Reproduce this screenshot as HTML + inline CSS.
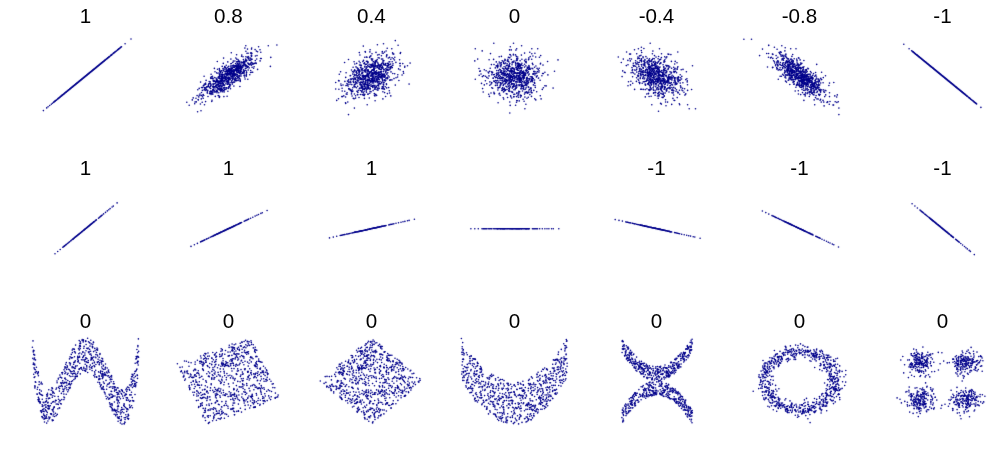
<!DOCTYPE html>
<html lang="en">
<head>
<meta charset="utf-8">
<title>Correlation examples</title>
<style>
html,body{margin:0;padding:0;background:#fff;}
body{width:1000px;height:457px;position:relative;overflow:hidden;font-family:"Liberation Sans",sans-serif;}
svg{position:absolute;left:0;top:0;display:block;}
.t{position:absolute;width:80px;text-align:center;font-size:20.6px;line-height:24px;color:#000;white-space:nowrap;will-change:transform;transform:translate(0.45px,0);}
</style>
</head>
<body>
<svg width="1000" height="457" viewBox="0 0 1000 457" fill="none" stroke="#00008b" stroke-width="1.6" stroke-linecap="round" stroke-linejoin="round">
<defs><filter id="soft" x="0" y="0" width="1000" height="457" filterUnits="userSpaceOnUse" color-interpolation-filters="sRGB"><feConvolveMatrix order="3" kernelMatrix="0.0052 0.0619 0.0052 0.0619 0.7314 0.0619 0.0052 0.0619 0.0052" divisor="1" edgeMode="none" preserveAlpha="false"/></filter></defs>
<g filter="url(#soft)">
<g><path d="M87.7 74.4zM106.7 58.8zM112.4 54.1zM93.1 70zM87.6 74.5zM79.3 81.3zM78.9 81.6zM106 59.4zM60.3 96.8zM65.3 92.7zM84.5 77zM91.9 71zM83.8 77.6zM88.9 73.4zM97.3 66.6zM89.7 72.8zM80 80.7zM102.3 62.4zM69.1 89.6zM57.8 98.9zM117.2 50.3zM78 82.3zM110.8 55.5zM79 81.5zM77.8 82.5zM81.9 79.1zM121 47.1zM99 65.1zM53.6 102.3zM99.9 64.4zM104.4 60.7zM88.6 73.7zM99.6 64.7zM101.8 62.9zM74.6 85.1zM94.6 68.8zM88.6 73.7zM76.4 83.7zM94.6 68.7zM114.9 52.1zM93.5 69.6zM81.3 79.6zM104.9 60.3zM95.7 67.9zM83 78.3zM92.5 70.5zM96.3 67.3zM89.1 73.2zM94.2 69zM89.5 73zM85.4 76.3zM76.6 83.5zM91.1 71.6zM69.9 88.9zM100.6 63.8zM99.8 64.5zM96.4 67.3zM85.8 75.9zM90.3 72.3zM111.8 54.7zM82 79.1zM119.4 48.5zM109.5 56.5zM61 96.3zM76.8 83.3zM89.3 73.1zM77.7 82.6zM81.8 79.2zM94.6 68.7zM107.5 58.2zM100.7 63.7zM81.6 79.4zM69.9 89zM98.5 65.6zM89.2 73.2zM87.9 74.2zM74.9 84.9zM102.7 62.1zM72.9 86.5zM90.3 72.2zM66.8 91.5zM82.5 78.6zM82.5 78.6zM101.1 63.4zM114.5 52.5zM66.5 91.8zM80.6 80.2zM87.9 74.2zM66.4 91.8zM90.4 72.2zM118.3 49.4zM84.6 77zM93.7 69.5zM77 83.2zM92.6 70.4zM83.7 77.7zM80.5 80.2zM102.5 62.2zM77.4 82.8zM106.3 59.1zM71.3 87.8zM71.4 87.7zM88.1 74.1zM91.9 70.9zM91.1 71.6zM77.1 83.1zM90.2 72.3zM97.4 66.4zM78.6 81.9zM79.8 80.8zM97.6 66.3zM96.7 67zM91.4 71.4zM85.8 75.9zM116.1 51.2zM87.9 74.2zM85.7 76zM79.1 81.4zM97.4 66.4zM73 86.4zM84 77.4zM83 78.3zM101.2 63.3zM92 70.8zM82.2 78.9zM84.9 76.6zM88.4 73.8zM78.6 81.8zM65.3 92.7zM82.5 78.6zM87.1 74.9zM114.2 52.7zM105.4 59.9zM97.8 66.1zM81.9 79.1zM67.9 90.6zM93.5 69.7zM82.6 78.6zM64.9 93zM95.1 68.4zM89.5 72.9zM55.7 100.5zM92.2 70.7zM57.4 99.2zM75.6 84.3zM55 101.1zM83.8 77.6zM60.8 96.4zM96 67.6zM67.2 91.2zM83 78.2zM99 65.1zM86.9 75zM92.1 70.8zM84.1 77.3zM86.8 75.1zM88.7 73.6zM84.6 77zM83.1 78.1zM76.9 83.2zM75.7 84.2zM83.3 78zM92.2 70.7zM80 80.7zM102.9 61.9zM87.6 74.5zM99.2 65zM108.6 57.3zM77.8 82.5zM97.8 66.1zM88.6 73.6zM97.3 66.5zM82.1 79zM71.6 87.5zM80.5 80.3zM109 57zM91 71.7zM61.8 95.6zM108.3 57.6zM60.7 96.5zM76 84zM96 67.6zM67.4 91zM90.7 72zM85.8 75.9zM84.2 77.2zM90.6 72zM86.9 75zM110.2 56zM92.2 70.7zM68 90.5zM91.4 71.4zM66.4 91.8zM66.8 91.5zM107 58.6zM68.6 90.1zM104 61zM85.6 76.1zM105.8 59.6zM73.8 85.8zM80.9 79.9zM86.5 75.4zM85.3 76.4zM87.8 74.3zM83.8 77.6zM94.4 68.9zM82.6 78.5zM76.5 83.6zM77.4 82.8zM62.1 95.3zM91.4 71.3zM109.9 56.2zM63.2 94.4zM104 61zM74.8 85zM89.6 72.8zM88.5 73.7zM85.3 76.4zM95.3 68.2zM68.5 90.1zM85.3 76.3zM97.1 66.7zM90.5 72.1zM92.6 70.3zM60.4 96.8zM77.3 82.9zM94.1 69.1zM108.3 57.5zM92.5 70.5zM84.9 76.7zM77.5 82.8zM103.1 61.8zM110.7 55.6zM87.2 74.8zM71.6 87.6zM73.8 85.7zM55.5 100.8zM87.3 74.7zM67.8 90.7zM98.3 65.7zM80.9 80zM108.1 57.7zM71.3 87.8zM70.6 88.4zM65.4 92.6zM68.6 90.1zM77.7 82.6zM87.7 74.4zM93.9 69.3zM78.5 81.9zM92.9 70.1zM65.7 92.4zM105.5 59.8zM92 70.9zM93.9 69.4zM81.6 79.4zM107.8 58zM66.1 92.1zM99.7 64.5zM76.3 83.7zM63.7 94.1zM101.1 63.5zM81.4 79.6zM80.6 80.2zM86.5 75.3zM82.1 79zM76.1 83.9zM88.9 73.4zM112.9 53.8zM70.8 88.2zM80.2 80.5zM79.3 81.3zM80.7 80.1zM85.3 76.3zM92.8 70.2zM81.4 79.5zM80.4 80.4zM78.7 81.7zM88.7 73.6zM76.8 83.3zM52.5 103.2zM99.9 64.4zM84.6 76.9zM62 95.5zM73.9 85.6zM100.6 63.8zM69.8 89.1zM102 62.7zM77.4 82.8zM91 71.7zM94.3 69zM73.1 86.4zM94.4 68.9zM66.6 91.7zM104.8 60.4zM85.1 76.5zM80.7 80.1zM88.1 74.1zM79 81.5zM97.5 66.4zM97.5 66.4zM79.4 81.2zM98.3 65.7zM70.5 88.5zM90.5 72.1zM91.3 71.4zM92.2 70.7zM79.3 81.2zM98 66zM78 82.3zM116.6 50.7zM96.8 66.9zM86.3 75.6zM98.5 65.5zM102.6 62.2zM84.1 77.3zM93.3 69.8zM67.7 90.8zM72.2 87zM84.9 76.7zM85.7 76.1zM64.8 93.1zM58.9 98zM75.6 84.3zM72 87.3zM78.8 81.7zM113.3 53.4zM79 81.5zM73.1 86.3zM72.5 86.9zM89.7 72.7zM131 39zM89.3 73.1zM86.8 75.1zM74.1 85.5zM95.2 68.3zM100.4 64zM88.1 74.1zM86.1 75.7zM81.6 79.4zM93.1 70zM77 83.1zM90.5 72.1zM89.1 73.2zM75.1 84.7zM98 66zM86.1 75.7zM80 80.7zM87.5 74.5zM77.6 82.7zM67.6 90.8zM86.5 75.4zM96.7 67.1zM104.6 60.5zM120.5 47.5zM84.5 77zM103 61.9zM76.7 83.4zM51.3 104.2zM79.8 80.8zM61.3 96zM97.1 66.7zM89.2 73.2zM65.2 92.8zM89.9 72.5zM67 91.3zM80.1 80.6zM43.4 110.6zM89.7 72.8zM91.5 71.3zM71 88.1zM95.8 67.8zM65.8 92.3zM83.2 78.1zM80.6 80.2zM75.8 84.1zM105.4 59.9zM55.2 101zM103.4 61.5zM92 70.9zM69.1 89.6zM94.9 68.5zM85.6 76.1zM100.5 63.9zM77.4 82.8zM95.8 67.7zM88.6 73.6zM99.9 64.4zM71.9 87.3zM73.5 86zM95.7 67.9zM56.8 99.7zM72.7 86.7zM64.1 93.7zM82.1 79zM94.3 69zM105.8 59.6zM55.2 101zM65.7 92.4zM79.7 81zM98.7 65.4zM82.1 79zM83.7 77.7zM102.7 62.1zM77 83.1zM77.7 82.5zM83 78.3zM75.5 84.4zM80.1 80.6zM78.6 81.8z"/><path d="M76.6 83.5zM93.6 69.6zM95.2 68.3zM102.5 62.3zM77.5 82.7zM66.2 92zM85.2 76.4zM75.6 84.3zM93.1 70zM75.1 84.7zM96.3 67.4zM64.9 93zM87.1 74.9zM75.8 84.1zM118.8 48.9zM96.1 67.5zM46.7 107.9zM79.1 81.4zM81 79.9zM62.3 95.2zM98.3 65.7zM71.7 87.5zM94.8 68.6zM87 75zM94.5 68.8zM66.3 91.9zM64.3 93.6zM98.8 65.3zM70.9 88.1zM78.7 81.8zM81.3 79.7zM100.3 64.1zM67.1 91.3zM73.9 85.7zM55.1 101.1zM77.7 82.5zM74.3 85.4zM83.8 77.6zM62.2 95.3zM70.7 88.3zM74.3 85.3zM74.9 84.9zM88 74.2zM82.4 78.8zM83.1 78.2zM77.7 82.6zM73 86.4zM84.9 76.7zM84.4 77.1zM69.6 89.2zM81.8 79.2zM61.7 95.7zM59.7 97.3zM99.8 64.5zM86.7 75.2zM101 63.5zM99.1 65.1zM91.8 71zM90 72.5zM78.4 82zM80.7 80.1zM84.2 77.2zM86 75.8zM62.9 94.7zM93.4 69.7zM73.9 85.7zM78.9 81.6zM79.2 81.3zM73.8 85.7zM93 70.1zM70.5 88.5zM66.3 91.9zM94.3 69zM74.7 85zM91.8 71zM103.3 61.6zM69.9 88.9zM84.4 77.1zM87 75zM102.8 62zM66 92.2zM59.3 97.7zM89.5 72.9zM84.3 77.2zM95.9 67.7zM77 83.2zM87.5 74.5zM68.3 90.2zM87.6 74.4zM93.9 69.3zM76.1 83.9zM89.1 73.3zM88.5 73.7zM95.6 67.9zM58.2 98.5zM110.9 55.4zM83.2 78.1zM70 88.9zM81.8 79.2zM74.5 85.2zM79.9 80.8zM73.7 85.8zM78.8 81.7zM83.2 78.1zM70.2 88.7zM99.2 65zM86.6 75.3zM80.2 80.5zM82.9 78.4zM81.5 79.5zM75.9 84zM92 70.9zM91.7 71.1zM86.4 75.5zM88.1 74.1zM109.1 56.9zM74.2 85.4zM87.5 74.6zM79.7 81zM85.5 76.2zM89 73.4zM102.7 62.1zM106.9 58.7zM96.7 67zM76 84zM69.7 89.1zM113.7 53.1zM73.3 86.2zM89.9 72.6zM101.1 63.5zM82.6 78.6zM77.1 83.1zM85.9 75.9zM72 87.3zM81.2 79.7zM82.6 78.6zM100.7 63.7zM81.2 79.7zM99.8 64.5zM82.1 79zM67.2 91.2zM83.5 77.8zM71.4 87.7zM97.4 66.5zM93.8 69.4zM97.4 66.5zM93.1 70zM83.8 77.6zM78 82.3zM76.1 83.9zM76.2 83.8zM89.8 72.7zM93.3 69.8zM69.2 89.5zM66.6 91.6zM101.5 63.1zM70 88.9zM76.4 83.6zM82.9 78.3zM68 90.5zM91.7 71.1zM74.1 85.5zM58.3 98.4zM86 75.8zM78.1 82.3zM92.8 70.2zM83.9 77.5zM85.4 76.3zM93.3 69.8zM77.4 82.8zM49.7 105.5zM70.7 88.3zM78 82.4zM97 66.7zM93.4 69.7zM107.4 58.2zM95.1 68.3zM78.2 82.2zM107.8 57.9zM81.7 79.3zM84.8 76.7zM87.4 74.6zM93.5 69.7zM82.8 78.4zM82.6 78.6zM84.3 77.1zM60.9 96.3zM95.3 68.2zM101.1 63.4zM106.9 58.7zM82.7 78.5zM99.5 64.8zM70.4 88.5zM78.7 81.8zM91.1 71.6zM104.2 60.9zM69 89.7zM83.9 77.5zM115.3 51.8zM75.7 84.2zM76.6 83.5zM98.1 65.9zM93.9 69.3zM75.7 84.2zM70.7 88.3zM93.9 69.3zM90.2 72.3zM81.4 79.6zM97.9 66zM72.4 86.9zM78.4 82zM66.5 91.7zM79.4 81.2zM83.3 78zM68.3 90.2zM93.8 69.4zM86.1 75.7zM89.5 72.9zM125.1 43.8zM91.1 71.6zM76.7 83.4zM103.1 61.8zM63.8 94zM83.5 77.8zM88.7 73.6zM89.6 72.8zM94.4 68.9zM86.6 75.3zM98.9 65.2zM67.7 90.7zM80.8 80.1zM95.2 68.2zM84.5 77zM90.8 71.8zM81.7 79.3zM74.5 85.2zM73.4 86.1zM84.8 76.8zM89.6 72.8zM68.4 90.2zM86.8 75.1zM71.7 87.5zM90 72.5zM96.2 67.4zM84.8 76.8zM93 70zM63.1 94.6zM94 69.2zM104.5 60.7zM68.1 90.4zM83.2 78zM60.8 96.4zM62.1 95.3zM92.1 70.8zM82.3 78.8zM64.4 93.5zM89.6 72.8zM89.5 72.9zM91.9 71zM92.7 70.3zM84.9 76.7zM89.5 72.9zM87.1 74.9zM90.7 71.9zM93.1 69.9zM99.5 64.8zM82.4 78.8zM69.9 88.9zM98.7 65.4zM77.6 82.7zM79.9 80.8zM90.5 72.1zM75.2 84.6zM69.1 89.6zM99.5 64.7zM48.1 106.8zM98.4 65.6zM90.7 71.9zM78.8 81.7zM85.4 76.3zM64.5 93.4zM95.9 67.7zM81 79.9zM87.2 74.8zM66.5 91.8zM74.1 85.5zM76 83.9zM92.9 70.1zM94 69.2zM90.7 72zM94 69.2zM84.2 77.3zM60.2 96.9zM83.6 77.8zM96 67.6zM60.2 96.9zM92.6 70.4zM71.7 87.5zM86.4 75.5zM90.9 71.8zM110.8 55.5zM94 69.2zM68.6 90.1zM86.1 75.7zM67.8 90.6zM81.1 79.8zM96 67.6zM83.2 78.1zM80.4 80.3zM79.5 81.1zM115.5 51.6zM73.3 86.2zM66.4 91.8zM89.1 73.2zM71.8 87.4zM83.3 78zM93.6 69.6zM77.8 82.5zM84.4 77.1zM68.8 89.8zM81.4 79.5zM89.1 73.3zM85.7 76zM101.4 63.2zM83.4 77.9zM97.5 66.3zM85.3 76.3zM62 95.4zM104.9 60.3zM117.7 49.8zM78.6 81.8zM86.3 75.5zM81.8 79.2zM87.7 74.4zM78 82.3zM87.5 74.6zM77.3 82.9zM88 74.2zM61.1 96.1zM88.9 73.4zM69.7 89.1zM70 88.9zM96 67.6zM63.7 94zM73 86.4zM98.2 65.8zM54.5 101.5zM72.4 87zM73.2 86.2zM75.1 84.7zM84.1 77.4zM107.5 58.2zM81.6 79.3zM95.6 67.9zM95.4 68.1zM84.6 76.9zM111.5 54.9zM82.4 78.7zM108.7 57.2zM104.6 60.6zM83.8 77.6zM100.5 63.9zM99 65.1zM74.5 85.2zM101.4 63.2zM100 64.3zM85.9 75.9zM80.3 80.5zM56.2 100.2zM92.5 70.4zM102.5 62.3zM121.5 46.7zM98.7 65.4zM62 95.4zM76.9 83.3zM68 90.5zM78.7 81.7zM86.2 75.6zM89.4 73zM109.2 56.8zM59.8 97.2zM84.1 77.3zM75.8 84.1zM95.8 67.8zM120 48zM90.2 72.4zM72 87.2zM75.6 84.3zM88.3 73.9zM105.1 60.1zM93 70.1zM89.7 72.8zM108 57.8zM85.7 76.1zM79.5 81.1zM95.9 67.7zM103.6 61.4zM81.1 79.8zM71.4 87.8zM83.8 77.6zM79.9 80.8zM101.7 62.9zM74.5 85.2zM54.1 101.9zM91.9 71zM93.9 69.3zM98.4 65.6zM97.9 66zM107.5 58.2z"/></g>
<g><path d="M228.5 71.8zM225.3 77.6zM244 65.6zM241.8 73.2zM252.7 63zM204.1 85.2zM215.8 81.8zM213.1 90.8zM221.2 80.7zM205.7 83.3zM228.5 68.6zM229.9 68.5zM233 73.3zM206.1 89.3zM221.4 81.3zM226 77.5zM228.4 88.5zM222.4 80zM222.1 79zM217.7 84zM217.8 82.1zM227.9 73.4zM207.8 86.8zM235.1 65.9zM216 85.4zM245.3 70.3zM218.8 92.7zM216.7 72.8zM212.1 78.5zM237.5 61.5zM224.9 81.9zM229 79.2zM241.8 55.1zM236.6 66.1zM233.6 73.8zM198.3 100zM227.5 80.7zM243.8 72.9zM235.4 80.2zM238.6 67.5zM230.4 72.1zM258.6 46.7zM237.6 76.9zM226.2 65.2zM231.8 74zM246.1 75.5zM233.3 61.1zM238.3 70.4zM228.1 74.3zM238.6 61.6zM236.3 67.9zM232.2 68.2zM231.8 68.9zM238.3 71zM227.6 78.6zM222.9 68.7zM222.5 91.8zM206 87.6zM229.1 78.7zM227.9 88.1zM233.9 86.1zM219.7 96.7zM252.1 59.3zM235.9 80.9zM229.8 86.9zM250.7 70.5zM221.9 88.4zM242.7 67.8zM223.3 70.6zM251.8 59.4zM227.3 78.2zM227.6 84.2zM250.6 60.1zM212.5 90.7zM248.2 56.5zM225.2 78.4zM218.5 88.9zM217.1 73.2zM201.3 98.9zM232.3 78.1zM231.1 70zM252 64.2zM217.5 69.3zM213.8 86.8zM227.2 71.7zM221.8 89.7zM249.3 60.2zM221.1 86.4zM213.5 87.2zM235.7 65.5zM251.7 55.3zM243.6 69.9zM228.2 73.5zM231.4 73.6zM237.7 65.8zM219 78.2zM228.1 80.3zM189.2 105.2zM251.4 62.5zM217.9 78zM211.4 76.7zM238 77.4zM217.6 85zM240 62.7zM232.5 79.5zM243 56.8zM221.1 88.4zM221.9 83.7zM242.5 67zM248.2 70zM244.1 71.2zM197.6 111.7zM239.8 61.4zM205.6 83.2zM261.2 58.5zM221.2 85.9zM243.4 59.6zM217.4 80.4zM234.7 73.3zM239.6 63.7zM219 83.5zM252.7 72.3zM213.8 80.2zM237.2 64zM238.8 64.7zM220.8 91.7zM256.7 59zM197.1 95.6zM218.7 78zM233.4 66.1zM224.7 76.8zM223.3 63.4zM227.3 82zM244.3 62.4zM235.1 74zM213.1 89.8zM200.6 82.1zM231.3 78.1zM226.8 73.9zM225 80.5zM203.3 85.9zM221.2 76.8zM234.3 71.7zM236.6 54.8zM244.7 77zM244.7 64.1zM224.2 75.8zM247 53.2zM226.1 77.6zM228.1 78.6zM219.1 96zM218.2 95.6zM220.4 89.3zM212.7 93.1zM228.5 74.7zM232.3 84.1zM236 74.6zM220.5 90.2zM230 71.7zM223.9 88.1zM219 76.5zM233.4 71.9zM232 66.2zM243.7 65.8zM257 55.6zM215.3 96.4zM222.3 76.6zM247.3 67.3zM257.6 51.7zM229.8 74zM203.2 98.3zM241 68.9zM239 72zM225.1 78.5zM225.7 71.4zM223 81zM226 87.9zM223.4 78.7zM227.9 74.9zM207.8 90.4zM213 78.6zM213.2 90.6zM218.7 85zM200.4 104zM211.4 91.4zM234.7 80zM205 83.8zM243.9 61.6zM238 68.1zM237.4 68.1zM222.4 72.5zM225.2 77.2zM225.1 76.4zM220.4 85.1zM215 71.8zM221.5 78.4zM245.1 61.1zM230.1 79.7zM231.6 71.6zM242.7 62.6zM193.2 97.9zM257.6 69.4z"/><path d="M227.8 61.9zM236.2 66.2zM228.9 77.8zM216.3 87.5zM228.8 86.9zM220 71.5zM239.7 68.6zM245.9 51.2zM238.7 67zM233.8 67.3zM222 78.2zM213.2 86.5zM243.7 63.9zM232.2 65.5zM236.5 80.5zM229.6 71.4zM230.2 74.3zM205.7 84.5zM227.7 67.2zM233.5 74.4zM214.2 92.1zM223.1 81.6zM217.2 81.4zM230.1 79.1zM205.6 101.6zM236.6 69.2zM255.1 49.6zM223.6 58.1zM231.3 63.5zM231.1 76.6zM270.4 66.4zM228.7 78zM228.8 66.3zM219.5 69.7zM229.9 78.2zM220.4 88.4zM212.7 78.1zM240.1 66.2zM245.5 65.7zM217.9 89.8zM242.7 72.4zM223.9 96.6zM228.6 80.9zM251.6 53zM231.5 68.2zM236.5 70zM243.8 61.2zM219.4 89.4zM211.5 93.3zM238.2 65.8zM250.9 58.7zM211.1 78.3zM238 66.2zM248.8 57.2zM201 95.5zM237.1 72.1zM202.7 90.5zM222.5 89.8zM202.3 90.3zM216.5 91.5zM236.8 72.1zM216.9 79.5zM221.2 70.9zM219.9 75.6zM232.5 68zM223.2 81.2zM202 95.3zM229.6 70.9zM219.3 97.4zM211.8 101.5zM240.1 65.2zM244.1 71.4zM270.8 57.4zM249.8 64.8zM229.9 73.6zM241.6 66.8zM236.6 67.9zM227.7 72.9zM212.9 89.5zM220.3 83.6zM238 77.6zM226.4 79.4zM232.1 76.2zM213.7 81.2zM202.5 87.6zM248.3 66.7zM232.3 70.3zM238 59.5zM221.9 80.1zM238.1 69.1zM201.5 87.5zM199.2 95.3zM211 93.3zM227.4 74.9zM233.2 73.8zM240.5 66.2zM229.4 74.6zM233.5 70.1zM210.1 81.7zM225.9 89.4zM230.9 68.9zM245.4 66.2zM238 80.6zM219.1 81.1zM276.9 45zM232 80.7zM225.6 73.9zM214.3 90.9zM230.9 59.1zM210.7 88.5zM245.6 59.1zM240.3 80.4zM237.6 63.4zM237 78.8zM244.1 73zM227.6 78zM216 82.7zM239.8 72.8zM242.4 62.5zM204.1 76.2zM233.7 70.1zM252.1 67.3zM211.1 74.2zM211.4 85zM236.9 64.9zM251.4 65.3zM260.6 58.5zM246.4 73.1zM219.9 81.9zM236.5 76.3zM224.1 85.3zM239.9 70.7zM230.2 70.6zM223.4 83.6zM240.4 65zM223.2 77.3zM246.4 74.6zM235.7 78.1zM210.6 91.1zM239.5 73.6zM232.9 78.4zM222.7 82.7zM232 70.8zM242.6 65.4zM234.6 79.7zM234.2 69.7zM230.8 63.7zM195 102zM238.4 65.7zM244.8 62.8zM226.4 71.1zM225.5 67.4zM222 75.9zM239.1 66.2zM209.5 93.6zM209.5 83.3zM229 70.6zM235.8 58zM244.1 64.7zM222.3 82.6zM209.8 92.1zM253.6 68.2zM231.3 52.8zM239.4 67.1zM228.5 77.4zM238.4 80zM241.3 69.3zM230.3 73zM212.6 92.1zM204.2 84.3zM201 110.7zM243.7 62.8zM250.2 63.7zM223.5 69zM248.1 53.2zM230.5 88.7zM208 96.5zM241.3 63zM251.5 56.4zM225 78.9zM224.4 67.8zM246.8 66.2zM247.5 66.2zM240.2 70.2zM215.7 91.9zM216.5 79.4zM226.7 74.7zM226.4 87.9zM249.8 74.8zM231.1 70.8zM222.6 75.5zM208.3 86.5zM196.3 101.9zM233.9 76.2zM236.6 67.3zM206.2 90zM234.3 74zM233.9 69.6zM240.8 69zM221.8 70.9zM244.2 71zM229.9 77.2z"/><path d="M215.4 86.5zM207.3 93.1zM234 74.5zM226.5 81.7zM251.8 53.5zM239.9 73.2zM237.6 70.6zM229.8 85.8zM227 70.4zM244.1 75.8zM246.6 72.6zM251.5 49.1zM237.2 69.2zM242.9 73.2zM219.6 78zM210.3 91.8zM225.9 68zM221.4 78zM268.3 45.7zM229.1 73.2zM209.6 87.1zM217.4 91.5zM222 80.1zM219.3 68.6zM226.1 77.9zM241.1 65zM217.3 61.5zM208.8 83.9zM237 69.1zM230.8 72.4zM251.2 55.2zM196 98.3zM247.8 63.1zM260 49.7zM255.9 62.9zM218.9 86.4zM235.1 66.6zM238.7 70.4zM227.2 73.6zM236.8 71.3zM227.4 84.1zM230.9 82.8zM228.8 87.1zM222.6 89.7zM215.9 85.4zM221.1 81.5zM218.7 82.7zM250.9 63.8zM223.3 90.6zM235.6 68.9zM222.3 85.1zM235.3 77.8zM237.4 74.5zM214.4 68.4zM224.5 80.7zM223.1 74.6zM236.5 74.8zM240.9 74.2zM227.9 73.9zM219.5 75.1zM231.7 73.3zM231 67.8zM234.2 79.6zM211.4 92zM219.7 77.8zM235.6 70zM236.3 66.7zM198.8 96.9zM254.1 66.8zM192.3 99.9zM231.6 72.4zM234.6 70.6zM229.7 74.6zM247.8 79.2zM221 74.1zM220.3 80.8zM210.4 83.4zM238.6 60.9zM206.7 86.9zM238.5 64.9zM229.6 78.9zM233.6 72zM221.5 79.8zM219.7 78.6zM239.7 76zM241.1 67zM228.7 78.5zM227.2 72.2zM240.3 67.6zM218.9 81.7zM227.4 82.1zM234.5 75.9zM224.1 80.8zM241 71.4zM233.9 74.8zM235.7 79.3zM236.3 70zM217.2 81.2zM224.5 74.3zM236.1 71.1zM221.2 76.3zM222.2 74.1zM219.5 70.6zM194.7 103.8zM214 86.6zM207.2 92.3zM237.1 68.3zM237.1 74.7zM239.1 72zM221.9 86.7zM241.6 62.1zM232.6 74.9zM203.8 95.5zM223.9 77.5zM256.2 63.4zM219.1 82.8zM234 78.6zM245.3 68.2zM225.7 77.2zM220.6 80zM252.9 64.2zM260.1 60.9zM239.9 78.9zM216.7 84.7zM230.3 73.2zM248.8 58.6zM219.6 83.1zM202.4 96.7zM250.6 72.5zM208.3 85.6zM243.9 71.2zM227.8 82.3zM251.7 48.1zM238.2 72.7zM214.3 81.4zM212.5 76.2zM216 86.1zM236.7 59.1zM213.1 84.9zM207.2 86.8zM229.9 72.5zM207.4 91.7zM235.4 75.2zM227.2 70.7zM233.5 65.3zM221.3 90.6zM219.9 85.3zM215 89zM233.8 65.2zM204.8 88.1zM238.2 77.2zM234.2 79.7zM221 81.9zM232.2 75.9zM231.6 81zM223.9 77zM239 69.8zM210.9 78.5zM250.6 53zM239.4 78.4zM260.8 52.3zM216.4 81.1zM237.2 66.8zM223.9 80.9zM226.6 69zM233.8 73.6zM234.6 82.1zM234.3 67.4zM232.9 70.2zM228.5 78.5zM222.3 77.3zM218 88.5zM229.5 84.8zM254.6 63.4zM228 74zM232.2 68.5zM240.7 72.1zM240.2 72.1zM234.9 61zM236.7 61.9zM214.7 86.9zM221.3 80.3zM221.6 74.7zM213.6 81.4zM241.6 56.3zM218 86.2zM246.1 68.3zM241.6 71zM200 94.1zM219.3 74zM249.6 60.3zM228.3 77.2zM225.9 83.7zM226.8 76.1zM232.2 76.8zM213.2 89.5zM219 82.5zM228.5 71.3zM218.9 73.1zM234.6 74zM249.7 64.5zM224.9 78.4z"/><path d="M225.3 73.1zM232.4 71.8zM213.5 84.3zM244.3 75.1zM212.8 94.2zM255.3 60.6zM216.7 81.3zM212.7 86.7zM214.3 81.1zM222.2 66.4zM219.7 86.4zM202.2 102.2zM248.6 64.5zM220.2 90.4zM232.3 71.5zM230.6 75.3zM212 100.2zM241.4 67.7zM218 88.1zM237.4 72.5zM213.1 83.8zM216.3 87.1zM242.2 73.2zM233.2 71.9zM237.9 75.5zM208.5 84.5zM247.5 49.1zM237 67.7zM213.1 80.7zM228.6 74.5zM223.8 87.9zM216.3 90.2zM217.9 84.8zM224.5 87.2zM231.6 82zM246.2 60zM229.5 79zM233.5 72.4zM256.4 51.1zM248.6 63.5zM210.6 86.4zM213.6 88zM237.9 69.8zM230 84.6zM240.3 70.9zM220 76.2zM220.6 72.5zM247.3 67.4zM227.1 96.3zM233.4 75.5zM235.5 69.4zM230.5 74.8zM224.2 71.2zM222.3 79.9zM227.2 70.5zM247.4 57.4zM209.6 87.7zM245.9 56.7zM228.6 82.3zM230.5 85zM217 92.7zM218.1 82.2zM226.9 74zM225 69.4zM241.7 69.1zM214.4 83.7zM220.3 78.8zM227.9 91.2zM219.6 76.2zM220.3 71.6zM210.5 85zM237.9 66.8zM215.7 82.9zM230.8 69.8zM232.8 82.8zM223.3 83.4zM246.5 71.1zM230.7 66.1zM236.3 74.1zM206.1 80.4zM224.7 85.1zM199.2 88.4zM250.2 58zM227.5 70.4zM227.4 72.6zM224.7 89.4zM243.9 61.8zM246 61.6zM211.1 94.4zM233.2 77.3zM201.5 92.5zM224.3 89.7zM203.2 94.6zM205.2 90.4zM230.4 70.1zM213.7 81.3zM204.3 87.6zM235.3 74.2zM221.1 81.7zM224.1 91.9zM197.8 89.8zM226.8 74.7zM218.3 77.1zM243 65.9zM222.1 78zM234.1 71.1zM229.4 78.6zM220.3 72.7zM253.6 63.7zM249.1 67.9zM226.8 71.1zM246.5 65.6zM217.9 88zM209.2 81.5zM219.8 74.4zM238.8 77.8zM206.5 89.6zM210.8 77.6zM240.3 80.3zM251.2 62.3zM205.5 88.1zM228.5 70.4zM226.1 73.9zM240.2 81.4zM245.8 45.7zM219.2 89.3zM186.8 102.2zM229.5 69.3zM221.9 86.8zM219.8 88.1zM248.3 58.9zM228.8 83.8zM234.7 65.7zM226.3 79.9zM214.8 77.6zM232.8 62.5zM213.8 87.5zM215.5 81.3zM226.6 70.9zM245.6 64.9zM241.1 76zM246.8 60.6zM225.5 79.2zM231.3 70.2zM228.1 69.6zM238.1 68zM246.4 76.1zM232.6 74.9zM229 82.9zM230.7 66zM232.5 74.2zM218.2 81zM238.5 68.4zM221.8 83.8zM232.7 75.6zM238.5 70.8zM223.5 84.6zM226.8 81.6zM232.4 75.8zM227.6 84.3zM204.5 104.8zM251.8 72.3zM212.5 78.6zM235.6 63.6zM228.7 79.9zM245.7 60.4zM232 73.9zM226.2 75zM221.6 77zM224.1 90.7zM245.1 79zM204.2 89.5zM216.2 78.3zM244.9 48.1zM240.6 66zM230.8 70.2zM210.5 83.5zM232.4 76.5zM255.4 56zM224.7 66.5zM217.3 91.1zM228.6 81.1zM238.1 69zM198.2 99.5zM222.9 78.6zM217.1 87.7zM251 53.1zM238.3 75.9zM245.2 64.5zM218 88.3zM246 59.8zM239.9 86.5zM215.4 81.6zM233.8 82zM216.6 80.1zM213.2 87.2zM239.6 75.9zM223.2 85.5zM238.1 63.2zM221 82.1zM232.2 68.2zM210.4 93.5z"/></g>
<g><path d="M377.2 81.5zM383.3 71.6zM387.4 66.4zM380.3 65.5zM383.2 53.3zM345.5 102.8zM360.9 67.5zM378.5 68.6zM383.7 86zM388.3 70.1zM387.3 63.2zM371.4 78.5zM361.6 78.7zM367.8 94.2zM366.4 61.3zM367.3 79.8zM375.7 94.4zM364.8 75.7zM382.3 51.5zM382.4 86.8zM359.3 76.6zM359.6 70.2zM356.9 91.2zM381.2 67.3zM378.6 74.5zM350.1 75.8zM366.1 75.8zM362.4 87.3zM367.6 88.7zM361.6 86zM378.1 66.9zM348.5 59.5zM356.2 74.7zM368.2 62.1zM375.7 77zM386 71.3zM380 83.9zM368.6 66.2zM346.2 94zM383.8 76.4zM368.7 87.8zM361.4 65.7zM357.5 91.8zM357.3 75.9zM382.4 66.6zM367.4 79.4zM350.4 79zM359.2 72.9zM365.9 80.3zM379.2 68.4zM382.4 67.7zM348.1 84.2zM350.8 82.6zM387.4 66.8zM386.6 55.3zM372.7 75.9zM377.1 73.4zM376.6 70.9zM368.4 70.2zM382.2 78.8zM398.9 80.5zM386.9 65.6zM369.6 66.2zM361.8 91.2zM375.9 76.3zM385 76.6zM369.6 79.1zM388.5 63.9zM362.2 94.6zM352.5 71.7zM378 65.7zM375.3 87.3zM375.1 100.8zM375.2 63.6zM335.7 89zM361.4 87.5zM383.5 60.9zM365.2 51.6zM371.7 76.1zM367.2 79.9zM375.2 82zM344.6 62.5zM369.1 73.4zM359 71.7zM386.7 78zM368.5 76.9zM372.9 77.1zM364.1 63.6zM373.2 70.1zM362.8 76.1zM380 81.5zM371.3 71.5zM383.5 43.8zM364.8 83.3zM341.2 85.5zM373.8 68.5zM369.4 80.5zM348 81.5zM383.6 84.6zM367.6 84.1zM373.2 66.3zM358.1 68.5zM370.1 49.7zM366.4 68.8zM367.2 74.5zM374.6 86.1zM381.8 65.2zM373.1 80.3zM388.3 58zM363.5 60.4zM369.1 80.4zM375.4 61.9zM389.8 69.7zM366.2 84.3zM388.3 64.9zM379.4 69.2zM364.5 62.9zM387.1 74zM371.2 73.8zM351.5 93.9zM365.3 82.5zM375.2 61zM373.2 72.2zM361 81.8zM371.1 75zM380 83.9zM377.9 75.7zM390.2 79.9zM382 75.9zM353.8 76.8zM392.3 67.6zM381.6 76.5zM381.5 82.8zM386.5 74.1zM382.3 86.6zM338.6 80.5zM400.6 52.6zM362.8 68.5zM356.1 72.3zM357.1 67.9zM389.6 93zM375 66.1zM357.2 80.3zM363 89.3zM352.9 91.1zM369.6 57.5zM362.7 89.2zM367.3 61.3zM378.1 74.8zM362.5 75.4zM376.1 76.7zM369.3 73.8zM354.1 74.3zM373.6 65.7zM392.2 61.8zM407.5 65.8zM379.3 79.6zM364.9 66.2zM347.5 81zM350.6 75.6zM355.5 81.5zM367.3 74.2zM356.5 87.7zM368.2 88.6zM361.6 86.9zM380.7 71.8zM378.2 75.5zM355.6 98.1zM362.8 76.1zM390.6 64.1zM360.6 78.9zM387.6 78.1zM380.5 76zM364.6 88.7zM357.6 86.2zM384 82.7zM357 73.4zM382.9 68.4zM374.9 95.9zM360 71.2zM389.6 57.4zM348.6 79.9zM373.1 70.2zM354.7 69.9zM400.1 69.7zM355.5 83.1zM353.2 81.6zM354.3 75zM372.4 85.5zM348.7 88.9zM363 78.7zM365.3 75.5zM364.1 91.3zM379.3 76zM354.9 86.4zM376 78.9zM391.4 66.4zM382.7 61zM385.3 75.9zM350.6 81.3zM390.2 67.1zM379.4 74.5zM354.1 86.7z"/><path d="M366.2 87.1zM386.7 69.2zM359 77.6zM376.8 61.6zM358.2 90.4zM378.5 73.1zM373.2 86.1zM380.7 69.6zM360.7 65.4zM379.3 58zM372.5 86.6zM374.1 78.4zM363.3 89.3zM386.9 54.9zM390.2 68.7zM391 71.9zM345.6 97zM371.9 81.2zM371.6 70.5zM360.4 94.5zM379.6 74zM376.7 80.1zM382.7 59zM373.6 70.4zM386.5 84.6zM382.9 67.8zM400.3 53.4zM384.2 77.3zM373.9 78.7zM377.5 85.2zM354.1 85.9zM357.8 94.8zM342.2 91zM383.8 60.6zM377.7 80.2zM354.4 84.6zM351.2 79.4zM353.2 78.9zM356.9 83.6zM374 68.2zM373.2 81.8zM381.5 59zM373.3 61.6zM388.2 65.7zM369.1 64.3zM366.9 72.1zM372.7 59.1zM385.6 96.5zM364.4 70zM354.2 98.8zM373.8 68.7zM367.8 76.5zM384.5 89.3zM364.2 63.6zM378 76.2zM370.6 76.1zM348.7 82.2zM360 84.2zM353.6 82.3zM367.2 70zM363.8 70.8zM350.1 89.7zM354.4 108.1zM371.4 81.3zM379 65.5zM374.6 72.4zM364.8 76.1zM368.3 71.2zM374.4 78.7zM400 63.5zM359.6 70.3zM364.5 86.1zM371.5 75.4zM363.8 88.8zM372.2 80.8zM370.6 81.7zM367.3 75.4zM382.4 74.9zM356.7 82.7zM357.9 92.5zM361.5 88zM399.8 63.5zM355.1 75.1zM365.3 77.6zM361.7 69.1zM376.4 86.4zM367.7 85.4zM381.3 69.8zM371.7 65.8zM387.6 69.9zM376.3 72.6zM372.4 74.1zM374.1 76.1zM335.7 82.5zM404.7 67.3zM362.1 90.6zM340.9 84zM378.2 78.1zM346.1 72.7zM363.4 95zM386.5 56.8zM374.1 68.2zM375.5 71.9zM378.5 72zM347.8 102zM364.6 67zM392.8 73.5zM385.4 68.7zM371.7 79zM372.2 64.3zM363 83.5zM369.2 73.6zM379.9 66.5zM363.8 76.6zM380.4 77.6zM378.8 87zM376.4 76.2zM394.8 57.3zM384.2 88.9zM371.9 72.6zM346 85.6zM368.6 87.4zM364.4 98.4zM359.3 82.8zM356.2 82.2zM350 84.2zM390.3 67zM340.6 71.7zM367 80.9zM341.8 96.6zM382.3 76zM365.4 52.1zM365.3 77zM375.8 81.6zM360.1 62.7zM382.9 62.8zM374 64.6zM365.4 88.3zM372.4 79.5zM356.1 77.3zM385.8 72.4zM387.8 72.8zM382.2 53zM368.2 94zM369.6 80.4zM358.3 78.2zM352.1 96zM349 88.6zM400.2 63.5zM336.7 100.4zM373 74.7zM352.4 91.5zM369.9 72.5zM376.4 79zM374.7 88zM372.7 86.9zM383.2 84.1zM355.7 79.5zM349.9 82zM393.8 54.1zM372.9 65.6zM358.6 75.1zM374.5 80.3zM357.7 70.2zM365.2 71.3zM388.1 75.9zM359.7 79.1zM370.9 65.6zM380.4 65.2zM391.8 48.7zM371 86.2zM373.6 83zM351.5 70zM375 66zM364.7 89.4zM368.6 79.6zM385.2 71zM375.8 76.6zM365.7 76.3zM367.5 86.1zM368.7 85.4zM354.4 94zM351.6 91.9zM360.1 88.1zM400.1 65.9zM392.8 65.4zM364.8 94.4zM370.8 64.6zM347.3 85.1zM367.8 80.9zM387.2 48.3zM389.7 64.7zM373.6 81.5zM366.8 84.9zM384.3 74.9zM353.3 98.4zM368.6 87zM362.1 72zM382 63.2zM378.4 64.7zM369.3 98zM342.4 96.6z"/><path d="M381.4 55.8zM357.1 75.7zM381.9 77.9zM397.8 74.7zM358.4 71zM367.6 73.7zM362.1 76.1zM372.2 74.1zM370 56.5zM389.3 90.8zM379.9 66.1zM378.6 88.7zM368.1 69.8zM383.6 69.8zM344.8 91.2zM366.4 57zM378.2 79.3zM371.9 59.2zM343.8 95.9zM391 67.9zM362.9 87.3zM380.4 65.8zM345.7 77.4zM382.8 80.4zM374.4 95.2zM381.3 73.1zM402.1 75zM350.5 90.3zM376 73.7zM377.4 82.8zM370 89.6zM377.9 73zM348.5 114.6zM359.5 65zM374.3 73.6zM371.8 86.3zM374 77.4zM387 67.9zM360.3 84.9zM359.2 72.8zM365.8 78.1zM359 70.3zM361.6 91.6zM370.1 80.8zM338.9 89.3zM367.9 82.5zM375.2 64.7zM371.1 91.8zM361.4 69.4zM375.1 63.4zM369.8 93.3zM358.1 69.5zM370.1 71.7zM376.5 74.2zM378.7 72.8zM377.7 82.8zM361.3 86.2zM384.6 52.1zM377 89.7zM364.8 71zM362.4 86.9zM384.1 65zM375.5 74.5zM357.4 94.6zM366.4 64.2zM359.4 88.7zM382.1 75.4zM350 89.4zM354.8 70.6zM377.6 82.7zM360.6 67.6zM364.9 79.3zM374.5 66.6zM372.6 86.2zM373 63.3zM380.2 77.4zM372.7 72.9zM389.8 61.8zM384.5 80.5zM379.2 88.5zM366.2 90.9zM380.7 72.1zM365.3 72.1zM376.7 72.5zM392.1 57.8zM353.7 82.5zM353.6 72.1zM382.6 80.9zM348.1 86.1zM362.9 72.7zM392.6 52.9zM364.6 84.7zM393 63.8zM374.3 93.6zM371.6 65zM343 85zM370.9 82.8zM387.6 78.7zM363.8 84.4zM347 94.2zM375.9 77zM358.8 80.7zM381.5 63.9zM366.6 75.9zM389.8 80.2zM378.2 57.7zM382.3 77zM375.6 62.4zM410.1 63.1zM375.6 65.7zM370.7 80.7zM354 71.8zM363.1 81.3zM379.4 83.1zM371.1 80.4zM377.9 90.2zM380.8 83.8zM384.4 79.7zM380.7 77.4zM354.4 78.1zM379.8 67.2zM367.9 72zM370.6 71.9zM365.5 64.4zM369.9 51.9zM380.9 65.1zM374 70.6zM361.1 84.8zM362 92.3zM373.4 85.2zM398.6 68.9zM376.9 66.1zM354.1 70.9zM362.3 69.8zM352.7 74zM359.1 61.2zM363.3 95zM378 81.8zM376.6 95.4zM355.5 78.6zM362 73.3zM381.2 68.3zM342.1 88.3zM370.9 55.9zM387.6 66.3zM381.9 88.6zM382.9 91.8zM360.2 77.6zM373.9 79.3zM385.2 81zM394 78.6zM353.1 67.3zM364 85zM367.6 67zM389.2 77zM378.3 72.5zM369.9 85.2zM382.6 75.2zM368.4 80.7zM354.1 61.7zM373.5 77.1zM383 73.9zM368.4 74.6zM371.8 64.6zM339.3 74.3zM361.2 78.4zM374.3 68zM366.5 92.2zM370 67.4zM376 52.4zM361.6 73.7zM385.5 64.2zM403.6 73.3zM373.3 67zM368.9 77.6zM362.4 82.5zM372 53.8zM372.5 77.3zM377.8 62.9zM368 87zM378.6 84.2zM386.4 83.8zM366.1 88.4zM367.6 62.9zM369.4 72zM377.5 77.2zM383.1 88.9zM378.9 72.7zM354.8 79.1zM383.3 87.8zM403.3 71.6zM367.1 70.4zM377.4 44.8zM374.4 89.2zM381.2 73.5zM373.1 90.6zM378.3 64.1zM380.1 66.4zM394.7 73.7zM357.6 77.8zM375.7 72.9zM355.6 95.8z"/><path d="M362.2 85zM363.5 79.2zM382.9 98.9zM373.4 69.5zM399.6 59.7zM372.9 65.4zM364.2 95.6zM379.1 54.6zM385.7 63.6zM375.4 87.5zM365.3 81.7zM383.8 63.2zM387.4 93.6zM363.6 81.9zM347 83.5zM359.9 55zM366.4 66.9zM362 70.5zM385.8 80.2zM344.9 81.4zM378.6 85.5zM365.9 80.7zM358 79.8zM372.8 80.8zM363.4 75.4zM345.7 103.4zM353.6 79.9zM388.7 67.8zM368.8 75.5zM373.5 80.6zM368.2 85.4zM385.9 78.8zM371.4 75.2zM367.2 104.8zM369.6 72.9zM363.5 92.9zM361.8 79.6zM377 81.7zM379 72.5zM352.1 89.8zM357.9 81.8zM376 60.5zM376.2 80.1zM362.9 61.6zM352.8 87.8zM370.2 88.4zM368.9 85.2zM378.8 77.4zM387.5 77.5zM362.1 85.3zM377.3 67.4zM409.1 84.1zM351.8 84.6zM360.8 84.2zM371 78.7zM375.3 71.7zM365.4 69.7zM384.6 92.6zM382.2 88.1zM339 80.9zM369.4 83.5zM385.3 86.7zM375.7 89.1zM384.7 74.1zM381.3 71.6zM387.9 70.1zM388.9 62zM365.6 80.4zM377.6 88.2zM369.1 77.9zM364.9 86.1zM376.5 60.5zM377.6 55zM338.5 98.7zM379.1 83.7zM359 74.4zM390.8 59.3zM372.6 78.6zM371 84.8zM375.8 68zM355.2 84.2zM384.2 76.8zM385.2 64.6zM371.9 79.8zM384.2 69.7zM384.1 75.4zM365.2 70.5zM358.4 78.3zM361.4 82.5zM372.6 69.9zM367.7 87.7zM375.9 66.1zM360.3 75.1zM368.7 76zM362.2 88.6zM376.7 87zM354.8 75.2zM356.6 72.7zM397.6 77zM364.8 84.5zM360.6 82.9zM359.5 88.2zM356.7 63.4zM393 53.9zM363.5 77.3zM395.9 62.4zM372.9 74.8zM368.6 88.5zM377.5 65.7zM377 79zM365.1 83.8zM352.1 78.6zM365.2 88.1zM367.2 73.9zM362.8 77.3zM365.7 84.1zM356 66.9zM368.5 77.1zM374.5 62.3zM366 68.1zM388.1 65.4zM385.3 65.2zM386.1 51zM366.7 75.3zM393.5 58.8zM402.8 63.6zM368.3 70.6zM363.3 46.1zM370.5 67.4zM372.8 87.4zM398.1 45.3zM370.1 82zM375 71.6zM383.6 64.4zM364.4 78.9zM359 97.5zM377.6 79.1zM374.3 69.5zM379.9 64.8zM356.4 71.4zM367 57.3zM381.8 82.4zM390.3 67.9zM390.8 95.9zM367.9 84zM371.8 66.9zM372.3 82.9zM364.8 86.8zM367.7 65.2zM367.8 80.7zM372.1 66.7zM351.2 90.9zM364 86.3zM347.1 92.7zM373.2 73.8zM365 78.1zM395.3 40.6zM370.1 91.6zM374.9 85.4zM368.3 77.3zM363.2 79.9zM364.8 57.3zM366.8 89.4zM384 77zM360.3 90.5zM386.7 87.9zM385.8 78zM374.9 81.4zM378.7 81.7zM374.3 73.4zM374.7 80.8zM361 65.1zM354.8 64zM372.1 60.5zM377.2 59.6zM388.7 87.6zM359.3 52.6zM371.3 58.9zM368.7 76zM404.8 66.3zM395.3 85.1zM383.3 74.7zM356.1 71zM379.9 76.3zM371.7 70.2zM381.7 75.1zM380.1 71.8zM383.8 82.2zM365.8 76.7zM394.5 60zM360.7 79.5zM396 77.8zM355.1 87.1zM362.9 76.3zM367.1 82.5zM380.5 74.5zM391.9 79.9zM382.4 79.6zM378.7 78.2zM357.4 80.5zM386.4 70.1zM362.3 72.9z"/></g>
<g><path d="M517.7 57zM516.1 88.2zM511.7 98zM479.2 75.3zM529.6 67.7zM497.9 64zM512.2 80zM518.7 76.8zM510.1 78.3zM513.9 73.2zM511 56zM521.7 86.7zM513.7 96.8zM517.1 73.6zM514.8 94.3zM520.5 78zM484.3 69.8zM521 88.8zM502.6 77.6zM515.8 77.1zM505 70.9zM518.9 72.7zM497.9 90zM507.8 84.7zM522.4 85zM518.8 93.2zM479.7 71.3zM517.1 69.6zM522.7 81.5zM513.6 85.5zM505.7 67zM516 64zM527.7 68.2zM523.9 78.1zM505.4 60zM507.5 69.9zM503.5 81.7zM520.9 78.6zM508.4 66.7zM521.2 79.4zM531.8 80.4zM529.9 94.6zM514 61.1zM539.2 68.2zM503.4 77.6zM521.4 55.1zM534.2 73.2zM526.6 77.7zM510.5 77zM524 76.4zM524 85.7zM513.9 72zM500.8 66.8zM531.8 53.7zM534.1 71.4zM529.1 66.6zM538.2 69.5zM523.1 86.8zM518.4 97.3zM520.4 79.7zM518.9 84.7zM500.7 76.6zM506 86.2zM518.5 67.9zM506.1 81.7zM533 73.7zM482.6 88.6zM509.9 57.8zM528 83.8zM502.8 78.3zM509.8 63.6zM523.2 72.9zM536.8 73zM515.7 65.8zM504.5 71.4zM517.3 66.5zM531.3 90.6zM531 88.1zM527.7 72.5zM507.1 94zM517.7 70.3zM504.7 60.8zM498.4 75zM507.1 63.7zM540.6 63.3zM546.1 85.9zM519.7 73.9zM499.1 93.9zM491.7 82.6zM521.3 95.5zM500.9 84.8zM524 75zM525.6 84.5zM514.3 75.9zM491.8 74.8zM509.9 77.4zM477.7 59.1zM519.2 77.6zM511.3 75.7zM516.8 75.9zM540.4 64zM484.3 84.9zM498.8 66zM509.4 83.8zM523.1 77.2zM504.4 74.6zM494 64.5zM501.4 62.9zM520.7 65.3zM507 87.1zM522.9 88.8zM525.7 92.7zM536.7 91.7zM521.8 83.2zM511.2 49.9zM496 82.7zM521.9 78zM513.3 71.3zM516.9 87.1zM502.5 73.4zM527.8 78.7zM518.9 70.3zM501.4 64.8zM498.2 87.6zM522.9 65.5zM532.3 81.8zM541.1 98.9zM503.7 99.1zM524.6 60.2zM505.6 80zM499.5 93.3zM532.1 92.8zM528.6 69.4zM524.9 82.6zM520 71.8zM518.8 92.2zM498 78.3zM504 69.2zM514.9 73.1zM506.5 77.3zM488.7 94.2zM521.4 73.4zM519.1 79.3zM491.8 87.7zM510.6 82.1zM507.5 68.2zM496.3 61.9zM532 68.2zM513 78.8zM531.3 92.6zM534.6 80zM518.2 67.2zM518.1 73.4zM514.4 69.5zM497.9 82.7zM519.6 79zM503.5 91.9zM505.6 68.4zM530.9 88.9zM502 83.5zM526.3 85.7zM500.3 72.4zM511.6 71.1zM521 72.4zM512.7 77.1zM508.8 80.1zM511.6 80.8zM510.1 75.1zM495.7 77.6zM501.9 80.5zM525.6 75zM496.5 75.3zM531 91.9zM515.5 62.4zM526.8 78.9zM510.8 75.6zM523.2 79.8zM520.4 97.1zM521 84.8zM515.9 50.1zM510.6 95.8zM486.8 77.4zM542.3 89.4zM530 78.8zM511.5 81.7zM521.9 63.2zM475.3 48.7zM502.6 68.3zM519.1 81.9zM529.3 89.4zM544.9 72.2zM509.1 65.1zM518.8 80.1zM516.5 81.8zM499.7 77.8zM526.2 81.1zM527.1 83zM529.7 69.1zM531.7 76.9zM507.5 70.5zM520 80.9z"/><path d="M509.2 76.5zM516.6 73.2zM527.8 67.3zM507.6 97.5zM527.2 70.6zM524.4 77.9zM512.2 77.1zM532.8 68.7zM526.7 79.3zM486.8 83.7zM535 85.5zM526.9 92.8zM528.2 86.9zM513.8 68.3zM534.9 53.2zM527.3 77.2zM509.5 78.4zM493.8 43.2zM504.7 81.2zM524 74.3zM495.3 67.9zM521 70.8zM503.1 61.3zM512.7 68.3zM520.2 81.8zM510.3 54.7zM513.4 54.2zM510.1 87.3zM535.8 73.6zM504.3 80.4zM510.8 96.8zM511.2 70.3zM535.8 99.9zM525.9 65.9zM525.5 75.2zM519.7 91.8zM526.2 83.2zM518.3 64.4zM516.6 60.2zM527.8 72.9zM514.2 73.6zM497.2 74.4zM504.2 91.1zM507 80.2zM533.8 90.4zM498.1 102.7zM505.4 73.3zM498.8 82.1zM507.7 81zM520.5 65.6zM522.5 73.3zM535.1 71.7zM482.3 76.6zM523.7 87.7zM524.9 108.7zM512.4 79.2zM528.9 92.5zM509.8 102zM519 63.9zM532 76.7zM513 87.1zM520.3 74.4zM504.9 84zM512.1 92.3zM532.2 81.3zM493.8 81.1zM475.3 79.2zM508.3 74.9zM503.3 89.3zM509.9 75zM498.8 76.4zM499.7 75.2zM509.7 73.2zM502 88.6zM533.8 74.1zM506.4 65.5zM532.1 78.9zM531.7 59.2zM507.8 81.3zM512.1 67.6zM513.5 76.1zM543.4 73.5zM534.6 83.2zM514.5 80.4zM510.7 81.8zM507.5 73.6zM514 86.4zM511.5 71.4zM517.2 100.8zM500.1 62.9zM554.5 71.3zM513.8 80.6zM500.8 71.9zM515.3 72.8zM492.1 72.9zM513.9 86.5zM516.7 81.2zM510.8 71zM516.4 75.4zM520.9 70.4zM547.9 74.9zM514.5 84.8zM516.4 75.8zM495.5 82.6zM503.7 63.5zM519.8 85.1zM553.1 88.1zM508.4 86.2zM540.3 95.8zM498.8 72.3zM537.3 71.6zM515.9 67.6zM509.2 82.5zM518.1 75.6zM525.8 70.5zM526.3 62.7zM533.4 84.9zM514.2 69.8zM524.2 85.3zM515.1 89.7zM496.7 80.9zM525.3 73.4zM523.4 88.6zM533.3 78.5zM512.7 71.9zM509 83zM507.2 74.2zM510.3 81.4zM508.8 90.9zM507.9 59.4zM512.4 83.7zM510.8 76.6zM504.9 78.6zM491.7 71.9zM518.9 76zM489 75.9zM489.7 71.4zM510.2 86.4zM516.2 79.3zM479 68.5zM523.6 75.4zM526.2 82.3zM522.4 71.6zM507.3 80.5zM526.2 69.8zM519.1 65.7zM509.2 88.2zM521.9 59.2zM490.2 68.2zM511.7 73.3zM542.6 73.5zM510.3 71.5zM522.4 85.3zM500.1 95.3zM521.4 86.4zM509.5 49.9zM501.7 77.8zM530.8 88.1zM527.6 93.2zM532.3 77.5zM516.3 67.9zM511.6 83.5zM521.5 82.3zM493.1 78.3zM515.5 88.6zM524.9 97.1zM539 70.7zM512.9 78.3zM519.2 68.8zM515.6 105.2zM534.5 67.2zM511.4 77.3zM504.6 89.8zM492.7 88.3zM522.9 72.1zM516.8 58.4zM520 68.3zM496 77.4zM534.7 98.8zM502.5 77.4zM511.2 72.3zM500.4 82.8zM525.7 62.1zM516.7 85.6zM528.6 82.5zM531.5 96.4zM518.8 91.3zM505 79.7zM519.9 65.8zM519 85.8zM516.8 85.1zM510.3 46.8zM502.3 82.3zM507.9 70.6zM506.2 75.6zM522.5 72.6zM536.4 77zM512.8 61.9zM495.5 85.4zM505.5 81.6zM528.5 59.7z"/><path d="M526.1 73.1zM520.2 95.1zM494.7 76.6zM501.9 90.4zM519.3 75.6zM520.5 79.2zM511.3 81.1zM527.8 80.9zM528.8 87.3zM520.7 67.9zM523.4 74.9zM504.4 73.2zM521.1 88.7zM494.3 81.4zM505.7 75.8zM510.7 76.9zM533.7 71.5zM509 70.7zM512.3 88zM497.8 80.5zM525.9 104.2zM516.4 60.4zM532.4 78zM518.6 66.4zM507.3 60.9zM503.6 62.4zM526.2 61.3zM511 68.7zM489.1 59.7zM500.1 80.2zM514.5 71.7zM504.9 59.2zM515.6 86.1zM529.3 78.7zM517.9 95.7zM521.2 95.9zM519.2 75.2zM494.1 93.7zM522.5 77.3zM535.9 66zM528.9 78.9zM509.1 75zM511.3 76.9zM523.6 73.1zM529.8 80zM525.7 84.4zM537.2 75.7zM513.4 55zM481 74zM505.6 63zM497.2 85.5zM503.4 71.1zM517.6 65.3zM509.3 65.1zM497.5 66.4zM522.5 91zM514.1 84zM509.8 71.5zM510 66.8zM514.7 69zM507.3 65.2zM482.2 50.9zM497.2 83.9zM530.2 56.6zM543 65.1zM533 74.2zM526.1 80.3zM497.4 67.7zM524.3 81.3zM485.5 76.3zM529.8 52.2zM503.2 97.7zM527.2 68.8zM517.8 82.1zM503.8 68.8zM489.8 85.2zM510.5 77.4zM523.9 73.5zM497.9 78.6zM508.3 76zM531.8 48.7zM516.6 69.4zM525.8 85.1zM504.3 75.7zM503.6 73.3zM502.9 79.1zM505.7 89.7zM524.8 75.8zM500.9 83.5zM520.8 64.3zM529.2 74.1zM527 98.2zM509.2 89.3zM498.6 73.8zM528.4 71.7zM511.5 80.3zM474.8 60.9zM523.7 71.1zM509.1 79.7zM499.2 62zM500.3 85zM504.8 74.1zM524 77.1zM511 79.9zM525.4 74.8zM511.1 84.8zM525.1 92.4zM517 92.8zM509.2 57.6zM512 79.9zM497.6 67.6zM505.3 90.4zM497.5 65.4zM513.9 89.7zM501.4 74.3zM539.4 57.2zM521 82.1zM511.8 71.2zM513.4 68.6zM500.8 65.5zM489.9 81.9zM526.1 87.7zM535.3 87.4zM511.8 80.3zM524.6 53.1zM522.2 76.1zM530.5 81.7zM512.2 88.1zM500.4 78.5zM511.3 59.5zM534.7 83zM496.6 75.7zM516.5 96.6zM503.6 84.2zM483.4 75.7zM488.1 72.1zM516 87.8zM512.8 68.1zM480.4 71zM496.2 65.9zM510.5 76.6zM521.9 67.5zM515.9 86.1zM517.7 72.9zM523.8 72.4zM524.6 64.2zM524.5 94.1zM513.6 62.1zM514.7 78.7zM483.2 92zM510.2 105.4zM509.5 71.2zM509 65.7zM502.7 80.7zM519.2 100.9zM502.7 87.5zM502.4 74zM509 79.7zM516.9 75.3zM520.1 60.8zM511.1 81zM481.5 83.4zM519.9 75.2zM515.4 88.2zM517.1 59.6zM516.4 73.3zM502.1 73.1zM534.3 82.4zM507.3 76.5zM520.5 72zM488.6 72.9zM518.7 76.7zM513.6 81.2zM541.9 75.8zM532.9 64.6zM528.8 91zM523.6 72.2zM510.4 78.7zM527.1 81.6zM499.5 69.3zM506.7 74.5zM504.4 88.4zM538.9 72.1zM512.3 74.2zM501.5 72.3zM503.9 74.7zM530.3 76.8zM501.4 78.6zM489.4 96.4zM508.3 83.5zM513.5 43.2zM524.5 74.2zM507.9 61zM540.1 80.3zM483.7 75.7zM506.3 93.8zM508.9 88.3zM515.6 63.9zM515.5 54.9zM507.8 76.5zM519.9 82.4z"/><path d="M524.5 67.1zM501.4 56.4zM507 89.5zM529.4 68.9zM512.2 70.6zM525.7 84.5zM509.4 88.8zM519.2 64.8zM504.8 63.7zM520.2 78.8zM496.4 73.6zM524.2 75.1zM521.7 68.8zM509 62zM519.6 79.5zM510.9 79.3zM512.1 62.3zM526.3 71.3zM511 70.4zM517.8 78.9zM524.7 75.1zM504.1 66.8zM515.6 72.9zM505.2 83.4zM512.4 83.8zM508.9 90.7zM514.8 77.9zM524.8 72.8zM532.9 80.1zM518.5 64.8zM521 84.7zM520 68.1zM506.4 80.6zM528.9 65.5zM527.7 92.3zM505.6 79.3zM509 74zM491.4 64.6zM516.8 77.7zM524.1 101.2zM516.8 78zM512.6 92.4zM522.8 86.2zM509.7 71.3zM500.1 85.9zM504.4 73.2zM528.3 97.2zM525.1 82.8zM518.1 76.8zM499.2 56.8zM503.1 72.6zM525.2 61.5zM513.8 83.9zM516.8 93.5zM525.6 89.1zM528.2 82.3zM486.1 70.7zM517 60.5zM521.6 45.7zM531.2 81zM520 76.8zM544.9 85.7zM523.9 82.8zM490.9 84.3zM493.9 92.2zM521.3 80.5zM516.8 100.5zM511.9 76.3zM508.4 77.9zM516.2 83zM528.2 67.4zM531.5 79.3zM506.6 69.2zM511.1 81.6zM491.7 83zM512 64.7zM519.8 72.3zM517.7 80zM494.3 74.5zM519.5 65.9zM519.7 66.2zM535.7 57zM527.3 67.6zM517.4 69.7zM517.4 68.5zM536.6 76.5zM512.3 76.8zM519.4 64zM512.2 63zM497.1 72.9zM513.8 86.4zM514 96.8zM525.9 59.3zM508.4 57.2zM521.9 85.7zM521.4 64.7zM513.9 94.4zM492.6 72.4zM519.8 68.2zM510.7 77.5zM510.9 69zM498.6 70.5zM537.1 68.4zM516.5 102.3zM522.1 75.2zM511.2 69.2zM513.8 76zM514.2 70.9zM520.5 78.4zM493.3 78.1zM509.9 91.4zM538.6 78zM512 68.7zM532.9 56zM534.9 75zM508.3 61.3zM508.5 66.8zM526.4 91.7zM530.5 69.1zM538.4 78.3zM516.7 48.7zM493.4 74.8zM511.9 91.6zM517.8 58.7zM491 93zM523.6 78.6zM517.3 63.4zM521.3 86.9zM500.1 64zM521.3 70.6zM528.1 80.8zM528.5 75.1zM502.5 90.2zM526.5 78.5zM521.8 78.8zM494.5 93.6zM524 89.5zM520.1 66.5zM532.4 63.4zM537.7 48.7zM485.4 80.7zM515.2 77.5zM522.8 73zM503.3 85.4zM506.6 82.7zM497.1 77.2zM490.5 53.6zM496.8 70.6zM518.4 78.3zM516.8 67.4zM518 63.1zM532.4 80.3zM500.4 69.9zM514 76.4zM501.6 70.8zM501.4 71zM547.6 61.5zM513.1 74.4zM509.3 80.9zM543.4 87.7zM528.7 59.3zM516.4 56.4zM511.8 84.3zM519.7 80.7zM527 84.9zM518.2 94.8zM518.4 63.3zM512.8 77.3zM518.5 66.1zM540.7 55.6zM506.8 79.6zM499.8 78.5zM493.6 59.4zM520.2 77.8zM503.3 89.3zM505.2 74.7zM523.1 99.2zM506.3 71.7zM500.2 82.8zM515.5 81.7zM509.8 113zM512.6 86.6zM516.7 85zM499.7 87.4zM508.7 68.4zM509.2 85.3zM509.4 66.3zM558 59.9zM506.2 82.5zM488.1 78.3zM509.9 54.5zM506.2 68.7zM528.9 57.9zM515.5 77.1zM508.1 70.3zM498.1 88.1zM495.5 80.6zM503.1 75.3zM508.6 66.8zM502.2 60.8zM511.6 75.8z"/></g>
<g><path d="M668.7 65.8zM674.9 80.6zM674.7 78.6zM645.9 56.6zM643.1 57.7zM659.1 86.7zM652.7 80.7zM664.3 80.2zM656.6 83.8zM652.7 73.6zM667.2 65.6zM641.3 50.6zM666.9 66.6zM653.8 82zM641.4 60.4zM655.1 92.3zM649.5 71.8zM642.2 83.2zM677.6 67.2zM659.3 92zM652.3 59.5zM660.3 80.8zM641.5 58.9zM628 64.7zM663 78.6zM665.9 65.2zM650.2 76.3zM675.9 77.7zM648 67.5zM648.8 68.5zM649.3 64.3zM653.8 69.1zM645.3 96.9zM663 75.9zM687.6 104.8zM646.8 94zM657.1 62.6zM684 92.3zM676.6 72.7zM658.2 71.4zM662.1 85.4zM660.2 76zM695.5 108.7zM633.7 66.2zM657.2 67.9zM644.3 72zM650.1 79.6zM660 81.2zM664.7 70.7zM641.4 61.6zM658.1 76zM658.4 89.6zM666.8 56.9zM674.4 77.6zM663 94.3zM660.6 103.4zM657.7 67.7zM644.5 62.7zM626.3 65.6zM680.2 83.1zM653.2 89.1zM643.4 74.9zM655.7 92.6zM638.6 64.8zM652.2 70.6zM655.6 73.3zM657 81.9zM659.1 94.4zM649.1 64.8zM681.8 76.4zM669.9 88.8zM653.9 84.1zM677.2 97.6zM625.1 72.6zM649.7 71.1zM651.8 104.8zM632.5 72.3zM666.4 89.5zM665 88zM663.8 82.2zM627.9 60.4zM646.1 72.6zM650 72.8zM684.6 88.8zM655.4 74.3zM674.4 71.6zM663.6 69.6zM640.7 89.2zM649.1 96.5zM655.1 66.7zM655.5 79.8zM639 82.3zM663.2 71zM668.9 66.9zM644.7 75.6zM639.8 82.6zM675.3 88.4zM650.7 75zM668.4 80.8zM663.4 82.3zM656 81.6zM630.5 84.9zM648.5 93.4zM664.3 89zM662.5 74.1zM647.2 78.9zM644.9 60.7zM651.9 69.4zM633.2 65.3zM641 55.3zM664.8 87.4zM651.2 75.4zM664.1 96.3zM647.1 58.2zM664.9 82.1zM657.5 81.1zM642.1 71.8zM677.3 79.1zM637.1 63.9zM678.7 80.1zM669 92zM671.9 80.1zM656.9 71.8zM661.8 76.8zM651.4 65.6zM664.5 87.6zM661.7 70.6zM680.5 77.7zM643.7 61zM641.3 69.3zM656.9 65.8zM667.3 82.3zM666 70.4zM687.3 80.9zM652.9 70.1zM663.1 64.7zM653.8 83.5zM647.7 73.2zM662.5 97.5zM675.4 82.8zM642.7 72.1zM653.6 75.5zM659.4 70.5zM669.9 67zM671.4 61.4zM643.3 81.8zM643.3 68.3zM651.9 65.5zM666.3 76.1zM665.3 72.9zM674.8 79.6zM639.7 83.6zM663.1 73.6zM649.6 72.7zM654.3 58.8zM651.8 71.4zM653.3 77.8zM673.3 76.4zM661.6 75.8zM658.4 89.2zM655.8 80.9zM653.5 81.3zM658.4 85.1zM657.8 70.1zM647.7 69.9zM664.6 86.9zM671.8 79zM652.9 58.6zM647.9 63.9zM653.6 92.9zM634.3 65.9zM643.9 48.5zM668.5 77.8zM660.9 89.3zM659.5 77.6zM671.9 92.8zM632.6 76.7zM630.6 54.1zM664.2 78.2zM638.4 48.7zM662.5 80.6zM655.3 81.5zM660.4 75.4zM662.1 87.1zM658.9 95.9zM649.7 68.4zM657.2 87.6zM658.1 68.7zM679.7 104.8zM649.9 82zM677.9 66.7zM646 62.8zM654.3 74.2zM664.1 79.8zM656.9 66.1zM655.5 66.5zM644.4 81.8zM634.5 49.7zM675.2 61.4zM644.1 78.9zM641.7 66.1z"/><path d="M657.3 63.2zM671.3 78zM662.6 72.5zM643.2 77.2zM686.9 78.8zM639.3 58.5zM677.9 78.8zM649.5 67.8zM640.1 68.2zM665.7 75.2zM640 69.1zM638.9 71.5zM672.9 98.4zM680.9 87.8zM675.3 83.4zM660.2 59.5zM647.3 71.3zM658.7 61.4zM631.5 59zM682.9 82.8zM663.3 94.4zM658.1 93.2zM665.2 84.1zM658.4 75.1zM645.6 70.4zM654.5 64.5zM642.8 71zM663.6 67zM640.7 73.7zM647.3 61.8zM650.5 75zM652.3 74.5zM661.8 80.4zM644.9 65.9zM637.9 57.1zM663.9 74.8zM666.4 90.8zM686.4 71.8zM663.5 78.9zM632.7 83.2zM659.6 71.3zM652.6 77.5zM651.9 67zM657.6 80.9zM656.6 71.2zM663.9 75.9zM631.1 72.7zM641.4 47.3zM651.8 73.7zM684.9 95.1zM676.7 83.1zM643 67.5zM661.8 81.2zM678.4 81.7zM661.4 80.1zM668.5 75.1zM658.2 80.7zM674.3 80.8zM657.5 82zM638.9 66.6zM673.1 92.3zM649 72.5zM645.6 84.9zM660.9 88zM653.2 61.8zM647.8 72.7zM662.1 75.2zM672.2 90.4zM645.6 75.4zM657 78.8zM646.9 88.7zM654.3 77.2zM648.9 75.5zM672.1 75.2zM679.3 103.7zM660.7 63.1zM665.2 93zM647.2 74zM651.2 76.4zM668.4 68.4zM640.1 60.5zM656.3 74zM661.8 88.2zM666 57.9zM655.8 67.9zM685.8 93.9zM650.3 87.4zM661.4 90.7zM641.4 60.4zM651.1 96.3zM649 75.5zM653.7 76.6zM670.7 78zM668.5 78.9zM678.3 76.9zM675 68.3zM653.4 71.5zM655.2 63.1zM672.6 77.9zM639 66.5zM664.6 81.6zM644.7 64.7zM638.8 73.4zM658.7 78.8zM671.1 77.2zM658.1 66.6zM641.7 52.5zM674 69.5zM661.4 72.2zM649.5 58.9zM651 61.4zM650.7 61.3zM662.4 76.2zM648.4 83.4zM644.8 78zM652.3 79.6zM649 74.5zM637.2 62zM659.7 63.9zM657.1 68.6zM666.4 90zM647.6 73.2zM654.6 82.3zM652.8 74.7zM643.2 67.6zM638.1 76.5zM665.5 99.8zM655.6 64.8zM636.7 69.2zM652.1 65.8zM656.7 71.6zM667.4 85.2zM668 77.6zM668.8 76.5zM635.9 70.3zM663.6 76.8zM646.9 69.3zM649.2 74zM656.3 71.1zM651.2 81.6zM654.1 76zM638.7 80.2zM669.8 74.5zM652.8 77.7zM656 57.1zM652.4 80.6zM653.6 93.3zM656.2 78.5zM648.9 78.6zM635.4 62.7zM662.1 87.1zM651.1 88.4zM649.6 74.1zM653.6 77.4zM653.7 77.8zM663.1 97.5zM676.5 89.7zM640.3 77.7zM664.3 95.9zM640.9 75.9zM660.9 71.7zM691.6 89.5zM644.3 63.9zM657.8 87.7zM658 67.3zM618.3 57zM659.2 69.8zM653.8 68.3zM669.4 87.2zM641.2 71.2zM644.9 59.5zM621.3 62.5zM643.9 65.3zM643.3 76.7zM629.7 58.7zM622.1 76.6zM651.5 84.4zM655.7 83.6zM663.2 83.2zM658.2 98.2zM670.1 88.5zM660.3 83.4zM666.1 75.2zM659.4 74.9zM651.9 65.2zM653.8 69.1zM671.1 73.2zM674.1 72.4zM668.1 83.7zM680.9 87.1zM679.7 94.3zM649.6 66.6zM661.4 84.2zM682.8 90.8zM662.3 75.6zM666.5 82.5zM655.1 95.3zM638.7 75.9zM663.4 79.3zM653.1 87.5zM658.3 68.9z"/><path d="M671.3 82.5zM648.7 75.9zM637.7 58.8zM655.6 66.1zM652.4 53.7zM655.6 83.9zM662.5 91.7zM655.8 64.2zM655.7 74.4zM643.5 70.8zM645.2 89.6zM677.8 52zM653.4 90zM650.2 72.4zM664.2 68.2zM674.7 64zM654.9 74.1zM687.2 82zM653.3 83.7zM654.9 61.2zM657.2 78.7zM657.5 96zM647.1 79.2zM680.5 85.9zM662.9 86.4zM661.4 104.1zM649.9 90.3zM656.9 89.8zM651.3 85.1zM661.2 80.6zM649.5 60.9zM673.8 87.4zM657.8 93.7zM660.8 62.9zM658.7 92.5zM674.4 78.2zM671.6 72.2zM655 74.7zM660 67.1zM654.3 70.4zM671.7 90.1zM676 91.3zM649.6 85.2zM658.4 85.7zM667.6 102.1zM666.2 81.9zM667.3 80.6zM658.2 72zM647.5 72.8zM659 68.2zM659.5 72.7zM678.1 92.7zM661.7 90.5zM639.4 62.2zM665.1 87.1zM659.1 68.1zM662 84.3zM655.7 68.7zM665.3 82.1zM660.4 81.9zM663 79zM651.8 63.4zM657.9 79.6zM673.7 95zM636.1 63.9zM650.5 76.6zM675.2 81.4zM692.5 65.8zM643.7 72.7zM657.2 77.1zM677.2 69.1zM664.3 84.8zM687.5 84.8zM658.7 73.9zM636.8 72.1zM634.9 74.1zM658 72.8zM649.2 62zM647 80.4zM666.8 90.8zM675 69.1zM673.8 90.8zM641.6 61.6zM666.9 71.3zM640.6 74.7zM629.6 54.1zM647.6 83.9zM649.7 90zM634.6 89.4zM653.9 72.7zM647.6 77.2zM671.7 77.1zM641.6 61.6zM652.9 65.2zM689.2 108.7zM639.5 68.9zM643 56.7zM657.4 68.8zM641.2 74.9zM652.9 51.1zM645.2 84zM667.8 79.2zM650.6 73.3zM652.2 64.8zM651 89.4zM651.7 71.2zM662.4 76zM650.1 66.3zM663.7 72.1zM665.1 79.9zM640.4 74.1zM658.5 81zM636.6 77.7zM658.8 80.7zM660.1 71.7zM654 78.9zM636.4 81.4zM677.8 92zM666.9 80.9zM628 85.7zM648.3 76.5zM651.9 81.4zM660 71.3zM662.1 86.1zM647.9 71.2zM648.7 60zM674 100.3zM666.3 71.9zM641.6 69.7zM664.9 59.8zM663.8 62zM656.2 79.6zM662.8 74zM645.3 71zM638.1 62.7zM649.2 81.8zM646 69.6zM669 82.1zM677.8 80.9zM669.7 77.8zM658.6 81zM662.7 78.7zM667.6 88.6zM671.9 84.4zM648.4 60.5zM660.7 59.3zM648.1 75.3zM667.8 82.1zM661.5 53.8zM657.2 73zM658 82.3zM653.5 71.7zM664.2 89.3zM639.9 71.3zM667.2 77.7zM657.1 78.7zM679.7 80.4zM678.3 79.1zM669.7 83.2zM669.3 77.1zM648.7 64.9zM628.5 81.8zM666.4 91.1zM670.4 77zM659.3 79.7zM648.5 84.4zM649.3 79.5zM659.4 83.7zM653.2 72.5zM650.9 77.1zM663.8 83zM660.1 79.1zM630.3 60.9zM670.5 85.4zM649.8 68.5zM659 80.6zM649.7 74.4zM653.6 90.3zM649.8 80.1zM681.6 79zM658.1 58.8zM664.2 60.5zM653.4 62.3zM687.6 90.4zM657.6 73zM624.4 72.2zM656.7 79.6zM658.3 69.4zM654.5 55.6zM666 75.9zM671.7 104.4zM655.5 62.3zM658.9 89zM633.3 63.2zM649.3 77.3zM663.4 80.8zM660.7 82.9zM668.6 80.5zM664.6 69.9zM655.3 72zM651 80.5z"/><path d="M656 67.2zM636.9 67.8zM658.8 78.3zM662.2 94.1zM678 92.7zM663.7 93.1zM648.6 89.8zM650.5 82.6zM664.8 61.6zM685.8 79.6zM646.4 81.3zM672.6 85zM664.9 80.9zM626.6 52zM665.1 87.2zM675.1 84.7zM650.1 66.8zM653.1 65.5zM656.1 85zM659.6 59.9zM641.3 59zM655.3 92.5zM653.4 82.8zM649.4 69.8zM651.5 68.2zM654.3 65.2zM651 61.4zM664.4 74.4zM660.9 78.7zM664.7 56.8zM675.6 71.4zM638.1 75.1zM676.5 84.3zM683 69.4zM642 72.7zM670.1 85.8zM648.8 82.5zM658.5 76.1zM635.7 66.2zM654.2 71zM670.9 54.6zM645.6 74.7zM673 93.1zM645.8 67zM633.4 73zM658.8 95.8zM647.4 69.5zM648.8 83.7zM656.6 71.3zM659.6 79.1zM648 62.9zM658.6 56.5zM658.5 80.2zM658.7 74.4zM660.5 75zM658.9 78.2zM662.9 74.2zM654.6 79.2zM648.8 82.2zM660.1 83.1zM648.6 66.6zM656.8 88.7zM638.7 58.1zM659.5 48.7zM662.4 87zM646.5 80.5zM664.3 62zM648.3 74.9zM668.3 87.9zM655.5 63zM672.9 89.9zM658.3 61.9zM656.9 75.3zM670.3 72zM665.6 102zM680.2 80zM654.6 73zM638.1 79.3zM653 82.3zM632.5 69.5zM669.8 79.1zM677.1 69.1zM644.2 61.5zM650 79.1zM660.8 87zM655.7 86.7zM660.3 75.4zM659.6 77.2zM655.7 76.7zM655.1 90.3zM644.5 64zM650.2 43.2zM642.7 78.4zM640.7 72zM648.4 74zM647.3 61.4zM630.9 81.2zM654.6 68.3zM645.1 81.5zM641.3 64.6zM650.8 83.6zM639.4 56zM647.2 75.9zM661.1 89.8zM649.5 72.4zM637.6 75.8zM671.6 68.3zM658.6 77.7zM665.4 83.8zM648.8 83zM657.1 68.8zM682.6 88.2zM645.6 72.4zM632 67.6zM636.7 53.7zM665.4 68.3zM649.3 90.6zM640.2 78.6zM651.8 73.2zM661.4 57.6zM651.7 75.4zM640.1 55.8zM667.8 79zM666.5 89.1zM668.3 76.5zM674.7 100.5zM661.2 86.4zM643.2 89.4zM677.7 77.7zM668.9 54.3zM642.5 74.4zM668.3 81.7zM670.5 83.3zM651.7 82.3zM660.9 93.4zM654.5 63.7zM651.7 60.1zM656.4 79.3zM668.2 79.6zM669.2 78zM651 78.3zM654.7 68.3zM666 105.8zM662.1 97.3zM656.6 66.7zM648.4 93.7zM648.2 80.5zM677 83.8zM635.6 60.8zM623.3 59.1zM639.9 70.6zM650.6 79.6zM652.3 68.9zM666.6 72.7zM681.2 69.8zM670 71.8zM650.7 70.5zM660.6 88.9zM653.5 80.2zM651.2 72zM653.8 86.1zM649.7 89.4zM646.4 69.4zM671.1 87.5zM662.9 73.9zM661.4 83.3zM662.9 81.2zM679.5 90.2zM643.2 68zM641.5 89.2zM677 62.7zM642.5 71.7zM663.8 66.9zM658.5 111.3zM650.5 69.9zM641.4 60.5zM668 54.1zM644.7 64.1zM673.7 67.3zM670.7 79.1zM656.6 70.7zM653.2 68.3zM650.2 86.2zM650.3 67.5zM668 69.4zM645.4 84.9zM622.7 70.9zM634.5 70zM643.1 64.2zM681.9 90zM657.7 80.3zM632.2 70.5zM673.9 82.6zM657.8 82.5zM651.3 84.1zM678.8 77.2zM659.5 75.2zM673.8 71.3zM672.7 88zM651.1 79.6zM680.2 74.7z"/></g>
<g><path d="M803.5 86.4zM806.3 77.9zM816.2 89.5zM791.9 76.5zM800.1 77.5zM811.7 93.2zM809.4 78.4zM794 81.6zM821.2 102.1zM806.9 79.9zM799.5 80.9zM801.3 77.9zM804.5 77.2zM782.3 65.2zM825.9 90.8zM803.5 79.9zM837.3 94.9zM786 74.5zM805.2 94.3zM811.7 86.5zM798.3 69zM779.3 69.6zM810.6 82.4zM829.3 104.3zM819.2 80.3zM800.7 68.4zM791.9 59.8zM781.7 65.5zM792.7 71zM814.7 86.6zM799 65.4zM814.2 99.9zM795.9 76.9zM807.8 68.2zM799 58.2zM795.7 67.2zM788.2 80.2zM801.5 68.1zM792.4 60.2zM804.7 77.3zM806.1 78.9zM797.6 73.9zM776.7 69zM785.8 54.9zM783.4 75.3zM810.2 82.3zM788.9 68zM808.4 68.7zM820.8 78.4zM784.3 66.8zM795.2 91zM785.6 65.8zM803.2 78.4zM802.9 81.1zM795.8 68.7zM804.9 83zM794.3 84zM803.9 100.4zM803 80.4zM770.6 57.9zM790.7 48.7zM778.1 62.6zM789.3 73.7zM794.9 76.1zM796.7 75.3zM791.4 72.6zM794.5 64.1zM751.5 39.2zM782.3 58.9zM788.1 59.3zM821.6 72.3zM798.3 90.8zM804.9 84zM800.6 75.5zM772.9 54.4zM811.9 82.6zM762.5 49.1zM786.5 82.1zM829.5 92.7zM796.7 71.9zM782.9 65.3zM789.1 78.5zM815.7 82.1zM798.4 73.8zM768.7 45.4zM768.8 45.3zM787.7 72.7zM788.3 61.4zM813.6 85.7zM804.6 80.2zM794.4 72.8zM805.4 89zM805.1 72.5zM829.5 83.1zM801.9 77.4zM768.5 57.2zM782.6 63.7zM799.8 85.8zM794.2 58.8zM805.7 92.8zM789.6 64.3zM785.8 56.6zM808.2 79.1zM808.4 89.8zM812.4 93zM787.3 70.9zM799 71.6zM792.4 66.6zM806.6 69.5zM823.8 91.7zM797.2 73.8zM802.6 81.9zM780.4 62.6zM806.4 84.4zM796.7 59.1zM799.7 67.4zM835.2 101.7zM804.5 83.7zM815.6 87.8zM805.7 78.8zM803.2 81.8zM806.8 76.5zM788.8 68.8zM799.3 73.1zM811.4 77zM790 74.7zM791.9 77.2zM813.1 78.1zM789.5 60.9zM812.2 78.8zM802.6 75.7zM777.8 66zM784.9 64.4zM801.7 82.5zM787.2 71.3zM785.6 63zM811.5 82zM801.2 80.9zM798.8 76zM809.9 74.1zM811.5 78.1zM790.8 75.7zM793.7 81.8zM804.1 94.4zM811.9 81.3zM803.5 81.6zM838.9 114.6zM803 79.2zM807.1 74.5zM801.1 72.2zM791.1 77.5zM786.5 62zM819.3 90.6zM813.6 86zM821.2 89.7zM775.6 65.7zM784 55.3zM800.9 78.1zM792 76.1zM797.8 83.7zM788.2 70.7zM803.9 60.5zM785.2 71.6zM809.1 82.1zM793.4 64zM805.9 76.3zM802.3 77.1zM790.9 76.1zM816.5 77zM811.2 72.7zM786.8 60.5zM814.2 91.3zM818.1 79.1zM790.8 64.8zM793.4 61.9zM793.7 74.5zM801.5 77.3zM820.7 83zM799.3 78.6zM800.7 78.2zM798.1 77.3zM809.3 96.5zM785.5 81.1zM824.1 105.9zM795.1 79.2zM802.3 80.6zM795 76.5zM804 71.2zM804.1 76.9zM772.5 67.6zM825.7 94.9zM782.6 74.3zM803.3 83.5zM796.5 78.7zM814.4 90.1zM788.9 65.9zM791.4 61.8zM801.9 74.4zM788.4 69.8zM806.3 83.1zM767.5 67zM784.9 50.9zM795.8 69.2z"/><path d="M834.8 95.9zM836.7 97zM838.9 108.1zM812.8 75.4zM776.1 55.6zM798.2 70.2zM779.8 53.8zM807.3 84.3zM801.7 83zM817.4 91.4zM803.4 88.1zM800.6 81.1zM815.8 89.7zM782.4 55.4zM797.6 67.4zM803.9 76.2zM797.1 74.1zM785.9 54zM801.6 82.8zM791.7 68.3zM780.1 67.8zM816.9 92.4zM811.3 84.8zM818.2 81.1zM777.2 64.4zM804 84.3zM791.2 59zM823.8 102.1zM800.8 64.5zM817 81.7zM789.8 79zM808.4 74.2zM800.7 69zM819.7 94.8zM799.8 83.3zM807 78.5zM793.8 84.2zM801.1 72zM795.3 66zM759.6 55.6zM791.2 63.5zM820.5 91zM807.7 83.3zM784.3 64.8zM811.5 91.8zM824.5 92.2zM797.5 82.2zM785.7 63.2zM793.8 75.2zM819.7 84.9zM817 98.9zM823.2 89.9zM813.7 85.6zM789 68.1zM780.9 54.9zM804.8 82.1zM807.1 75.2zM786.8 66.5zM812.6 78.7zM774.4 61.7zM791.4 61.1zM807.9 92.2zM792.7 73.2zM787.7 69.7zM780.4 70zM810.6 87.2zM808 74.3zM802 89.5zM808.6 85zM812.4 84.7zM808.6 76.9zM806.5 72.2zM793.5 70.9zM792.2 70.9zM813.6 92.3zM810.7 78.6zM791.5 69.7zM807.4 82.5zM798 65.1zM813.9 94.9zM797 68.8zM798 85.3zM789.7 66.1zM819.3 95.5zM807.2 93.6zM805.5 82.9zM797.4 78.6zM786.4 70.3zM838.3 101.8zM782.8 55.9zM819 87.4zM804.4 82.7zM817.7 87.9zM783.3 56.9zM782.8 68.5zM794.7 77.3zM804.7 79.6zM792.7 63.5zM792.4 62zM812.9 88.2zM779.1 52.6zM793.6 66.4zM816.1 95.6zM787.2 72zM799.5 65zM790.1 70zM798.1 77.1zM820.6 99.3zM777.9 65.4zM789.4 68zM792.9 79.9zM810.2 74.7zM802.3 76.2zM806.1 89.1zM825.5 75.7zM790.4 70.8zM768.6 53.5zM800.1 78.2zM787.5 61.9zM796.8 71.3zM806.2 83.7zM818.7 83.1zM791.3 77.8zM787.5 75.1zM796.5 65.2zM792.5 77.2zM807.7 79.3zM787.6 62.6zM793.2 81.2zM791.9 71.8zM785.9 78zM798.4 94zM804 83.1zM778.5 61.2zM801.3 79.4zM796.5 69.6zM804 77.6zM808.5 80zM807 79.6zM801.1 85.1zM820.1 100.3zM798.2 64.1zM777.1 49.2zM797.2 77.8zM815.9 75zM823 100.4zM820.1 89.4zM794.8 64.3zM813.3 83.4zM813.5 73.6zM809.6 79.1zM792.9 67.2zM798.4 77zM793.3 60.7zM796.3 69.1zM808.4 79.8zM795.9 67.2zM815.1 80.6zM806.4 70.4zM791.5 75.8zM803.6 71.7zM803.2 72.8zM800.8 72.6zM799.4 71.6zM776.8 62.9zM830 101.5zM802.5 67.2zM782.3 59zM799.8 75.9zM812.9 84.7zM791.3 76.2zM777.7 60.9zM796.6 73.7zM805.6 75.1zM794.1 81.6zM788.4 67.6zM798.8 68.2zM802.1 77.8zM782.5 67.6zM800.3 67.5zM801.5 76.2zM812.6 79.8zM797.6 75.3zM790.8 78.1zM833.8 82.5zM805.4 69.9zM801.6 81.3zM796.1 70.9zM807.1 78zM776.5 58.5zM781.3 52.2zM800.3 78zM825 90.3zM789.9 64.2zM818.9 79.3zM801.8 84.7zM783.8 62.7zM814.9 86.5zM789.9 75.3zM810.3 80.6zM806.1 83.4zM782 60zM794.7 71.4z"/><path d="M789.1 73.4zM802.4 73.6zM813 94.4zM806.9 74.6zM828.9 85.5zM823.3 77.6zM792 72.4zM799.7 71.4zM814.7 82.3zM800.1 78.3zM820 94.4zM800.3 73.3zM798.5 78.1zM771.3 57.3zM796.6 71.3zM784.9 67.9zM810.9 84.9zM800.6 75.1zM811.7 90.6zM790.7 75.2zM793.5 67zM787.4 69.2zM787.3 68.8zM796.8 70.5zM788.8 70.1zM801.3 81.4zM819.4 81.5zM800.7 72.2zM798.5 57.8zM802.9 82.1zM804.1 82zM815.5 97.6zM789.7 71.5zM772.8 58.4zM804.5 83.6zM814.7 76.2zM796.5 85.4zM833 105zM810.3 87.4zM801.6 71.2zM787.2 58.2zM801.5 87.5zM793.9 72.5zM816.7 88.2zM808.2 81.3zM781.8 45.7zM791.3 79.9zM806.8 80.6zM808.1 79.9zM796.6 75.9zM800.1 75zM797.1 73.7zM798.1 69.3zM783.4 66.6zM779.1 64.1zM805.2 71.3zM802.2 83.6zM802.7 70.4zM802.5 74.6zM791.4 73.6zM801.6 75.5zM802.2 71.1zM785.5 67.6zM793.1 67zM807.7 81.2zM795.9 87.3zM784.3 58.2zM802.2 83.1zM802.5 92.6zM796.1 76.1zM799.5 86.6zM809.1 82.9zM787.4 70.2zM802.3 76.9zM777.5 68.6zM804.9 80.2zM800.6 71zM743.9 39.2zM817 84.8zM794.3 68.2zM823.1 82.7zM806 85.8zM801.5 82.5zM795.1 74.5zM793.4 70.2zM791.1 67zM803.9 66.7zM809.5 79.3zM803.5 77.1zM786.1 61.4zM811.6 89.8zM816.5 84.6zM807.4 84.4zM794.4 66.2zM789.8 84.5zM811.6 77.2zM801.8 63.4zM797.6 82.8zM793.1 82.6zM797.9 73.7zM801.7 79.6zM792 70.3zM819.4 89.5zM807.7 76.7zM795.1 72.9zM792.3 79.1zM795.9 77.2zM819.4 80.8zM807.1 88.9zM815.6 75.8zM809.5 81.8zM781.7 69.7zM805 83.4zM797 62zM827 102.4zM815.5 79.3zM799.1 84.4zM799 68.2zM774.4 47.3zM810.7 88.1zM806.6 80.3zM803.2 67.8zM807.2 88.2zM788.8 80zM816 83.6zM792.6 65.8zM785.1 77.4zM803.8 80.2zM792.5 72.4zM791 64.5zM809 74.7zM801.4 79.9zM798.4 66.7zM787.1 66.8zM805.2 95.9zM789.7 72.8zM818.5 84.8zM778.3 79.2zM789.9 62.6zM800.6 63.1zM814.2 87.2zM789.1 74.4zM827.7 101.9zM829.5 96.6zM808.7 81.7zM786.5 57.6zM812.8 85.7zM804.9 74.3zM798.2 71.8zM777.1 61.6zM808.5 78.3zM803.1 84.3zM802.4 80.5zM800.4 87.3zM790.3 59.3zM797.4 69.7zM810.8 77.2zM798.6 65zM813.2 86.6zM778.2 70.1zM783.3 66.2zM799.8 71.8zM788.3 58.8zM789.3 77.2zM793.7 79.4zM791 69.5zM803.5 80.7zM772.4 54.1zM797 75.6zM787.7 68zM796 48.7zM811 82.4zM780.4 64.9zM804.9 79.7zM798.5 68.7zM812.8 84.1zM812.8 84.2zM804 76.5zM810.9 84.7zM796.6 76.9zM796.4 75.3zM801.6 78.1zM803.4 85.5zM798.7 77.1zM805.4 77zM816.7 64.4zM789 70.6zM786.9 75.4zM798.1 79zM792.9 64.7zM813.7 86.6zM815.6 87.9zM786.7 69.1zM812.3 82.1zM785.2 47.7zM805.3 73.2zM790.9 71.4zM792.7 54.5zM807.3 90.3zM803.9 74.8zM787.4 61.8zM789.1 75.5z"/><path d="M788.6 61.3zM794 75.6zM783.3 58.7zM796.6 84.3zM794.9 72.6zM801.5 79.8zM792.4 69.6zM818.4 85.6zM812.5 86.3zM803.9 75.9zM799.3 82zM809.2 93zM783.5 60.2zM818.4 89.1zM800.2 85.3zM806.5 81.1zM785.1 56.2zM804.6 83.3zM812.5 93.1zM773.6 60.7zM797.2 75zM796.9 74.4zM806.7 76.6zM816.8 84.7zM804.4 80.1zM801.5 81.1zM788.5 69.7zM800.8 80.2zM809.6 80.9zM815 85.5zM811.5 80.2zM809.6 81.2zM800.1 81.2zM784.9 72.4zM788.2 66zM782.8 63zM788.1 74.1zM802 75.3zM803.1 67.7zM813.6 91zM800 67.7zM808.4 80.5zM791.9 56.4zM797.7 74.8zM795.4 78.8zM808 86.2zM800.1 59.9zM810 94.8zM816 82.1zM795.3 78.7zM808.8 81.3zM806.3 75.8zM793 70.8zM793.1 75.1zM805.6 87zM812.3 77.2zM780.1 52.6zM815.1 83.2zM806.5 85.1zM814.7 104.8zM803.5 79.2zM810.8 76.1zM802.5 86.1zM766.7 53.5zM813.4 89zM788.4 66.4zM794.5 70.9zM812.4 77.4zM797.4 64.8zM792.6 75.4zM791.2 73.5zM790.3 67.1zM797.8 78.1zM780.3 51.8zM812.7 78.8zM815.4 80.5zM811.9 88.6zM802.1 79.4zM790.4 68.7zM802.3 71.7zM818.8 85.5zM784.4 73.1zM791.5 75.7zM803 69.9zM782.8 59.3zM817.3 87.7zM810.3 87.2zM797.3 63.3zM780.1 76.3zM820.6 92.2zM784.5 72.8zM836.9 102.4zM810.5 89.9zM801.4 85.1zM789 65zM803.4 69.3zM802.4 86.8zM833.6 105zM801.4 78.7zM785.2 75zM800.4 77.1zM796.1 68.5zM787.2 71.9zM806.5 83.6zM807.1 75.8zM802.4 76.5zM798.5 80.7zM810.9 92.6zM811.6 87.6zM792.5 62.3zM775.6 64.8zM808.2 84zM814.1 84.1zM810.5 71.5zM792.3 70.9zM797.1 78.3zM781.2 56.3zM791.1 77.3zM821.7 79.5zM800.7 94.6zM818.2 99zM793.8 64.9zM792 63.4zM807.2 71.5zM809.5 79.8zM798.7 80.2zM798.3 70.1zM795.3 68.1zM804.6 77zM795.2 79.8zM813.7 88.4zM790.8 79.1zM797.7 84.3zM797 60.4zM772.8 67.4zM813 83.7zM804 78.9zM801.4 87.3zM790.3 62.9zM804.8 72.3zM818.7 94.4zM787.5 64.2zM815.7 87.6zM796.2 68.1zM785.2 76.3zM816.8 78.9zM820.7 90.9zM815.6 72.5zM788.3 64zM794.1 71.2zM803 74.5zM802.1 80.4zM789.3 65.6zM809.3 91.7zM818.1 81.9zM811.8 83.9zM809.4 87.1zM803.5 76.2zM799.3 78.1zM789.4 75.6zM807.4 86.4zM803.5 90.2zM801.8 85.9zM805 90.4zM788.2 69.5zM821.2 79.7zM806.7 75.8zM777.9 57.3zM802.8 80zM805.1 84.7zM781.4 76.3zM810.1 91.6zM817.2 86.6zM805.2 75.7zM800.1 71.3zM804.3 75.8zM824.7 96.6zM774.7 63zM810.7 85.3zM814.6 84.6zM785.6 62.9zM799 85.2zM789 62.2zM789.1 71.8zM804.6 76zM804 76.6zM796.3 69.8zM805.7 79.8zM814.3 82.7zM807.7 79zM776.7 67.6zM818.2 85.9zM784.8 70.4zM814.7 92.7zM787.5 65.8zM805 77.8zM801.5 74.1zM810.8 76zM809 76.8zM792.3 70.5zM791.5 73.9zM789.2 75.2z"/></g>
<g><path d="M948.7 81.1zM935.1 69.9zM939.5 73.5zM942.7 76.1zM935.9 70.6zM937.7 72.1zM940.2 74.1zM964.5 94zM936 70.7zM936.5 71.1zM949.4 81.6zM959.9 90.2zM964 93.6zM927.8 64zM974.9 102.5zM950.7 82.7zM951.4 83.3zM948.7 81.1zM938.3 72.6zM922.8 59.9zM953.4 84.9zM924.9 61.6zM952.3 84zM928.9 64.8zM931.4 66.9zM934 69zM950.2 82.3zM936.1 70.7zM939.9 73.8zM933.9 68.9zM947.3 79.9zM958.8 89.3zM927.3 63.6zM932.6 67.9zM945.9 78.8zM922.7 59.8zM951.5 83.4zM933.8 68.8zM939.9 73.8zM958.7 89.2zM924.3 61.1zM938 72.3zM949.4 81.6zM938.7 72.9zM948.4 80.8zM946.2 79zM946.9 79.6zM945.5 78.4zM963.4 93.1zM936.8 71.3zM946.1 78.9zM938.2 72.5zM945.3 78.3zM938.9 73.1zM918 55.9zM956.6 87.6zM936.2 70.8zM962.9 92.7zM946.1 78.9zM962.3 92.2zM945.6 78.5zM939 73.2zM950.8 82.8zM950.7 82.7zM941.9 75.5zM941.5 75.2zM951.6 83.4zM949 81.3zM947.8 80.3zM949.8 82zM948.4 80.8zM940.2 74.1zM926.5 62.9zM920.9 58.3zM924.4 61.2zM929.9 65.7zM941.3 75zM912.9 51.8zM944.3 77.5zM952.8 84.5zM943.6 76.9zM925.2 61.8zM963.2 92.9zM939.5 73.6zM952.1 83.8zM964.1 93.6zM965.6 94.9zM947.4 80zM958.2 88.9zM924.6 61.4zM930 65.7zM944.6 77.7zM963.9 93.5zM938.4 72.6zM937.7 72.1zM932.1 67.4zM956.6 87.5zM967 96.1zM934 69.1zM942 75.6zM937 71.5zM947.9 80.4zM960.1 90.4zM947.1 79.7zM925 61.7zM933 68.2zM939.9 73.9zM961.1 91.2zM966.7 95.8zM943.3 76.6zM934.9 69.7zM939.1 73.2zM933.9 68.9zM937.9 72.2zM938.9 73.1zM933.6 68.7zM951.8 83.6zM928.8 64.8zM942.2 75.7zM930 65.8zM962 92zM931.5 67zM962.7 92.5zM944 77.3zM972.1 100.2zM925.2 61.8zM944.4 77.6zM943.5 76.8zM934.6 69.5zM924.5 61.2zM938.8 72.9zM941.1 74.8zM945.9 78.7zM938.4 72.7zM942.7 76.2zM933.3 68.4zM943.8 77zM946.9 79.6zM943.2 76.6zM947.8 80.4zM937 71.5zM960.9 91.1zM952.4 84.1zM948.2 80.6zM963.3 93.1zM915.5 53.9zM954.9 86.2zM938.2 72.5zM946.5 79.3zM934 69zM953.4 85zM933.3 68.4zM949 81.3zM955.2 86.4zM954.1 85.5zM965.5 94.8zM936.9 71.4zM926 62.5zM951.1 83.1zM952.7 84.3zM923.6 60.5zM972.5 100.5zM937.5 71.9zM967.2 96.2zM938.4 72.7zM921.3 58.6zM956.4 87.3zM948.8 81.1zM913.6 52.3zM958.5 89.1zM956.1 87.1zM919.2 56.9zM974.1 101.9zM944 77.2zM947.3 79.9zM942.3 75.8zM947.6 80.2zM957.4 88.2zM953.2 84.8zM934.9 69.8zM928.1 64.2zM931.5 67zM940.1 74.1zM920.4 57.9zM916.7 54.9zM954.3 85.6zM956.6 87.5zM942.2 75.8zM961 91.1zM946.4 79.2zM946.5 79.3zM938.5 72.7zM941.9 75.5zM937.6 72zM953.4 84.9zM931.6 67.1zM924.2 61zM929.4 65.3zM957.8 88.5zM937.2 71.7zM968.5 97.3zM925.5 62.1zM956.5 87.4zM953.8 85.2zM950.5 82.5zM948.3 80.7zM943.7 77zM960.8 91zM953 84.6zM968.2 97zM969.5 98.1zM928.2 64.3zM940.8 74.6zM935.6 70.3zM951 82.9zM935.4 70.2zM928.4 64.4zM938 72.3zM936.9 71.4zM960 90.3zM942 75.6zM945.8 78.7zM940.8 74.6zM943.1 76.5zM939.2 73.3zM948.7 81.1zM925 61.7zM921.2 58.5zM921.4 58.7zM912.3 51.3zM932.2 67.6zM940.6 74.5zM937.7 72.1zM941.5 75.2zM928.8 64.8zM944.4 77.6zM962.3 92.2zM931.8 67.2zM966.6 95.7zM941.3 75zM942.9 76.4zM953 84.6zM954.4 85.7zM946.2 79zM951.3 83.2zM965.3 94.6zM951.3 83.2zM945.1 78.1zM944.9 78zM955.8 86.9zM923.7 60.6zM933.9 69zM939.7 73.7zM927.8 64zM930.7 66.4zM936.3 70.9zM942.3 75.8zM980.9 107.4zM925.9 62.4zM914.2 52.8zM934 69zM959.9 90.2zM949.1 81.4zM954.8 86zM918.6 56.5zM969.4 98zM966.7 95.8zM945.5 78.4zM942.1 75.7zM936.6 71.2zM915.2 53.7zM973.5 101.3zM945.5 78.4zM928.1 64.2zM934.1 69.1zM936.3 70.9zM937.8 72.2zM939.8 73.8zM950.3 82.4zM955.1 86.3zM937.4 71.8zM943 76.4zM938.4 72.7zM950.6 82.6zM935.9 70.6zM959.1 89.6zM932.2 67.5zM953.4 84.9zM962.7 92.5zM935.4 70.2zM936.4 71zM948.1 80.6zM961.9 91.9zM940.5 74.4zM970.8 99.2zM958.7 89.2zM927.1 63.4zM947.5 80.1zM946.2 79zM950.9 82.9zM946.7 79.4zM945.9 78.8zM937.9 72.2zM938.8 73zM942.4 75.9zM963.1 92.8zM935.5 70.2zM925.8 62.3zM942.9 76.3zM972.4 100.5zM936.7 71.3zM940.1 74.1zM958 88.7zM959.9 90.3zM949 81.3zM922 59.2zM967.7 96.6zM932.4 67.7zM958.1 88.8zM939.9 73.9zM963.9 93.5zM941 74.8zM943.9 77.1zM942.8 76.2zM956 87.1zM923.3 60.3zM976.1 103.5zM959.6 90zM947.9 80.4zM947.3 79.9zM944.8 77.9zM945.6 78.5zM911.6 50.7zM916.8 55zM930.2 65.9zM945.1 78.1zM936.6 71.2zM937.2 71.6zM917.8 55.7zM951.6 83.4zM944.1 77.3zM929.7 65.5zM927.1 63.4zM954.3 85.7zM916.2 54.5zM961.6 91.6zM935.9 70.6zM960.9 91.1zM930.2 65.9zM951.4 83.2zM940.5 74.3zM943.5 76.8zM944.3 77.4zM948.2 80.6zM921.3 58.6zM969.4 98zM944.1 77.3zM948.2 80.7zM951.1 83zM930.8 66.4zM968.4 97.2zM940.8 74.6zM927.3 63.5zM949.1 81.4zM931.8 67.3zM937.5 71.9zM924.5 61.2zM936.8 71.3zM924.2 61zM953.8 85.2zM956.1 87.2zM959.3 89.8zM954.7 86zM929.8 65.6zM933.7 68.8zM930.5 66.2zM954.8 86zM933.6 68.7zM933.4 68.5zM943.1 76.5zM948.6 81zM945.4 78.4zM936.8 71.3zM936.6 71.2zM952.9 84.5zM945.1 78.1zM954 85.4zM953.5 85zM935 69.9zM948 80.5zM962.5 92.4zM922 59.2zM942.6 76.1zM941.2 75zM956.1 87.1zM940.8 74.6zM959.1 89.5zM936.2 70.8zM964 93.5zM944.5 77.6zM956.4 87.4zM954.3 85.7z"/><path d="M958.8 89.3zM942.2 75.7zM945.5 78.4zM925.3 61.9zM957.7 88.4zM935.6 70.3zM965 94.4zM944.5 77.6zM939.7 73.7zM939.6 73.6zM950.1 82.2zM957.4 88.2zM964.7 94.2zM933.6 68.7zM948.2 80.6zM963.3 93zM945.2 78.2zM918.6 56.4zM930.7 66.3zM948.3 80.7zM952 83.8zM937.6 72zM927.8 64zM937.2 71.6zM944.3 77.5zM970.4 98.9zM927 63.3zM954.4 85.8zM934.8 69.7zM941.8 75.4zM940.3 74.2zM951.8 83.6zM959.7 90zM947.3 79.9zM936.4 71zM950.8 82.8zM946.4 79.2zM945.1 78.1zM964.2 93.7zM928.1 64.2zM932.8 68.1zM947.2 79.8zM960.9 91.1zM917.4 55.4zM948.6 81zM974.5 102.2zM962.8 92.6zM920.6 58zM955.6 86.7zM943.2 76.5zM949.3 81.5zM929.2 65.1zM936.9 71.4zM936.8 71.3zM956.5 87.4zM935.7 70.4zM931.9 67.3zM946.6 79.3zM957.5 88.3zM966.4 95.6zM928.7 64.7zM946 78.9zM929.1 65zM903.8 44.3zM936.1 70.7zM953 84.6zM952.8 84.4zM932.9 68.2zM922.6 59.7zM933.8 68.8zM945.7 78.6zM938 72.3zM932.6 67.9zM954.2 85.6zM954.7 86zM951.9 83.7zM947.1 79.8zM956.1 87.1zM957.9 88.6zM946.6 79.3zM952 83.7zM928.1 64.2zM945.1 78.2zM933.4 68.5zM920.9 58.3zM962.1 92zM951.9 83.7zM925.6 62.2zM937.5 71.9zM943.2 76.5zM946.2 79.1zM954.1 85.5zM957.8 88.5zM933.3 68.5zM947.2 79.8zM945.1 78.1zM942.4 75.9zM919.8 57.4zM919.1 56.9zM934.2 69.2zM939.7 73.7zM926.6 63zM941.4 75.1zM946.1 78.9zM956.8 87.7zM972.9 100.8zM941.6 75.2zM942 75.6zM933.5 68.6zM922.7 59.8zM931.4 66.9zM953.7 85.1zM933 68.2zM940 74zM938.5 72.8zM937.9 72.2zM942 75.6zM930.1 65.9zM913.1 51.9zM956.9 87.8zM959.9 90.2zM940 73.9zM937.1 71.5zM927.4 63.6zM938.7 72.8zM964.5 94zM952.2 84zM943.2 76.6zM961.6 91.6zM945 78zM955.6 86.7zM959.7 90zM941.4 75.1zM946.5 79.2zM956.6 87.5zM928.8 64.8zM960.7 90.9zM946.7 79.4zM939.5 73.5zM945 78zM930.3 66zM944.8 77.9zM951.8 83.6zM939.2 73.3zM946.5 79.3zM942.7 76.2zM969 97.7zM946.4 79.2zM949.7 81.9zM940 74zM931.2 66.8zM942 75.6zM957.1 87.9zM932.7 68zM946.8 79.5zM946.9 79.6zM935.4 70.1zM944.3 77.5zM937.3 71.7zM938.5 72.8zM916.5 54.7zM946.3 79.1zM961.7 91.7zM932.7 68zM971.5 99.7zM937.6 72zM943.1 76.5zM934.9 69.8zM962 91.9zM953.5 85zM944.1 77.3zM948.3 80.7zM952.4 84.1zM948.8 81.1zM950.4 82.5zM944 77.2zM938.7 72.9zM962 91.9zM940.6 74.4zM948.4 80.8zM931.9 67.3zM948.4 80.8zM944.1 77.3zM936.8 71.3zM945.5 78.5zM919.7 57.3zM949 81.3zM942.9 76.3zM975.2 102.7zM957.8 88.5zM930.8 66.5zM932.5 67.8zM949.9 82.1zM924.4 61.2zM929.8 65.6zM924 60.9zM947.3 79.9zM935.5 70.3zM917.7 55.7zM956.4 87.4zM920.7 58.1zM961.4 91.5zM946.5 79.3zM938.4 72.6zM938.1 72.4zM942.2 75.7zM969.8 98.3zM948.4 80.8zM958.3 88.9zM951.2 83.1zM941.3 75zM964.8 94.2zM956.4 87.3zM934.7 69.6zM957 87.8zM939.4 73.4zM953.6 85.1zM927.6 63.8zM938.9 73zM961.5 91.6zM956.9 87.8zM914.3 52.9zM937.3 71.8zM937.7 72.1zM959.1 89.6zM956.4 87.4zM948.7 81.1zM948.1 80.6zM950.2 82.3zM950.3 82.4zM929.7 65.5zM955.9 87zM952.5 84.2zM940.5 74.3zM926.2 62.6zM948.6 81zM950.5 82.6zM962 92zM947.8 80.3zM942.1 75.7zM942.7 76.1zM929.2 65.1zM946.9 79.6zM944.6 77.7zM926.2 62.6zM933.3 68.4zM918.9 56.7zM931.2 66.8zM927.1 63.4zM940.6 74.5zM958.8 89.3zM948.7 81.1zM916.7 54.9zM933.1 68.3zM945 78zM916.2 54.5zM952.4 84.1zM956.6 87.5zM954.1 85.5zM928.2 64.3zM952.5 84.2zM964.9 94.3zM960 90.3zM950.3 82.3zM947.8 80.4zM939.6 73.6zM931.3 66.9zM951.3 83.2zM934.1 69.1zM937.3 71.7zM937.6 72zM953 84.6zM935.5 70.3zM950 82.1zM958.8 89.3zM939.1 73.2zM949.8 82zM947.6 80.2zM965.5 94.8zM938.7 72.9zM957.1 87.9zM944.4 77.6zM928.5 64.6zM916.3 54.5zM964.1 93.7zM952.7 84.3zM926.3 62.7zM932.2 67.5zM937.2 71.6zM934.6 69.5zM944.7 77.8zM946.4 79.1zM943.8 77zM933.3 68.5zM949.3 81.6zM942.3 75.8zM966.1 95.3zM941.4 75.1zM944.5 77.6zM959 89.5zM970 98.5zM960.6 90.8zM961.5 91.5zM946.9 79.6zM920.7 58.2zM929.8 65.6zM922.2 59.4zM930.4 66.1zM917.3 55.4zM934.9 69.8zM958.5 89.1zM948.2 80.6zM935.1 69.9zM939.7 73.7zM951.4 83.3zM941.9 75.5zM929.8 65.6zM946 78.8zM970.2 98.7zM920.2 57.7zM943.1 76.5zM954.5 85.8zM956.9 87.8zM941.8 75.4zM938.4 72.6zM950.7 82.7zM976.6 103.9zM937.9 72.2zM952.5 84.1zM966.8 95.9zM940 74zM942.7 76.2zM950.6 82.6zM928.6 64.6zM918.8 56.6zM947 79.7zM909.1 48.7zM961.1 91.2zM943.5 76.8zM939.5 73.5zM956.7 87.6zM939.6 73.6zM939.4 73.4zM921.5 58.8zM932.6 67.9zM938 72.3zM915.8 54.2zM921.1 58.5zM922.9 60zM931.5 67zM929.2 65.1zM949.1 81.4zM945.8 78.7zM942.3 75.8zM929.5 65.4zM950 82.1zM948.2 80.7zM943.5 76.8zM929.8 65.6zM950.4 82.5zM956.7 87.6zM948.2 80.7zM948.8 81.2zM963.2 92.9zM966.7 95.8zM946.5 79.2zM949.7 81.9zM955.8 86.9zM935 69.9zM937.1 71.6zM938.6 72.8zM940.7 74.5zM956.4 87.4zM939.3 73.4zM942.1 75.7zM943.5 76.8zM935 69.9zM935 69.8zM945.7 78.6zM935.3 70.1zM918.1 56zM943.1 76.5zM940.9 74.7zM938.9 73zM927.3 63.6zM937.7 72zM947.2 79.9zM939.3 73.4zM955.8 86.9zM975.7 103.1zM951.2 83.1zM940.7 74.5zM960.8 91zM945.3 78.3zM948 80.5zM959.8 90.1zM950.5 82.5zM914.9 53.4zM966.1 95.3zM929.1 65zM927.2 63.5zM949.1 81.4z"/></g>
<g><path d="M70.7 240.9zM78.4 234.5zM81.8 231.8zM64 246.3zM78.9 234.2zM91.2 224.1zM95 221zM65.3 245.3zM88.2 226.6zM83.7 230.2zM87.4 227.2zM86.9 227.7zM65.9 244.8zM85.5 228.8zM86.2 228.2zM87.1 227.5zM83.7 230.2zM99.9 217zM102.2 215.1zM112.1 207zM86.1 228.3zM84.8 229.3zM80.7 232.7zM94.7 221.3zM91.8 223.6zM87 227.6zM108.8 209.7zM73.2 238.9zM96.4 219.9zM93.6 222.1zM89.3 225.7zM81.7 231.9zM95.4 220.7zM73.7 238.5zM83.2 230.6zM95.7 220.4zM79.5 233.7zM74 238.2zM86.4 228zM88 226.7zM57.7 251.5zM110.1 208.6zM76 236.5zM83.8 230.2zM87.7 227zM77.6 235.2zM79.8 233.5zM92.8 222.8zM81.1 232.4zM89.6 225.4zM73.6 238.5zM81.1 232.3zM89.4 225.5zM60.2 249.5zM84.7 229.4zM86.9 227.7zM83.7 230.2zM95.7 220.4zM75 237.3zM94.4 221.5zM93.2 222.4zM76.7 236zM89.6 225.4zM101.4 215.7zM88 226.7zM107.3 210.9zM90 225.1zM76.3 236.3zM85.5 228.8zM62.8 247.3zM84.5 229.6zM84.4 229.6zM92.7 222.9z"/><path d="M84.6 229.5zM105.5 212.4zM79 234.1zM85.1 229.1zM77.5 235.4zM73.9 238.3zM90.8 224.4zM88.8 226.1zM84.2 229.9zM82.2 231.5zM113.3 206.1zM82.7 231zM88.4 226.4zM82.7 231zM76.2 236.4zM82.3 231.4zM93.9 221.9zM71.6 240.1zM87.1 227.5zM91.6 223.8zM69.5 241.8zM75.7 236.8zM67.6 243.5zM117.1 202.9zM74.8 237.5zM88.5 226.3zM89 225.9zM72.3 239.5zM98.5 218.2zM94 221.8zM83.8 230.1zM92.2 223.3zM73.2 238.9zM66.4 244.4zM89.9 225.2zM68.1 243zM69.1 242.2zM87.9 226.8zM79 234.1zM63.6 246.7zM78.2 234.7zM78.9 234.2zM75.3 237.1zM74.2 238zM78.3 234.6zM74.7 237.6zM85.8 228.5zM84 230zM99.2 217.6zM79.1 234zM87.7 227zM80.4 232.9zM88.6 226.2zM55 253.7zM100.7 216.4zM76.6 236zM78.3 234.6zM89.4 225.6zM89.6 225.4zM74.8 237.6zM90.2 224.9zM78.1 234.9zM77.6 235.3zM90.8 224.4zM77.3 235.5zM77.3 235.5zM103.6 213.9zM86.8 227.7zM76.9 235.8zM64.6 245.9zM74.5 237.8zM82.7 231.1zM87.5 227.1z"/></g>
<g><path d="M233 226.6zM217.9 233.7zM219.6 232.9zM230.3 227.9zM216.3 234.4zM238.3 224.1zM260.9 213.4zM226.5 229.6zM217 234.1zM240.8 222.9zM230.9 227.6zM244.2 221.3zM230.1 227.9zM215.5 234.8zM227.9 229zM219.6 232.9zM225.6 230.1zM214.2 235.4zM223.8 230.9zM226.2 229.8zM240.9 222.8zM248.7 219.1zM234.1 226.1zM221 232.2zM235.4 225.4zM229.2 228.4zM207.1 238.8zM205 239.8zM219.2 233.1zM233.8 226.2zM239.6 223.4zM226.2 229.8zM226.2 229.8zM229.1 228.4zM214.1 235.5zM191 246.4zM217 234.1zM210.2 237.3zM240.4 223.1zM200.6 241.9zM224.5 230.6zM231.4 227.3zM258.5 214.5zM226.7 229.5zM222.9 231.3zM213.7 235.7zM219.4 233zM231.9 227.1zM220.4 232.5zM222.4 231.6zM232.4 226.9zM214.5 235.3zM215.1 235zM201.5 241.4zM233.4 226.4zM239.2 223.6zM256.9 215.3zM203.6 240.5zM237.3 224.5zM234.9 225.7zM247.8 219.6zM231.1 227.5zM214.8 235.1zM233.2 226.5zM194.4 244.8zM215.9 234.6zM229.5 228.2zM231 227.5zM228.3 228.8zM224.9 230.4zM233.4 226.4zM237.8 224.3zM224.3 230.7z"/><path d="M220.5 232.5zM236.5 224.9zM213.2 235.9zM230 228zM226.2 229.8zM223.7 230.9zM240 223.3zM250.6 218.3zM234.8 225.7zM224.9 230.4zM217.5 233.9zM220.3 232.6zM218.7 233.3zM221.3 232.1zM225 230.4zM218.7 233.3zM233.2 226.5zM262.3 212.7zM208.3 238.3zM230.2 227.9zM233.9 226.1zM236 225.1zM220.2 232.6zM227.2 229.3zM215.2 235zM230 228zM246.9 220zM241.6 222.5zM245.1 220.8zM235.8 225.2zM227.2 229.3zM223 231.3zM213.8 235.6zM255.1 216.1zM213.2 235.9zM208.8 238zM218.3 233.5zM227.4 229.2zM202.1 241.2zM231.7 227.2zM206.4 239.1zM232.6 226.7zM238.7 223.9zM219.7 232.8zM202.7 240.9zM228.7 228.6zM218.5 233.4zM238.8 223.8zM232 227zM226.3 229.7zM228.3 228.8zM204.3 240.1zM212.2 236.4zM217.6 233.9zM216.7 234.2zM230.7 227.6zM227.1 229.4zM246 220.4zM232.2 227zM267.1 210.5zM233.4 226.4zM222.1 231.7zM220.3 232.6zM230 228zM252.8 217.2zM231.4 227.3zM218.3 233.5zM215.2 235zM197.4 243.4zM227.5 229.2zM231.3 227.4zM211.3 236.8zM237.1 224.6z"/></g>
<g><path d="M370.3 229zM360.2 231.2zM356.9 231.9zM359.5 231.3zM382.9 226.2zM368.9 229.2zM362.2 230.7zM386 225.5zM372.5 228.5zM376.4 227.6zM374.9 227.9zM369.2 229.2zM373.3 228.3zM347.5 234zM379 227zM357.8 231.7zM369.9 229zM392.9 224zM368.8 229.3zM356.6 232zM336.7 236.3zM361.4 230.9zM360.5 231.1zM356.5 232zM340.2 235.5zM383.8 226zM365.1 230.1zM362.3 230.7zM376 227.7zM344.4 234.6zM366.1 229.9zM341.9 235.2zM380.3 226.8zM378.4 227.2zM359.2 231.4zM348.8 233.7zM356.1 232zM381.2 226.5zM342.6 235zM396 223.3zM369.4 229.1zM346.7 234.1zM374.6 228zM355.3 232.2zM409.1 220.4zM363 230.6zM385.2 225.7zM360.4 231.1zM373.3 228.3zM382.3 226.3zM389.9 224.6zM352.2 232.9zM374.5 228zM373 228.3zM383.3 226.1zM377.4 227.4zM374.7 228zM367.3 229.6zM345.1 234.5zM358.2 231.6zM404.9 221.4zM370 229zM372 228.6zM384.2 225.9zM366.7 229.7zM403 221.8zM375.2 227.9zM376.8 227.5zM398.5 222.8zM356.5 232zM362.1 230.7zM361 231zM341.2 235.3z"/><path d="M358.5 231.5zM354.3 232.4zM391.9 224.2zM373 228.3zM366.9 229.7zM367.4 229.6zM373.8 228.2zM368.8 229.3zM381 226.6zM388.9 224.9zM370.7 228.9zM376.8 227.5zM355.4 232.2zM329.5 237.9zM375.7 227.8zM393.9 223.8zM374 228.1zM379.8 226.9zM362.4 230.7zM375.5 227.8zM343.5 234.8zM367.4 229.6zM401 222.2zM333.3 237.1zM374.2 228.1zM372.1 228.5zM379.5 226.9zM365.2 230.1zM363.4 230.5zM377.2 227.4zM376.6 227.6zM364.6 230.2zM353.2 232.7zM382.7 226.2zM407.5 220.8zM350.9 233.2zM371.6 228.6zM358.6 231.5zM361.3 230.9zM360 231.2zM364.2 230.3zM357.3 231.8zM381.8 226.4zM385.1 225.7zM370.1 229zM376.8 227.5zM376.6 227.6zM359.1 231.4zM369.8 229.1zM368.1 229.4zM373.2 228.3zM390.9 224.4zM384.7 225.8zM377.6 227.3zM361.4 230.9zM355.7 232.1zM368.8 229.3zM362.3 230.7zM366.1 229.9zM354.9 232.3zM373.1 228.3zM349.4 233.5zM374.2 228.1zM361.6 230.9zM354.4 232.4zM371.1 228.8zM414.4 219.3zM368.8 229.3zM378.5 227.1zM360 231.2zM355 232.3zM371.2 228.8zM375.3 227.9z"/></g>
<g><path d="M518.3 228.7zM532.4 228.7zM527 228.7zM528.4 228.7zM516.1 228.7zM508.8 228.7zM487.1 228.7zM502.5 228.7zM512.8 228.7zM504.8 228.7zM521.6 228.7zM524.2 228.7zM498.9 228.7zM498.9 228.7zM502.7 228.7zM503.9 228.7zM503.9 228.7zM514 228.7zM509.4 228.7zM519.4 228.7zM495.4 228.7zM517.2 228.7zM526 228.7zM511.5 228.7zM517.9 228.7zM516.9 228.7zM478.3 228.7zM497.6 228.7zM498 228.7zM491.5 228.7zM518.7 228.7zM520.4 228.7zM514.5 228.7zM507.8 228.7zM501 228.7zM512.9 228.7zM514 228.7zM520.3 228.7zM512.7 228.7zM520.7 228.7zM503.8 228.7zM510.1 228.7zM517.5 228.7zM535.5 228.7zM498.8 228.7zM503.5 228.7zM509.6 228.7zM519.9 228.7zM500.2 228.7zM525 228.7zM498.5 228.7zM499.3 228.7zM507.9 228.7zM510.1 228.7zM500.9 228.7zM499.7 228.7zM508.7 228.7zM488.7 228.7zM551.6 228.7zM484.5 228.7zM511.5 228.7zM539.7 228.7zM497.3 228.7zM486.3 228.7zM529.4 228.7zM524.4 228.7zM482 228.7zM507.2 228.7zM513.5 228.7zM519.9 228.7zM515.9 228.7zM511.6 228.7zM511.7 228.7z"/><path d="M497.2 228.7zM501.6 228.7zM516 228.7zM470.9 228.7zM518.2 228.7zM510 228.7zM512 228.7zM506.8 228.7zM485.4 228.7zM516 228.7zM542.3 228.7zM504.1 228.7zM494.4 228.7zM502.9 228.7zM514.9 228.7zM497.7 228.7zM517.6 228.7zM515 228.7zM521.5 228.7zM504.7 228.7zM547 228.7zM474.8 228.7zM519.6 228.7zM522.1 228.7zM553.3 228.7zM496.6 228.7zM502.5 228.7zM528 228.7zM544.9 228.7zM511.5 228.7zM506 228.7zM500.6 228.7zM525.6 228.7zM536.6 228.7zM526.1 228.7zM533.4 228.7zM490.8 228.7zM537.6 228.7zM510.8 228.7zM517.1 228.7zM518.5 228.7zM505.5 228.7zM504.7 228.7zM512.6 228.7zM483.7 228.7zM527.5 228.7zM519.9 228.7zM504.8 228.7zM522.9 228.7zM522.7 228.7zM558.8 228.7zM501.9 228.7zM516.8 228.7zM519 228.7zM516.3 228.7zM501.5 228.7zM496.6 228.7zM504.9 228.7zM526.6 228.7zM515.4 228.7zM534.5 228.7zM517.6 228.7zM483 228.7zM513.1 228.7zM516.2 228.7zM528.5 228.7zM493.1 228.7zM523.5 228.7zM512.2 228.7zM519.6 228.7zM502.9 228.7zM548.9 228.7zM489.5 228.7z"/></g>
<g><path d="M659 229.2zM654.5 228.2zM645.2 226.2zM667.5 231zM615.2 219.6zM648.7 226.9zM664.2 230.3zM651.8 227.6zM655.6 228.4zM661.4 229.7zM668.6 231.3zM634.5 223.8zM662.5 230zM657.8 228.9zM648 226.8zM627.6 222.3zM669.5 231.5zM654.6 228.2zM638.9 224.8zM642.6 225.6zM640.1 225zM636.6 224.3zM690.6 236.1zM655.8 228.5zM654.6 228.2zM640.7 225.2zM650.8 227.4zM657.4 228.8zM653.1 227.9zM670.9 231.8zM644 225.9zM644.3 226zM632.4 223.3zM643.5 225.8zM641.1 225.3zM628.4 222.5zM658.8 229.1zM661.7 229.8zM653.8 228zM647.9 226.7zM665.5 230.6zM643 225.7zM644.9 226.1zM681.7 234.2zM678.7 233.5zM642.3 225.5zM688.7 235.7zM656 228.5zM641.4 225.3zM650.3 227.3zM660.2 229.4zM645.7 226.3zM671.7 232zM640.6 225.1zM665.3 230.5zM633.2 223.5zM645.9 226.3zM670.4 231.7zM658.8 229.1zM655.5 228.4zM694.8 237zM637.9 224.6zM622.4 221.1zM654.5 228.2zM652.4 227.7zM662.6 230zM654.9 228.3zM659.9 229.4zM676.6 233zM657.7 228.9zM645.7 226.3zM651 227.4zM641.9 225.4z"/><path d="M658.2 229zM629.3 222.7zM668.4 231.2zM649.9 227.2zM652.6 227.8zM666.7 230.9zM655.1 228.3zM663 230zM625.9 221.9zM647.9 226.7zM668 231.2zM646.7 226.5zM664.7 230.4zM659.6 229.3zM619 220.4zM647.1 226.6zM664.1 230.3zM700.1 238.2zM674.6 232.6zM644.8 226.1zM663.1 230.1zM642.2 225.5zM656.4 228.6zM647 226.5zM649.1 227zM648 226.8zM646.1 226.3zM653.1 227.9zM658.7 229.1zM654.5 228.2zM684.2 234.7zM675.6 232.8zM662.1 229.8zM679.7 233.7zM669.9 231.6zM659.1 229.2zM658.9 229.2zM662.3 229.9zM666 230.7zM660.9 229.6zM659.7 229.3zM627 222.2zM646.2 226.4zM662.3 229.9zM661.2 229.7zM660.4 229.5zM656.9 228.7zM635.1 223.9zM670.8 231.8zM655.7 228.4zM677.6 233.3zM663.3 230.1zM641.1 225.2zM693.2 236.7zM642.3 225.5zM644.2 225.9zM651.8 227.6zM656.9 228.7zM647.3 226.6zM640.1 225zM662.5 230zM653 227.9zM660.6 229.5zM666.9 230.9zM648.1 226.8zM660.3 229.5zM669.1 231.4zM659.9 229.4zM686.7 235.3zM630.9 223zM661 229.6zM630.1 222.8zM647.1 226.6z"/></g>
<g><path d="M819.3 237.9zM811 234zM786.3 222.3zM790.1 224.1zM800.6 229.1zM815.7 236.2zM794.4 226.2zM802.7 230.1zM801.6 229.5zM790.1 224.2zM793.8 225.9zM802.9 230.2zM801.5 229.5zM791.7 224.9zM793.5 225.8zM812.3 234.6zM768.8 214.1zM806.3 231.8zM806.3 231.8zM792.4 225.2zM828.3 242.2zM788.5 223.4zM790.7 224.4zM773.5 216.3zM804.8 231.1zM804.8 231.1zM798.5 228.1zM784.7 221.6zM809.7 233.4zM786.7 222.5zM781.6 220.1zM788.4 223.3zM802.2 229.8zM811.4 234.2zM782.8 220.7zM797.6 227.7zM832.3 244.1zM791.8 224.9zM812.2 234.6zM799.7 228.7zM787 222.7zM820.2 238.3zM776.4 217.7zM795.2 226.5zM803.4 230.4zM772.9 216zM795.2 226.5zM787.3 222.8zM785.9 222.1zM775 217zM808.8 233zM798.7 228.2zM788.2 223.2zM778.5 218.6zM795.9 226.9zM817.5 237.1zM791.8 224.9zM779.7 219.2zM798 227.9zM798.1 227.9zM775.7 217.4zM792.8 225.4zM816.6 236.6zM824.2 240.3zM789.3 223.7zM804.1 230.7zM802.5 230zM810.7 233.9zM796.3 227.1zM796.4 227.1zM808.5 232.8zM790.9 224.5zM798.8 228.2z"/><path d="M804.6 231zM798.9 228.3zM801.4 229.5zM797.7 227.7zM787.7 223zM789 223.6zM783.7 221.1zM803.6 230.5zM803.1 230.3zM800.5 229zM805.5 231.4zM810.2 233.6zM807.3 232.2zM806.8 232zM833.8 244.8zM791.7 224.9zM797 227.4zM786.6 222.5zM822 239.2zM785.1 221.8zM802.3 229.9zM791 224.6zM789.9 224.1zM810.1 233.6zM807.5 232.3zM804.8 231.1zM765.8 212.6zM804.4 230.9zM797.6 227.7zM807.9 232.6zM797.7 227.7zM794.3 226.1zM826.5 241.3zM789.7 224zM795.7 226.8zM791.1 224.6zM791 224.6zM803.3 230.4zM801.7 229.6zM803.8 230.6zM780.2 219.5zM789.8 224zM785.6 222zM788.9 223.6zM796.4 227.1zM791.9 225zM811.8 234.4zM762.4 211zM818.4 237.5zM777.8 218.3zM772 215.6zM797.6 227.7zM798.6 228.1zM799.3 228.5zM801.7 229.6zM784.7 221.6zM799.8 228.7zM802.9 230.2zM838.5 247zM800.2 228.9zM802.4 230zM800.9 229.2zM813.1 235zM809.3 233.2zM786.6 222.5zM785.6 222zM774.2 216.6zM804.6 231zM805.3 231.3zM830 243zM785.3 221.9zM801.4 229.5zM805.2 231.3z"/></g>
<g><path d="M933.2 220.9zM935.5 222.8zM946.4 231.8zM925.3 214.5zM946.1 231.6zM952.5 236.8zM940.9 227.2zM944.2 230zM941 227.3zM950.4 235zM949.8 234.5zM956.4 239.9zM937.8 224.7zM938.9 225.6zM943.2 229.2zM946.6 231.9zM952.9 237.1zM940.4 226.8zM932.5 220.4zM947.1 232.3zM941.3 227.6zM926.7 215.6zM951.2 235.7zM935.2 222.6zM914.9 206zM921.7 211.6zM943.3 229.2zM930.3 218.6zM936 223.3zM917.4 208zM946.6 231.9zM950 234.7zM931.9 219.9zM940.9 227.3zM934.5 222zM948 233.1zM945.5 231.1zM945.6 231.1zM923.6 213.1zM948.8 233.7zM947.9 233zM931 219.2zM941.6 227.8zM931.9 219.9zM945.2 230.8zM942.6 228.7zM944.8 230.5zM931.1 219.2zM944.2 230zM931.9 219.9zM946.8 232.1zM943 229zM941.7 228zM933.4 221.1zM939.3 226zM939.5 226.1zM936.1 223.4zM950.8 235.4zM947.3 232.5zM945.1 230.7zM927.8 216.5zM944.6 230.3zM936.9 224zM930.7 218.9zM936.1 223.3zM951.8 236.2zM970.4 251.4zM923 212.6zM965.9 247.8zM936 223.3zM946.8 232.1zM935.5 222.8zM930.8 219z"/><path d="M944 229.8zM920 210.1zM936.6 223.8zM957.1 240.5zM934.7 222.2zM937.5 224.5zM938.9 225.6zM912.1 203.7zM944.1 229.9zM944.7 230.4zM941.9 228zM930.3 218.6zM934.5 222zM939.8 226.4zM935.6 222.9zM952.8 237zM960.8 243.5zM946.8 232.1zM959.3 242.3zM944 229.8zM938.3 225.1zM932.2 220.1zM951.5 236zM957.8 241.1zM941.2 227.5zM940.9 227.2zM941.7 227.9zM931.3 219.4zM939.9 226.4zM962.6 245zM942.3 228.4zM922.4 212.1zM935.4 222.7zM932.8 220.7zM921.2 211.1zM920.7 210.7zM945.9 231.4zM928.8 217.3zM945.4 230.9zM942 228.1zM964.5 246.5zM944.9 230.5zM958.6 241.7zM952.2 236.5zM947.2 232.4zM945.2 230.8zM936.2 223.4zM933.3 221.1zM931.6 219.7zM934.6 222.1zM934.8 222.3zM949.3 234.1zM951.1 235.6zM926.2 215.3zM942.6 228.7zM938.2 225.1zM945.8 231.2zM948.9 233.8zM943.6 229.4zM933.8 221.5zM929.5 217.9zM948.4 233.4zM939.9 226.4zM967.3 248.9zM944 229.8zM934.1 221.7zM969.2 250.4zM955.6 239.3zM940.9 227.2zM974.3 254.6zM953.5 237.6zM924.7 214zM933.8 221.4z"/></g>
<g><path d="M83.8 348.2zM114.9 396zM37.9 399.7zM77.7 361.7zM50.8 394.8zM97.3 362zM104.3 392.1zM129.9 407.6zM37.3 389.2zM78.3 361.9zM93.6 351.6zM83.8 367.3zM116.4 412.7zM43.1 409.7zM44.1 411.6zM80.2 341.7zM101.5 361.3zM96.4 349.7zM41 383.7zM60.8 382.7zM48 402.3zM74.2 362.4zM60.1 377.2zM33.9 354.2zM67.3 374.5zM50.6 413.8zM48.9 409.1zM99.9 354.5zM96.6 376.9zM82.7 357.6zM44 408.5zM54.2 406.9zM72.9 376.3zM119.1 418.6zM97.6 356zM135.9 385zM92.6 347.8zM82.9 352.2zM58.3 379.1zM50.3 405.7zM133.5 386zM111.6 375.7zM52.9 395.8zM60.5 403.6zM112.1 397.1zM105.4 367.9zM58.3 404.5zM33.7 374.3zM106 396.2zM83.2 342zM90.9 360.1zM123.9 409.2zM69.5 358.9zM82.2 339.6zM131.5 392.2zM111.1 391.2zM47.1 396.6zM38.8 399.5zM79.9 343.5zM80.7 367.9zM102.2 374.3zM131.6 376.7zM71.5 381.6zM59.2 386.3zM43.6 414.1zM73 348.7zM100.4 386.8zM81.7 369.1zM40.1 402.5zM68.7 369.3zM115.9 414.6zM95.9 357.7zM135.8 359zM53.5 401.6zM58.4 378.3zM114.1 388.1zM123.7 405.6zM73.4 367.8zM115.2 387.4zM70.2 370.9zM75.6 366zM68.5 389.9zM121.2 412.7zM92.8 344.2zM124 392.6zM65.1 378.1zM117.3 387.7zM45.9 404.8zM136.5 358.7zM99.5 362.9zM119.3 402.8zM63.8 383.4zM36.4 367.3zM107.2 373zM51.4 394.7zM77.8 356.2zM109.3 398.3zM66.2 394.3zM117.8 409zM110.5 379zM42.1 416.7zM35 386.6zM89.9 354.2zM109.1 394.3zM69 384.5zM86.8 366.9zM80.3 373.9zM110.9 394.1zM97.6 349.1zM51.3 403.4zM114.4 402zM47.5 393.3zM37.3 394.2zM101.9 358.3zM48.6 405.6zM94 365.5zM92.6 346.5zM93.4 342zM83.7 355.8zM124.1 423.8zM111.4 375.5zM42.6 409.6zM70.2 387.3zM121.2 419.3zM35.5 359.9zM56 389.3zM112.1 394.7zM94.8 376.9zM61.3 404zM88.9 352.8zM118 418.1zM57.1 382.8zM72.5 374.1zM34.6 364.1zM106.6 389.2zM94.6 366.3zM94.4 362.8zM44.6 415.7zM42.3 384zM127.6 408.9zM124.5 406.6zM137.1 375zM74.8 368.2zM74.4 349.3zM127.1 397.8zM61.7 372.8zM46.2 416.4zM88.3 360.6zM127.6 387.1zM85.8 340.9zM138.2 365zM43 405.9zM99.6 382.6zM68.4 384zM85.8 357.7zM79.8 363.2zM94.8 373zM39 399.9zM135.4 385.8zM112.1 405.6zM99.8 378.9zM73.7 370.7zM72.6 380.8zM108.3 370.2zM79.3 347zM80.6 343.3zM133.2 401zM82.2 340.4zM52.7 402.1zM107.7 397.3zM64.9 388.3zM85.2 364.2zM113 396.5zM111.6 377zM66.3 362.6zM118.1 421.2zM135.3 371.5zM61.7 377.9zM107.5 384.3zM127 416.7zM66.9 367.8zM65.2 367.3zM77.7 357.2zM45.4 409.9zM72.2 350.1zM79.3 349.9zM70.1 356.9zM108.6 370zM46.9 418.3zM78.4 357.4zM61.4 393.4zM121.1 420.6zM113.6 381.8zM111.6 407.8zM89.6 349.4zM73.3 373.5zM53.3 409zM132.4 376zM73.6 367.3zM42.9 411.3zM89.5 366.9zM48 408.4z"/><path d="M103.4 382zM122.5 391.5zM97 348zM92.4 358.1zM112.6 388.3zM56.2 400.5zM52.5 388.7zM126.7 400.3zM49.4 408.2zM135.4 376.4zM101.2 384.7zM109.6 402.9zM33.3 364.4zM74.3 371.3zM46.7 423.1zM100 353.5zM100.8 385.4zM110.2 406.4zM122.4 409.4zM125.1 419.5zM124.3 423.7zM47.9 421zM134.5 383.7zM103.9 389.6zM135.2 363.3zM109.5 382.9zM129.6 385zM42.5 417.7zM138 357.1zM103 376.9zM74.5 356.8zM121.4 416.6zM101.6 376.1zM116.3 410.3zM92.5 347.3zM79.6 345.6zM48.9 406.2zM128.6 418.5zM47.7 405.7zM124.1 403.8zM75.1 373.3zM97.5 350.2zM127.9 409.7zM65 366.7zM49.8 417.6zM41.4 394.9zM62.4 374zM53.3 392.4zM94.5 366.7zM68 373.4zM116.9 397.3zM60.7 377.3zM132.5 387.5zM101.9 387.7zM130.7 400.7zM99.1 375.7zM105.5 364zM107.8 376zM78.5 348.7zM71.3 354.4zM100.9 373.5zM91.3 357.4zM138.3 361.3zM90 346.1zM112.3 408.9zM59.3 407.9zM117.4 417zM79.6 357.2zM59.6 388.6zM117 398.1zM32.4 347.3zM34.9 387.9zM58.5 387.5zM103.9 375.4zM65 368.2zM99.3 364.2zM41.5 412.4zM101.5 361zM43.2 402.3zM138.1 356.6zM124.8 395.7zM89.9 369.2zM81.3 367.5zM120.4 398.8zM64.2 382.4zM111.3 407.3zM109.4 387.2zM40.1 403.2zM118.1 405.3zM55.5 413.3zM131.5 382.1zM138.4 338.9zM74.1 373.4zM63.9 394.1zM137.9 345.5zM83.4 356.6zM56.2 404.1zM131.1 384.9zM115.1 410.6zM54.3 407.2zM72.4 352.6zM118 396.7zM132.4 383.9zM121.8 394.2zM102.8 361.4zM132.3 397.6zM118.1 388zM41.3 382.3zM73.9 362.5zM52.3 397.3zM59.1 402zM51.3 390.2zM65.8 372.8zM62.6 372.6zM45.7 418.4zM97.9 382.2zM62.2 382.6zM66.2 382.3zM53.2 392.3zM127 400.2zM105.5 367.2zM137.7 362.9zM102.2 375.6zM134.4 373.6zM96.7 377.2zM109.6 395.3zM62.7 380.8zM34.8 365zM127.5 398.1zM115.6 411.3zM73.9 379.5zM126.7 391.4zM75 368.6zM75.1 377zM83 359.9zM98.9 379.7zM121.3 393.5zM117.8 392.5zM128.6 400.1zM38.4 375.8zM87.5 362.4zM92.5 363.4zM33 340.9zM137.6 361.4zM69.4 369.8zM42.3 406.4zM109.7 398.8zM64 369.8zM113.9 410.7zM71.2 373.2zM41.4 410.9zM106.5 398.8zM109.3 377.5zM58.2 396.6zM136.7 369.5zM137.4 375.4zM86.3 361.9zM125.5 394.1zM118.5 417.6zM105.1 369.3zM57 381zM87 358.8zM57.3 414.4zM72.1 367.8zM49 398.1zM49 419zM77.6 359.1zM85.7 341.5zM47.3 412.6zM49.8 398.2zM79.8 353zM108.5 399.1zM84.1 346.4zM133 380.2zM38.3 371.9zM75.3 360.7zM136.9 369.1zM59.7 408.1zM85.4 369zM132.4 407.7zM34.9 385.7zM112.3 409.6zM91.8 359.4zM103.4 365.9zM53.2 416zM89.6 342.6zM85.3 359.4zM132.7 380.9zM50 417.2zM36.4 371.6zM88.2 348zM132.9 380.9zM46.1 401.8zM118.5 400.4zM117 400.1zM52.9 410.9zM75.6 366.8zM75.2 378.6zM33.6 364.2zM103.4 365.4zM102.6 388.9z"/><path d="M49 406.9zM37.4 373.3zM108.4 371.3zM111 397.4zM90.8 354zM54.8 396.3zM73.6 364.2zM38.7 399.9zM90.3 365.1zM66.5 387.8zM72.2 366.6zM134.8 384.5zM118 393.2zM74.8 351.8zM114.1 386.7zM60.6 386.3zM112.2 397.3zM52.4 420.7zM102.3 378.6zM39.6 401.9zM137.3 356.4zM104.5 374.6zM100.3 372.5zM52.1 409.7zM78.1 371.9zM96.5 352.5zM98.1 359.3zM114.8 387zM92.3 346.3zM122.7 396.1zM101.1 362.4zM128.8 387.5zM52.6 409.7zM111.8 379.4zM138.6 357.3zM80.4 346.4zM69.5 375.8zM126.4 400zM122.3 411.8zM125.9 389.8zM124.2 417.8zM51.6 414.5zM34.5 369.1zM52.6 391.2zM86.7 365.5zM118.8 394.2zM134.9 381.5zM136.7 356.6zM48.8 417zM129.5 405.1zM61.8 383.7zM70.7 371.7zM95 374.6zM70.2 364.9zM59.4 391.1zM97.5 362.6zM119.6 397.1zM91.1 343.9zM82.9 351.9zM72.6 357.8zM105.4 374.3zM38.6 401.5zM114 409.5zM63 391.5zM133.8 401zM86 350.8zM89.5 342.8zM94.6 371.8zM79.2 340.5zM44.4 415.5zM92.1 370.6zM44.9 405.1zM32.9 358.4zM42.3 399.2zM122 424.1zM57.9 408.8zM35.3 381.9zM34.1 350.7zM84.9 361.4zM117.2 414.6zM115.7 415.8zM90.6 351.2zM69.5 383.5zM85.4 371.1zM51.5 413.8zM98.6 371.9zM94.8 348.4zM90.8 340.3zM101.8 367zM55.5 400.4zM46.3 398.8zM133.9 380.6zM95.7 370.3zM132.8 400.6zM120.4 420.5zM83.5 340.9zM93.4 360.3zM55 402zM132.1 376.8zM102 374.3zM69.6 381.8zM99.8 378.9zM77.5 373.6zM79.2 368.8zM136.5 358.2zM52.2 419.9zM86.4 358.2zM102.7 361.2zM106 380.4zM33.5 350.4zM34.2 377.4zM46.8 414.8zM47 394.9zM67.4 366.9zM52.4 388.3zM74.9 361.9zM78.8 353.7zM45.9 407.1zM86.1 344.5zM69.1 387.5zM40.6 410.9zM69.4 362.9zM38.4 397.4zM59.9 400.4zM111.1 381.7zM64.9 371.2zM75.9 376.8zM121.6 409.6zM120.9 410.3zM126.2 397.7zM71.2 357.9zM53.6 408.1zM136.2 356.6zM54.7 416.5zM33.7 354.6zM39.7 389.9zM39.5 393.6zM102.7 377.9zM118.3 411.8zM56.5 388.1zM46.5 400.9zM65.1 386.4zM102.9 373.6zM39.2 381.9zM45.9 410.7zM93.5 342.6zM34.9 376.8zM114.2 409.4zM100 360.2zM106 375.4zM97.4 355zM78 357.8zM108.6 384zM37.9 374zM53.3 420.2zM67.8 380.5zM109 372.4zM52.5 393zM127.5 418.3zM116.1 390.3zM84.9 353zM64.9 373.6zM61.7 385.5zM95.9 354.6zM83.9 368.6zM99.2 357.3zM91.3 355.2zM77 376.1zM50.3 394.2zM131 386zM101.5 388.9zM39.1 384.6zM71.5 383.8zM106.6 372.1zM128.2 418.7zM114.5 391.1zM59.9 375.1zM109.1 383.8zM79.5 356.2zM121.7 407.5zM100.7 371.2zM104.2 383.4zM88.3 362.5zM35.3 372.4zM134.4 386.2zM101.7 364zM120.4 423zM102.5 371.6zM72.1 371.5zM83.4 339.7zM65.9 379.6zM75.4 352.9zM39 398.9zM105.3 374.7zM75.9 374.6zM43.8 418zM58.5 399.3zM65.7 364.2zM89.1 351.8zM42.5 395.4zM42 416.5z"/><path d="M35.5 372.7zM123.3 398.3zM119.1 390.9zM129.3 389.4zM41.3 391.1zM37 394zM133.3 375zM46.1 417.7zM53.6 412zM63.9 397zM131.1 394.9zM107.2 368zM95.9 364.5zM136.9 362.7zM92.2 366.5zM104.7 372.7zM103.8 369.4zM98.4 361.6zM138.6 351.4zM135.6 386.8zM34.1 367.9zM33.5 363.1zM124.1 404.8zM117.6 403.1zM69.9 388.2zM44.5 422zM57.8 404.1zM102.3 368.8zM125.8 414.7zM40.4 394.3zM99.8 384zM131.6 405.7zM117.1 399.6zM38.3 372.6zM103.6 389.2zM45.9 407.4zM103.3 386.6zM34.7 355.1zM92.2 358.2zM117.4 394.6zM70.9 376.5zM118.8 418.2zM70.4 384.9zM66.9 389.7zM33.3 352zM112.9 386.8zM67.1 365.8zM34.5 358.1zM62.9 389.1zM125.1 395.1zM117.5 406.7zM131 379zM81.5 359.7zM62.3 386.6zM88.5 341.8zM108.5 375.7zM75.3 376.4zM87.9 348.7zM126.4 394.4zM106.9 386zM131.8 379.2zM125 422.4zM78.3 360.4zM63.9 399.6zM81.7 354zM33.2 351.3zM42.2 404.8zM114.8 409.6zM47.6 395zM67.8 391.7zM86.8 348.2zM86.8 369.1zM56.2 415.6zM35.4 369.8zM111.2 403.9zM66.7 369.4zM136.7 382.5zM119.3 416.8zM112.2 410.8zM116.3 389.3zM114.2 383.8zM91.5 367.9zM48.8 389.8zM70 384.5zM125.7 407.6zM110.3 376.8zM64.5 397.8zM129.6 401.4zM49.5 418.2zM70.5 363.2zM53.9 414.2zM103.1 387.2zM77.1 365.8zM114.2 410.3zM104.9 392.8zM84.6 370.5zM110.2 404.6zM120.5 414zM82.8 370.3zM50.9 413.9zM43.9 402.7zM80.2 348.6zM95.1 350.8zM99.3 364.7zM61.2 383.3zM137.5 378.4zM91.9 368.3zM113.1 396zM125.5 417.6zM103.9 374.2zM47.8 402.9zM100.7 371.1zM37.7 387.2zM48.1 408.6zM63.5 391.4zM128.2 414.4zM45.4 401.9zM110.3 379.7zM134 377.8zM129.8 394.9zM128.1 416.1zM113.1 395.7zM114.8 389.9zM120 391.9zM117.2 411zM91.2 367.6zM137.6 352.8zM79.1 369.5zM118.2 401.3zM113.3 383.8zM122.3 390.4zM91.2 358.9zM126.5 388.2zM136.3 370.8zM74.4 351.6zM126.7 408.9zM135.4 383.2zM64.8 378.5zM44.6 415.9zM46.7 394.7zM65.1 382.6zM40.1 401.8zM136.9 349.5zM135 394.5zM79.8 368.7zM39.4 392.7zM48.3 398.8zM94.4 362zM118.5 406.4zM129.7 390.3zM74 349.2zM51.9 387.7zM85.8 371.1zM110.9 386.9zM111.6 391.5zM44.1 419.2zM137.9 346.8zM126.7 411.4zM127.2 389.7zM80.2 345.2zM66.6 382.9zM44.8 418.3zM93.3 357.1zM130.1 406.9zM34.1 359.6zM35.8 382.2zM84.9 355.1zM112.3 404.1zM84.4 360.1zM93.8 375.5zM121.4 389.9zM69.5 388.2zM98.7 379.1zM88.4 352zM135.2 371.4zM99.2 376.7zM95.1 357zM128.6 415.4zM54.2 393.3zM46.6 411.2zM120.1 412.1zM114.2 414.2zM116.5 392.5zM87.7 372.5zM105.2 374.6zM44 415.3zM77.3 376.4zM105.2 394zM87.6 338.2zM71.7 357.6zM123.8 412.7zM124.7 422.1zM132.1 374.3zM75.6 345.1zM60.2 400.8zM128.4 419.1zM61.8 399.6zM66.9 385.2zM64 389.7zM102.6 358.9zM130 407.5z"/></g>
<g><path d="M233.1 395zM265.3 372.3zM205.9 381.1zM236.5 355.2zM264.8 393.7zM218.9 388.4zM207.1 398.8zM203.1 415.8zM252.9 400.1zM249.1 388.4zM265.1 375.6zM205.1 410.4zM267 372.2zM247.6 401.9zM205.4 412.1zM250.7 386zM183.3 376.9zM226 363.4zM235.7 366.2zM242 342.4zM201.9 362.6zM205.6 354zM214 379.3zM182.8 373zM242 352.5zM257.7 375.6zM235.4 357.3zM253.8 377.8zM211.2 383.8zM198.7 385.3zM213.8 416.7zM216.3 395.1zM257.3 368.3zM228 352.1zM246.7 354.2zM211.6 403.6zM237.8 360.1zM251.6 344.4zM220.3 391zM252.5 396.4zM216.8 393.2zM240.1 356.7zM251.1 372.9zM268.7 395.9zM221.8 379.4zM250.7 396.5zM203.2 364.9zM260.2 369.2zM197.1 391.3zM206 381.1zM231.8 361.1zM245.1 405.4zM184.8 372.7zM246.3 399.7zM248.5 353.8zM238.1 399.5zM253.9 384.5zM240.4 408.2zM239.4 349.4zM207.3 365.6zM237.3 371.1zM229 366.4zM240.9 375zM234.5 414.8zM200.6 356zM219.3 391.7zM190.2 376.2zM220.7 383.4zM249.7 368.7zM208.4 376.2zM222.3 413.2zM231.9 359.8zM226 401.4zM208.4 423.4zM234.6 380.1zM255 385.6zM238.4 410.9zM191.8 384.7zM214.1 370.3zM203.6 355.2zM213.5 392.1zM241.6 360.2zM216.4 420.2zM236.5 396.6zM199.1 393.6zM235.4 398.6zM211.7 379zM253.9 389.7zM201.6 398.5zM243.9 400.9zM267.1 380.5zM232.8 347zM247.1 379.3zM233.6 347.7zM202.5 397.6zM215.7 402.4zM230.5 377.9zM230.4 363.9zM205 394.5zM205 389.4zM199.4 377.7zM187.1 372.9zM221.6 411.7zM224.8 354.2zM237.8 365.3zM223.5 363.4zM267.3 373.3zM215.6 395.5zM245.9 347.7zM265.3 368zM226.8 362.7zM215.5 397zM194.5 375.7zM191.5 377.2zM263.4 403.6zM223.5 392.5zM230.8 396zM203 369.5zM262.8 396.6zM256.5 387.1zM235.1 398.7zM231.1 408.9zM222.4 377zM263.7 378.7zM264.3 389.2zM241.4 378.8zM228.9 355.9zM247.2 345.9zM199.7 361.6zM223.2 390.3zM248.5 351.8zM235.1 378.6zM238.9 395zM240.4 376.4zM251.2 370.8zM216.8 376.3zM220.3 415zM206.2 362.2zM236.5 373.7zM242.1 394zM245.8 344.7zM226.3 379.8zM200.6 403.8zM231.2 347.1zM255.2 406.9zM220.6 371.8zM188.2 373.7zM213.5 413zM204.3 358.5zM241.4 346.1zM206.9 400.6zM203.6 359.1zM204.7 394zM222.1 380.7zM234.6 396.1zM216.6 356.5zM196.9 396.1zM225.6 364.5zM251.5 374.8zM261.4 394.2zM214.6 354.7zM256.1 363.2zM239.4 350.4zM221.7 413.9zM232.8 408.2zM193.3 381.5zM211.7 364.7zM214.7 366.8zM242.8 362.5zM217.3 394.5zM251.4 396.4zM203.4 370.4zM227.9 365.2zM205.6 357.9zM195.2 362zM186.8 371.2zM215.3 353.7zM266.7 379.3zM256.4 401.8zM205.6 362.3zM216.4 411zM270.6 399.6zM195.1 364.3zM214.8 377.6zM180 367.4zM237.7 349.3zM205.8 380.7zM218.5 374.8zM253 358.8zM243.2 356.3zM254.2 377zM234.5 393.3zM211.8 377.9zM202.9 416.7zM207.6 396.6zM208 353zM221.9 362.2zM254.4 400.9zM201.8 376.4zM237.3 348.2z"/><path d="M268.1 373.7zM249.7 345.4zM244.1 341.5zM206.4 382.2zM207.1 391.6zM221.9 401.6zM200.4 397.9zM192.8 377.8zM218.2 418.5zM251.3 342.4zM209.2 356.1zM266 381.3zM196.4 400.6zM234.6 403zM263.4 371zM232 394.7zM254.5 402.4zM243.1 388.5zM216.3 413.9zM241.5 387zM230.1 396.2zM225.4 365.5zM247.5 352.1zM189.7 388.5zM224.7 375.6zM209.5 367.6zM200.7 392.6zM263.5 366.3zM231.1 363.6zM228.2 366.1zM240.7 387zM236.4 385.6zM209.3 376.7zM261.5 379zM216.7 411.2zM242.7 380.7zM205 417.8zM255.2 374.4zM210.2 409.1zM242.4 372.1zM268.3 389.9zM224.7 395.1zM255.5 366.6zM256.3 393.5zM255.4 365.9zM253.3 344.7zM233.7 365.4zM189.9 387.7zM232.8 398.3zM228.1 356.1zM205.8 398.1zM236.8 374.5zM213.7 407.7zM233.2 394.5zM201.1 358zM209.2 405.5zM240.1 381.8zM198.3 370.8zM198.6 407.5zM202.2 364.4zM190.4 374zM225 413.9zM236 364.9zM255.3 407.3zM193.8 377.2zM264.1 381.2zM215.2 402.9zM256.9 366.8zM216.3 398zM197.5 372.8zM222.4 353.8zM219.2 410.9zM249.2 380zM180.8 371.8zM234.5 414.7zM244.5 369.1zM256.4 377.7zM228.1 408.2zM258 400.5zM214 378zM235.7 344zM212.3 374.7zM223.5 364.7zM251.3 361.9zM212 408.9zM231.3 396.1zM265.3 396zM225.9 361.6zM236.7 356.8zM232.7 409.1zM240.4 345.9zM242.4 374.2zM278.1 395.1zM198.3 395.8zM255.7 349.7zM207.4 387.1zM204 397.6zM196.8 390.7zM198.2 400.3zM221.3 417.9zM233.2 403.1zM250.7 356.9zM265 401.6zM256.4 363.9zM195 369.1zM189.8 389.1zM242.6 383.9zM236.7 390.8zM260.3 400.3zM211.6 364.3zM251.9 358zM259.8 405.3zM213.9 417.4zM215.8 357.2zM243.8 391.7zM273.3 383.7zM189 366.3zM245 392.2zM233.7 358.7zM216.5 352.5zM221.2 348.7zM219.7 354.4zM232.1 344zM230.9 359.6zM224.7 364.8zM234.5 411.8zM238.5 370.8zM247.6 371.7zM208.3 417.3zM195.2 386.6zM203.2 408.4zM233.3 363.4zM245.5 394.5zM245.2 409.4zM220.9 351.3zM239.5 400.4zM194.9 374.7zM188.6 362.3zM195.7 369.9zM271.2 396.8zM253.6 407.4zM252.3 398.8zM225.5 350.5zM201 403.9zM214.9 374.1zM271.5 391.5zM225.3 395.5zM228.3 416.2zM232.4 349.2zM233.9 388.6zM203.8 363.8zM252.4 385.3zM226.6 405.2zM204.1 394.1zM209.7 373.1zM192.7 377.4zM258 371.9zM199.3 381.8zM255.3 387.2zM219.9 356.8zM248 377zM261 376.4zM198.6 373.4zM245 361.2zM208.8 422.7zM231.9 350.4zM221.2 382.6zM235.5 354.4zM241.5 412.1zM192.9 392.2zM274.8 387.8zM233.2 383.1zM271 381.3zM204.2 363.7zM200.8 405.3zM212.6 420.8zM209.5 422.3zM194.3 369.7zM257.8 403.5zM221.6 363.6zM254.9 366.1zM231.7 376zM226.4 377.6zM193.7 395.1zM196.2 376.2zM262.7 398.4zM245.5 352.9zM200.5 406.3zM241.8 397.1zM211.7 358.1zM220.9 409.2zM249.9 390.9zM260.8 372.7zM183.9 376.6zM245.6 340.2zM206.8 373.7zM204.9 353.5zM215.2 372zM210 410.2zM202.5 390z"/><path d="M209.8 363.5zM248.1 371.9zM245 401zM208.3 358.7zM196.1 376.2zM248.2 376.5zM263.9 387.7zM196.8 373.2zM220.3 397.3zM249 363.2zM237.7 368.9zM218.9 380.3zM208.9 376zM243.9 356.7zM185.4 379zM231.6 368.5zM266.4 369.7zM257.4 373.5zM255.9 362.7zM220.1 381.5zM203.1 379.2zM236.4 396.4zM217.5 367.8zM196.9 382.3zM208.1 410.4zM222 364.6zM263.9 397.9zM177.4 363.8zM242.8 384.7zM211.8 379zM252.4 385.6zM229.9 361zM210.5 387.9zM247.5 352.6zM237.8 381.4zM233.9 389.6zM229.1 347.4zM260.4 380.7zM261.2 385.5zM236.8 411.4zM233.8 348zM210.1 399.9zM232.3 347.9zM202.2 402.9zM217.6 401.1zM257.8 388.5zM247.5 362.1zM214.8 391.5zM217.1 391zM203.8 397.2zM220.3 419zM234.5 347.9zM267.6 374.6zM202.6 368.9zM206.6 405zM212 358.2zM215.6 389.4zM249.1 341.7zM218.8 413.3zM258.7 388.4zM234.2 352zM193.2 380.9zM222.5 364.9zM243.9 364.7zM227.1 365.2zM232.3 358.7zM222.1 354.9zM238.6 359zM210.2 390.5zM264.5 400.5zM214.2 373.3zM235.2 358.9zM263.1 372.4zM196.1 382zM230.7 365.8zM243.4 347.6zM208.3 409.8zM184.7 380.2zM227.8 362.8zM201.8 361.7zM248.9 396zM219.9 395.8zM212.8 352.5zM233.7 408.2zM212.2 361.8zM256.1 356.3zM265.8 379.5zM267.2 377.3zM204.2 412.5zM277.7 396.9zM215.8 361.6zM250.7 405.7zM259.4 361.5zM246.7 383.6zM262 362.2zM195 374.8zM234.2 344.7zM217.5 413.4zM257.2 364.9zM186.4 361.3zM260.4 388.5zM256.6 395.1zM222.3 349.5zM229.9 375.3zM229.2 386.8zM250.7 372.9zM218 390.5zM200.3 361.4zM197.8 384.4zM240 363.4zM258.5 361.1zM259.9 368.8zM249.7 408zM275.1 397.7zM203.5 362.3zM220.8 389zM218.1 372.4zM192.1 377.5zM205 410.4zM203.1 415.3zM230.8 399.5zM275.4 393.1zM246.2 352.2zM207.9 366.4zM243.6 400.1zM198.3 392.3zM215.1 365zM250 378.5zM249.2 375.4zM194.2 388.5zM254.1 407.4zM254.6 351.3zM215.9 364.3zM230.9 392.7zM201.6 385.1zM225.9 365.7zM232.9 350.6zM225.7 403.2zM245.4 392.2zM241 369.6zM194.5 384.3zM236.8 353.8zM195.8 380.1zM260.7 361.9zM237.3 389.3zM232.3 350.9zM224.1 405.6zM213 367.5zM208.4 371.8zM224.7 405.2zM227 394.3zM230.2 352zM255.2 347.2zM213.3 359.7zM226.9 373.6zM245.2 368.7zM263.9 398.1zM206.6 392zM234.2 353.9zM197.4 360.3zM200.1 363.3zM250.4 357.6zM211.2 384.7zM226.6 414.4zM260.1 404.3zM198.8 406.6zM262.3 388.2zM225 395.4zM204.7 356.1zM201.3 361.2zM248.2 377.8zM199.2 375zM213 375.6zM238.5 347.3zM248.2 405zM212.7 390.3zM227.9 406.2zM207.4 416.1zM242.8 386.8zM234.7 394.4zM235.9 351zM215 408.4zM247.6 341.3zM233 399.6zM234 400.8zM199.5 385.3zM196.8 394zM246.9 385.4zM228.1 396.6zM257 356.6zM214.6 387.5zM252.4 402.8zM207 391.6zM254.8 376.2zM228.1 375.7zM263.8 374.3zM199.8 387.8zM261.1 392.8zM191.1 362.8zM239.3 386.9z"/><path d="M233 408.7zM255.9 356.7zM224.4 366.5zM238.4 404.1zM213.3 409.4zM217 401.3zM206.9 391zM224.1 371.4zM215.3 361.3zM248.2 366.1zM210.2 415.7zM209.8 396.9zM197.3 385.1zM230.3 394.1zM184.7 371.4zM187.5 371zM208.4 415.8zM232.5 363zM269.6 379.2zM241.1 361zM233.6 411.1zM254.7 351zM196.1 382zM229.3 345.3zM228.5 383.9zM201.3 395.3zM239.2 364.8zM249.8 360.1zM205.5 360.5zM181.4 371.4zM243.2 378.5zM216.8 390.2zM189.1 377.5zM234.5 349.2zM206 361zM242.3 380.6zM269.4 398zM258.4 398.3zM233 377.2zM248.5 345zM205.5 420.5zM247.9 397.6zM253.7 373.9zM232.2 360.2zM254.5 407.3zM237.4 398zM219.9 418.7zM189 387zM255.3 373.9zM218.4 404.3zM240.2 343.3zM238.5 391.6zM254.2 402.3zM242.1 349.2zM232 371zM223 358.6zM229.2 391.7zM262.2 371.1zM263 400.8zM252.2 394.4zM223.1 395zM259.2 387.8zM208.1 393.1zM205.4 408.4zM202.7 394.6zM247.2 341.8zM254.9 349.2zM236.7 395.3zM246.7 393.3zM216.2 359.6zM239 354zM256.7 361.5zM256.8 350.2zM256 373zM222.1 350.7zM207.7 356.2zM248.2 343.2zM223.1 360.8zM205.3 385.8zM253.3 347.9zM255 376.8zM224.3 382.2zM212.9 369.4zM220.1 376.3zM275.3 398.3zM266.8 370.6zM202.3 405.4zM214.8 414.9zM255.3 352.5zM221.9 407zM219.2 404.7zM181.4 370.9zM231.9 355.4zM206.6 358.9zM253.5 403.9zM224.3 373.1zM244.2 403zM241.5 355.5zM261.4 387.1zM221.3 393.1zM257.3 380.7zM250.5 401zM262.9 372.4zM191 374.9zM209 404.1zM243.1 373.9zM215.8 409zM243.9 358.1zM222.3 363.3zM183.9 375.2zM233.8 389.6zM234.1 353.8zM254.9 349.9zM238.5 411.3zM266.7 391.3zM220.1 356.2zM243 380.6zM236.4 364.2zM207.7 397.7zM220.9 366.3zM214.5 354.9zM244.3 352.1zM236.2 374zM272.9 387.6zM189.7 389.6zM211.9 371.4zM189.3 385.6zM248 371.3zM217.8 394.5zM243 398.6zM237.6 357.6zM269.7 390.8zM259.3 374.5zM223.4 369.1zM276.2 397.2zM222.5 365.7zM244.9 369.8zM232.1 360.9zM215.3 394zM219.3 413.3zM241.9 342zM260.5 368.1zM202.8 365.9zM213.6 418.7zM219.9 375.2zM244.5 346.9zM222 411.1zM244.1 400.1zM267.2 400.6zM224.4 418.2zM260.8 391.5zM251.8 357.3zM225.8 393.9zM202.6 398zM252.1 395.5zM260.6 390zM237.9 353.9zM216.9 400.5zM214.3 415.2zM229.4 355.5zM220.2 368.9zM261.1 372.8zM205.8 353.6zM233.1 378.6zM232.8 405.3zM272.2 384.1zM259.4 383.7zM244.6 350.2zM258.7 359.1zM244.8 389.8zM263.4 400.9zM247.7 398.5zM217.9 389.3zM247.7 372.2zM251.3 397.4zM191.1 382.5zM204.4 389.6zM244 385zM251 340.7zM200.1 377.3zM231 409.4zM257.7 388.2zM223.9 384.7zM254.4 365.3zM193.6 370.7zM182.3 367zM184.5 361zM234 368.6zM257.6 380.4zM259 361.3zM255.2 365.1zM194.5 392.3zM223.3 412.6zM218.7 365.1zM221.6 406.9zM216 356zM242.8 356.4zM214.6 362.3zM257.4 388.5zM221.6 356.1z"/></g>
<g><path d="M361.9 393.5zM342.8 373.4zM387.6 402.7zM347.9 371.5zM352 357.8zM373.6 403.8zM358.5 356.4zM397.9 400.4zM343.1 368.5zM351.7 400.2zM365 381.5zM393.8 378zM380 354.6zM373.6 362.6zM381.7 362.5zM333.7 393zM357.8 408.5zM368.5 417zM341.2 380.9zM350.2 379zM396.9 362.4zM391.6 370.9zM340.1 364.6zM366.7 394.8zM386.6 370.2zM379.6 344.4zM370.3 360.5zM392.2 381.3zM369.9 401zM349.8 371.6zM357.8 388.3zM379.7 386.8zM368.7 376.6zM384.6 390.8zM383.2 395.6zM350.5 399.3zM380.1 346.2zM325.2 376.6zM353 371.2zM391.8 369.2zM365.6 365.8zM349.1 369.3zM370.7 415.9zM370.5 393.4zM374.2 415.7zM402.8 366.6zM360.4 351.6zM367.1 396.5zM380.5 346.8zM374 410.1zM360.3 350.7zM336.7 386.6zM328.9 387.4zM337.1 382.2zM380.4 415.6zM375.6 373zM380.6 366.7zM352.4 360.8zM391 408zM383.1 382.9zM378.3 345.6zM407.4 384.4zM352.5 382.3zM395 358.3zM360.8 402.3zM344.2 391.1zM389.5 360.6zM362 353.8zM370.3 408zM350.7 363.4zM381.4 396.1zM360.7 375.4zM365.4 349.3zM401.1 363.1zM376.6 389.9zM331.6 384.7zM386.3 379.9zM370.5 359.2zM388.9 358.9zM418.8 382.2zM379.8 393.1zM380.8 415.8zM353.5 372.8zM342.6 383.1zM370.9 365zM402.5 391.7zM386.1 398zM409.4 387.9zM351 403zM350 401.2zM379.8 366.2zM364.3 414.9zM385.1 351.8zM351.9 379.6zM395.3 387.8zM370.9 364.3zM355.3 400zM378.1 399.1zM325.9 382.4zM331.1 390.6zM403.3 377.3zM345.6 361.2zM395.3 364.6zM365.1 345.4zM367.9 410.3zM384.7 396.3zM374.6 356.9zM381.9 348.9zM402.5 368.9zM379.4 369.4zM342.9 375.5zM326.7 386.9zM397.2 359.2zM392.5 392.9zM352 402.3zM354.5 376zM357.3 412.2zM374.5 385.7zM360.8 365.1zM369.1 366.1zM340.1 386.3zM377.5 411.2zM368.2 411.2zM396.1 397zM347.1 366.3zM353.1 382.8zM364.2 393.9zM359 373zM368.3 383.2zM359.6 369.7zM362.8 352.1zM335.8 386zM371.7 408.2zM399.4 378.7zM399.3 379zM361.3 351zM378.7 409.2zM391.6 404.5zM379.8 411zM338.8 388.5zM398.7 365zM365 418.9zM356.6 350.3zM359.3 368.9zM392.2 386.2zM370.7 409.6zM362.1 379.4zM342 399.5zM357.6 396.2zM358.2 389.2zM361.6 351.3zM401.9 378.1zM396 377.2zM339 366.2zM400.5 390.2zM341.2 391.1zM365 360.8zM397.8 386.5zM398.5 395.8zM383.4 376.6zM409.3 383.1zM359 351.3zM350 371.9zM367.7 395.7zM393.9 367.9zM363.4 394.8zM371.8 350zM414.7 382.1zM341 368.8zM377.1 407.3zM355 394.9zM408.4 391.7zM370.6 352.8zM360.3 355.7zM386.8 367.6zM404.9 395.9zM391.7 387.6zM384.9 394zM364 367.6zM382.2 346.5zM398.9 374.4zM372.8 403.8zM371.9 375.8zM341.4 382.9zM337.6 380.5zM408.9 385.1zM352.9 357zM366 391.1zM365.1 414.2zM331.4 379.9zM372.7 408.5zM378.6 402.7zM393.1 360.7zM382.5 390.6zM353.4 370.3zM373 355.8zM418.3 381.8zM384.7 379.4zM369.7 348.1zM408.1 385.9z"/><path d="M381.8 402.6zM353.1 388.4zM364 391.8zM368.8 421.3zM341.8 363zM358.5 348.4zM335.9 372.3zM354.7 403.5zM354.6 395.3zM376.8 342.8zM359.5 409.4zM340.2 372.2zM379.4 359.4zM372.8 394.5zM387.2 357.8zM384.3 351.9zM383.9 413.9zM363.4 367.9zM353.6 391.7zM374 351.2zM352.2 387.6zM366 343.8zM343 389.7zM415.4 384.6zM369.1 358.4zM352.1 382.7zM386.3 392.9zM375.8 392.8zM373.6 359.4zM376.7 405.1zM380 410.2zM387.3 359.7zM340 385.4zM348.5 393zM387.2 403.7zM379.7 386.8zM344.2 365.3zM348.1 362.7zM343.8 384.3zM364.7 406.3zM357.3 401.9zM397.6 387.5zM360.1 378.6zM379.2 385.9zM377.5 362.6zM344.3 371.4zM382.8 374.5zM367.3 347.4zM404.7 396.1zM383.7 367.5zM382.6 410zM387.1 383.2zM382.6 358.1zM339.3 364.3zM353.5 362.3zM361.7 366.6zM340.8 372.9zM413.6 383.6zM351.6 366.2zM367.9 357.9zM401.9 370.9zM368.4 341.2zM362.3 400zM362.2 350.9zM341.8 399.1zM357.5 396.7zM374.9 417.4zM386.3 371.9zM358.4 367.6zM348.4 361.5zM351.4 369zM367.6 360.2zM354.7 361.7zM371.4 355.4zM368.6 369.4zM404.2 390.6zM412.9 386.4zM380.1 382.6zM375.3 351.2zM396.9 378.5zM340.7 369.5zM386.9 357.4zM397 387.8zM405.5 377.6zM384.2 410zM341.7 386.2zM392.9 366.2zM356.6 359.2zM352.5 407zM357.4 352.1zM366.2 360.4zM394.1 393.3zM347.5 374.5zM410.1 371zM342 372.3zM365.5 407.5zM372.1 392.3zM360.9 359.4zM376.7 351.9zM374.3 413.9zM374.2 394.1zM373 421.7zM345.2 386.5zM397 363.7zM368.2 392.7zM357.1 411.4zM398.7 369.7zM374.7 400.5zM366.1 365.4zM369.2 349.9zM362.6 368.6zM364.5 356.2zM345.8 400.8zM393.9 383.2zM368.7 391.9zM361.6 411.7zM401.3 375.3zM366.7 367.3zM337.3 381.2zM373.1 340zM372.6 422.9zM355.8 383.2zM380.4 365.6zM364.5 417.5zM383.8 367zM388.3 369zM373.8 352.1zM380.3 391.6zM378.8 415.9zM402.1 390.4zM370.4 342.1zM362.9 365.6zM376.2 378.4zM373.5 360.3zM366.6 397zM384.5 387.2zM384 367.9zM366.5 392.2zM340.1 387.7zM348.5 398.4zM388.9 355.3zM374.3 410.2zM358.4 410.7zM329.9 385.5zM363.4 374zM402.8 391.7zM349 398.8zM402.6 393.3zM405.1 382.7zM362.9 383.2zM331.5 390.1zM389.8 405.5zM390.5 361.8zM401.2 392.6zM367.1 364.4zM371.7 377.7zM338.1 388.4zM388.9 379.4zM395.9 403.8zM372.6 422.2zM400.3 365.7zM327 376.4zM324.1 383.4zM372 341.5zM420.2 380.3zM371.5 397.3zM355.9 378.6zM386.3 389.9zM365.5 362.2zM352.2 368.1zM385.6 404zM371.9 347.5zM365.8 385.3zM378.6 400.7zM389.2 394.4zM374.6 416.3zM384.2 364.3zM374.1 368zM356 403.6zM361.8 372.3zM412.1 382.1zM384.7 394.2zM382.7 354.9zM405 389.1zM342.8 374.5zM365.9 392.8zM395.7 364.5zM401.1 397.8zM335.6 376.4zM410.9 390.1zM341 383.5zM375.1 412.6zM388.7 405.2zM343.5 370.4zM391.9 355.2zM320.3 381zM361.1 368.2zM377.2 367.6zM380.7 370.7zM334.7 374.4z"/><path d="M380.8 348.1zM365.6 363.1zM386.4 365.6zM338.8 372.4zM344.1 391.2zM390.6 385.6zM386.4 411zM395.3 390.4zM374.1 344.4zM367.2 419.2zM388.2 360.9zM360.2 359.8zM383.6 376.4zM359.2 397.2zM356.8 379zM396.8 381zM400.5 383.5zM399.1 362.9zM373.3 355.6zM381.4 391.5zM354.3 401.1zM375 394.3zM361.4 404zM405.7 367.5zM364 412.9zM387.5 360.6zM364.2 362zM363.1 407.8zM386.1 381.8zM387.8 360.3zM395.9 372.4zM367 358.8zM412.6 377.5zM408.6 392.6zM380.4 371.2zM366.4 390.1zM340.3 366.6zM327.1 386.4zM341.6 391.5zM346.8 390.1zM356.2 384.1zM400.4 362.3zM388.7 372.6zM389.8 397.8zM410.7 377.4zM386.5 374.2zM349.9 363.2zM368.1 395.6zM345.3 397.3zM390.6 355.3zM408.4 378.7zM345.6 386zM344.9 391.2zM397.2 367.7zM361.5 378.5zM419.8 378.6zM326.9 386zM350.2 392.3zM410.5 387.2zM336.8 367.7zM419.1 381zM331.6 376.2zM373.5 364zM381.2 391.1zM340.1 385.4zM412.1 373.7zM382.5 394.5zM404.5 376.4zM359.3 380.4zM375.5 369.3zM348.2 362.6zM384.4 382.6zM356.1 384.1zM364.7 418zM370.3 347.2zM347.8 393.3zM370.4 345zM389.7 390.8zM341.7 394.7zM374 414.2zM341.3 397.9zM340.2 364.2zM407.9 381.3zM361.1 353.8zM394.7 391.7zM358.3 382zM364.8 350.4zM366.3 347.5zM399.7 378.9zM400.5 377.9zM393.3 361.7zM387.7 353.5zM360.3 400.3zM379.1 412.4zM385.1 382.4zM356.4 402.6zM361.7 367.7zM357.4 408.5zM385.2 379.9zM359.5 367.4zM366.8 375.1zM416.6 377.7zM407.8 369zM372.6 383.5zM342.9 370.1zM356.1 377.1zM358.2 409.7zM397.9 388.4zM338.6 381zM402.1 376.6zM349.4 375zM393.6 377.7zM397.9 378.1zM393.8 370.1zM379.3 393.4zM381.5 375.3zM391.6 370.1zM357.6 402.2zM373.6 376.4zM380.3 393zM343.8 371.6zM397.2 363.6zM364.8 353.2zM377.1 411.4zM394.8 366.5zM341.9 367.9zM384.2 367.5zM387.1 367.5zM388 377.9zM333.7 391.7zM409 385.3zM343.8 393.6zM336.6 388zM372.4 351.8zM378.6 391.6zM393.3 400.7zM355.7 355.8zM369.5 403.5zM358.1 365.3zM376.9 359.3zM381 354zM403.5 370.4zM345.3 379.2zM381.2 359.9zM372.5 364.8zM376.9 405zM393 403.9zM332.5 386zM361.6 354.2zM387.1 403.3zM385.5 400.5zM358.4 407.3zM379.5 378.6zM365.8 382.5zM405.3 395.4zM353 375.5zM351.6 368zM374.6 369.9zM381.6 378.3zM382.8 404.3zM352.2 387.5zM399.6 361zM339.3 388.3zM381.1 414.6zM371.1 366.3zM370.8 401.2zM380.6 357zM359.4 402.1zM363.9 363.5zM384.8 391.8zM400.4 368.8zM333.8 386.4zM360.1 368.5zM375 419.5zM405.6 395.6zM353.1 396.2zM356 392.2zM374 355.7zM349.2 367.2zM343.2 373.2zM354.4 359.6zM367 350.9zM339.5 374zM348.8 360.1zM369.8 417.8zM387.5 394zM330.5 386.6zM354.6 360.5zM356.7 403zM411.4 388zM347.5 366.3zM393.1 393.4zM361.1 359zM350.3 364.3zM370 371.4zM365.1 361.9zM396 372zM389.1 383.8zM385 392zM404.2 396.2z"/><path d="M380.7 347.7zM370.7 368.8zM386.8 402.9zM398.9 360.3zM390.3 385.7zM367.4 351.7zM410.8 370.3zM377.8 394.4zM362 368.6zM358.6 370.6zM364 412.8zM344.5 367.8zM359.9 394.3zM357.7 382.6zM399.4 389.3zM365.8 377.4zM349.7 381zM342.9 365.8zM355.8 380.8zM388.6 388.2zM386.8 372.5zM367.1 356.6zM344 378.2zM375.4 352.8zM347.8 403zM346.5 393.5zM363.2 358.1zM370.5 396.1zM339.5 388.6zM365.5 351.2zM364.4 356.1zM383 376.7zM357.3 395.7zM352.6 398.9zM365.5 368.4zM368.1 378.6zM376.3 381.4zM395.9 362.8zM362.1 365.8zM391.4 391.8zM404.1 369.3zM400.4 378.6zM397.4 385.6zM360.9 352.7zM364.5 383.8zM395.1 389.5zM404.3 381.6zM372.2 345.6zM386.7 360.1zM388.4 355.3zM368.9 380.6zM391.1 408.1zM398.5 387.2zM351.2 355.5zM341.6 386.2zM385.7 404.5zM392.6 364.7zM374.6 394.3zM394.6 376.6zM332.1 384.3zM392.7 403.6zM379.9 354zM330.8 388.9zM391.4 366.2zM329.3 376.6zM389.8 367.6zM368.3 399zM380.2 402.2zM404.4 387.1zM364.4 379.3zM378.2 403.2zM372.9 344.4zM378 417.9zM365.9 356.3zM372.5 412.6zM379.6 373.6zM391.2 367.1zM358.8 376.6zM387 356.1zM356.7 398.9zM391.3 367.6zM340 396.2zM357.6 366.8zM393 392.7zM357 363.5zM363.8 354.6zM376.4 409.1zM353.1 377.6zM387.8 358.3zM383.1 392.1zM376 377zM362.4 390.5zM366.7 355.4zM359 392.1zM368.3 390zM374.2 377.6zM406.1 391.7zM367.2 398.4zM375.1 350.8zM341.8 374.4zM384.2 352.3zM367.8 364.5zM366.7 405.1zM351.8 387.3zM409.8 387.9zM403.3 368.5zM361.7 369.8zM353.6 362.8zM402 364.2zM352.4 355.8zM370.9 390.4zM347.3 400.5zM392.2 369.8zM413.8 373.4zM379.4 372.2zM365.8 362.8zM369.3 409.6zM401.5 384.8zM338 369.2zM338.4 372.7zM376 411.8zM365.4 392.2zM356.2 399.2zM403.5 380.6zM340.2 397.6zM370.8 356.8zM366.7 411.9zM394.3 395.2zM382.6 386.9zM363.5 411zM365.9 384.4zM370.4 401.6zM339.6 371.9zM382.5 385.5zM402.6 379.4zM389.3 355.4zM369.3 416.5zM346.6 373.9zM345.4 395.4zM381.4 354.5zM389 385.7zM378.5 390.3zM375.1 372.4zM381.8 389.7zM356.3 372.8zM380.6 409.5zM381.1 346.4zM398.5 371.5zM346.6 384.8zM360.8 401.2zM371.8 343zM392.5 378.8zM386.2 371.4zM374.2 341.4zM336.2 389.4zM368.7 354.9zM398.8 391.7zM365.7 395.9zM367.7 355.1zM370.5 341.6zM358.7 368.9zM401 395.7zM360.6 348.3zM375.3 343zM354.8 380.3zM348.9 386.8zM369.1 385.5zM374.6 392.7zM353.9 406.2zM340.1 393.1zM366.2 344.1zM344.7 378.5zM366.5 411.4zM406.9 388.2zM357.1 399.3zM375.6 361zM357.7 396.2zM341.5 398.6zM409.2 377zM364.7 368.3zM356.2 370.2zM369.6 402.9zM363.9 402.4zM367.7 342.7zM374.9 372.7zM358 368.1zM349.8 395.1zM384.9 398.5zM352.3 374zM361.6 347.3zM402.1 363.3zM388.6 374.1zM392.9 361.4zM375.8 350.3zM396.7 393.3zM346.6 392.7zM370.1 375.7zM358.2 383.7zM378.9 408.5zM364.4 375.4z"/></g>
<g><path d="M462.8 380.4zM532.7 405.7zM490.8 395.6zM553.4 359.9zM498 403.9zM476.5 378.8zM511.5 397.3zM563.1 374.7zM546.8 403.2zM561.8 358zM545.6 374.5zM492.8 404zM475.5 380.1zM533.7 383.1zM558.7 385.5zM535.8 384.5zM472.4 388.9zM470 360.5zM553.1 375.9zM538.8 398.1zM530.1 414.2zM493.6 385zM482.7 390zM545.6 383zM564.4 373.3zM503.7 407.7zM487 406.9zM520.4 383.3zM522 422.4zM535.5 405.4zM565.2 348.1zM539.9 388.9zM564.9 350.9zM528.1 420.4zM467.2 370.3zM552.7 364.3zM472.4 365.3zM508.8 407.7zM482.5 376.5zM549.5 379.7zM519.2 419.3zM478 381.7zM519.4 418zM466.5 383zM474.5 376.1zM531.7 390.7zM498.1 384.1zM519.7 417.3zM468.2 382.7zM545.7 380.8zM553.6 380.5zM542.8 405.8zM532.4 394.9zM520.7 408.5zM528.4 388.4zM540.4 397.9zM506.9 422.8zM493.6 401.7zM477.6 396.7zM566.6 358.8zM465.9 385.7zM547.9 393zM485.6 382.2zM527.9 418.5zM486.9 408.9zM495.1 392.2zM550.8 395.2zM471.8 384.4zM533.4 390.6zM541.6 395.4zM462.6 359.2zM474.4 385.7zM487.7 386.7zM527.7 406zM501.1 419.1zM507.9 384.8zM525.2 397.9zM514.4 409zM467.3 354.7zM512.1 400.4zM462.1 365.1zM553.7 385.4zM555.3 360.1zM563.7 343.8zM534.6 396.5zM537.5 380.5zM561 386.1zM517.5 415.8zM485.6 384zM548.2 399.9zM491.3 383.8zM481.8 404.8zM473.2 381.5zM536.4 409.6zM530.3 400.8zM497.7 412.8zM502.8 396.9zM462.1 371.8zM529.7 409.2zM493.5 375.2zM556.5 389.4zM489.2 379.2zM475.9 382.9zM506.2 417.3zM554.1 371.4zM514.7 422.2zM499.8 418.3zM494.3 414.1zM563.8 381.5zM537.9 390.3zM544.8 406.4zM488.3 384.6zM472.7 388.8zM503.8 409.6zM471.4 388.7zM474.6 399.2zM515.3 386.3zM521.9 395.2zM525 392.5zM492.4 396.4zM485.1 389.4zM530.5 393.4zM515.3 403.6zM510.1 405.2zM545.1 395zM465 375.3zM470.9 377.1zM480.7 368.9zM530.2 383.6zM563.9 363.6zM500.3 379.5zM470.8 392.5zM563.5 363.1zM471.2 356zM543.6 383.4zM538.2 376.7zM496.6 416.9zM503.6 422.1zM490.4 401.3zM498 383.7zM566.6 347.4zM501.6 406.1zM513.9 392zM536.3 399.7zM555.7 393zM516.9 389.3zM537.2 394.5zM525 418.5zM537.9 391.6zM524.5 410.8zM557.2 369.6zM543.4 399.4zM481 398zM516.4 396.7zM506.7 396.3zM538.1 381.3zM461.4 338.5zM524.5 418.7zM555.3 394zM479.4 397.7zM520.9 416.2zM513.5 423.2zM507.8 390.6zM500.6 383.8zM529 403.2zM540.1 399.3zM493.6 388.5zM539.7 380zM503.4 388.2zM479.2 375.5zM551.1 396.5zM475.7 374.4zM467.7 388.8zM530.9 419.7zM534 406.3zM488 393.7zM474.3 364.1zM544.2 382.2zM518.5 404.5zM554.8 390.1zM493.5 404.7zM528.6 380.4zM502.7 417.5zM479.3 377.4zM555.5 364.2zM515.4 395.3zM502.5 393.8zM503.3 402.5zM562.4 375.6zM540.8 404.1zM466.5 352.7zM556.8 359.8zM494.8 399zM469 363.4zM481.1 367.9zM512.4 417.4zM543.3 392.4zM462.7 342.6zM494.5 393.7zM528.5 383.5z"/><path d="M475.2 400.9zM552.4 368zM553.2 373.2zM501.5 421zM538 412.1zM498.5 404.4zM528.4 402.7zM538.1 372.3zM564.1 358.5zM546.9 394.9zM527.3 417.1zM556.1 394.3zM546 387.8zM512.6 407.2zM495.5 378.8zM494.3 392.7zM518.6 423.9zM537.6 413zM511.3 421.4zM478.9 387.2zM532.2 406.1zM541.9 388.6zM469.9 388.3zM494.8 405.9zM481 369.8zM535.1 386.3zM523.4 384.9zM519.5 403.6zM514 391.6zM461.8 374.1zM544.2 401zM531 407.1zM531.2 386.7zM506.5 400.5zM557.3 367.3zM484.7 406.4zM510.3 417.4zM495.8 415.9zM467 367.9zM565.9 378.7zM467.6 379.2zM539.8 380.1zM529.5 407.6zM546.5 403.9zM518.1 382.6zM534 384.6zM531.3 404.5zM532.5 417.9zM492.5 402.1zM560.2 382.2zM477.4 365.6zM515 413.7zM504.5 400.5zM465.9 367.4zM550.4 400.4zM528.3 390.7zM530.5 407.7zM492.6 391.1zM505.9 395.6zM549.1 377.8zM491.6 374.3zM540.8 384.9zM471.6 392.4zM482.9 374.4zM534.6 408.1zM538.3 409.7zM533.7 415.5zM554.9 370.9zM464.4 366.6zM463.3 349.6zM502.9 402.2zM492.4 384.5zM560.1 359.7zM546.2 404.6zM476.9 374.1zM512 403.2zM512.2 402zM514.9 394zM491 385.2zM560.7 382.6zM547.7 405.8zM540 375.2zM533.9 405.2zM514.4 412.4zM490.7 390.8zM480 386.8zM482.2 403.8zM565 375.5zM487 387.5zM562.1 380.4zM527.7 409.2zM508.3 408zM515.3 418.2zM476.4 400.8zM556.7 379zM503.8 412.6zM471.7 378.9zM550.3 371.5zM560.9 380zM475.3 368.2zM478.5 379.8zM466.8 373.6zM495.4 414.9zM542.1 409.3zM478.4 376.6zM552.3 378.9zM469.2 373.4zM517.1 408.1zM530.8 388.1zM525.3 387.5zM526.1 405.4zM546 377.6zM492.6 388.1zM527.4 404.6zM523.6 391.3zM561.4 371zM554.2 390zM528.2 404.1zM522.4 397.4zM529.4 379.2zM493.4 406.2zM530.3 384.3zM539 404.1zM508.2 397.9zM546.6 369.3zM490.4 397.6zM498.1 396.8zM516.3 408zM519.9 395.3zM462.7 377.7zM540.7 401.7zM526.2 417zM516.2 408.4zM505.6 422.1zM498.2 390.2zM463.4 359.1zM508.2 383.6zM483.5 381.5zM558.2 369.4zM466.9 382.1zM553.7 368.8zM550.9 373.4zM566.1 354zM476.5 371.1zM546.7 389.9zM503 404.2zM468.7 387.8zM549.7 392.1zM533.8 413.7zM539.7 375.5zM547.9 378.3zM549.9 382.8zM508.1 383.4zM481.8 381.4zM489.8 378zM507.8 416.7zM545.5 399.7zM529.3 405zM549.8 400.7zM500.7 383.1zM523.7 389.9zM555.8 382.2zM538.8 397.8zM511.9 386.8zM490.3 392.4zM547 382.7zM520.8 415.6zM533.1 387.5zM540.7 391.6zM521 411zM469.9 392.8zM540.7 404.5zM470.6 363.7zM497.3 401zM532.4 378.1zM525.8 405.6zM474 375zM527.9 403.9zM502.3 389.5zM523.2 395.9zM541.5 371.3zM559.6 371.8zM558.2 366.9zM505.7 392.8zM510.3 392.6zM480.5 366.5zM517.7 382.5zM558.3 372.9zM563.4 370.8zM474.5 359.1zM531.9 395zM537.6 387.6zM487.1 377.8zM474.4 373.3zM501.1 412.7zM514.3 392.5zM537 374.1zM467.6 380zM556.1 373.8zM532 384.6z"/><path d="M549 394.9zM504 380.6zM531.4 409.4zM539.5 396.2zM506.2 388.8zM481 393.9zM484.8 390.5zM508.8 392.7zM465.6 371.4zM561.3 349.4zM549.7 386.9zM556.8 374.5zM498.8 395.7zM472.2 360.5zM486.5 409.2zM476.7 381.5zM532 400.7zM544.9 375.7zM473.2 395.6zM461.9 352.4zM555.6 359.6zM488.8 382zM477.6 365.7zM479.9 368.9zM508.5 397.3zM500 407.8zM558.1 360.8zM544.7 368zM463.9 380.5zM566.3 339.5zM507.7 413.8zM534 416.1zM538.8 390.1zM491.2 401.6zM511.6 392.2zM557 359.1zM566.9 340.9zM559.7 362.7zM530 385zM473.4 358.9zM560.1 367.2zM470.7 386.4zM487.8 395.3zM488.7 396.7zM499.3 400.4zM507.8 388.2zM540.8 409.2zM516 419.8zM512.9 400.9zM527.7 414.2zM562.5 383.3zM522.6 391.2zM520.5 395.6zM560.9 364zM536.1 411.1zM462.5 361.8zM472.7 384.5zM463.6 371.5zM462.2 348.8zM530.7 388.8zM503 407.6zM478.4 400.2zM476.3 374.6zM477.4 362.4zM536.9 377.2zM562.6 371.9zM463 350.7zM542.8 390.9zM540.7 400.6zM557.2 393zM474.8 398.2zM559.6 377zM509.9 397.4zM554 367.9zM554.4 370.2zM495.6 380.1zM521 400.3zM496.3 398.7zM547.1 401.2zM497.6 419.3zM559.6 380.4zM527.2 405.2zM518.5 406.8zM558.5 352.1zM475.5 393.8zM561.2 365.3zM524.3 393.8zM523.1 403.8zM542.9 381.2zM546.4 376.2zM499 417.1zM521 384.3zM555.1 380.6zM463.5 376zM555.2 385.4zM542.5 376.3zM547.7 387.3zM480.8 391.4zM470.9 388zM521.4 402.8zM533.3 409.8zM468.1 373.6zM537.2 408.9zM476.6 394.8zM528.6 419.5zM549 387.9zM518.9 407.3zM484.1 402zM467.3 364.4zM504.4 394.3zM545.9 379.2zM506.9 405.8zM466.2 387.1zM498.1 377.5zM522.2 390.4zM550 396.3zM514.3 384.9zM552.5 398.3zM556.1 363zM566.1 354.8zM523.7 402.9zM515.6 407.5zM543.1 405.7zM504.2 414.1zM489.9 410.8zM483.3 400.4zM474.6 371.3zM482.7 386.6zM545 375.4zM504.2 385.9zM478.1 363.5zM564.8 345.5zM468 367.3zM552.8 390.5zM531.5 415.8zM507 420.1zM531.2 392.2zM508.8 385.4zM502 388.4zM534.6 410.7zM462.2 346.7zM499.1 380.5zM519.7 388.4zM475.4 359.4zM466 374.5zM486.4 400.1zM521.9 388zM564 364.6zM563.4 379.2zM551.9 385.4zM543.4 369.5zM508.4 389.4zM546.6 397.2zM537.1 374.7zM481.8 370zM470.8 370.8zM489 398.9zM493.5 391.7zM532.5 410.6zM550.5 382.7zM550.9 378.9zM512.4 415.9zM506.3 397.8zM534 390.5zM542.5 402.7zM463.9 376.3zM475 358.8zM535.1 389zM488.5 403.2zM563 374.8zM512.3 403.8zM479.9 382.5zM509.2 403.9zM547.4 369.9zM521.1 388.2zM528.9 419.1zM545.8 407.4zM561.7 362.5zM565.1 349zM521.2 408.2zM493.7 404.3zM565.3 380zM463.5 359.5zM486.9 400zM498.8 388.4zM555 393.6zM468.7 382.6zM523 398.7zM565.9 345.9zM519.4 394.5zM493 386.8zM541.7 402.6zM490.2 412.1zM557.2 359.9zM555.3 390.2zM501.9 418.3zM476.1 392.7zM556.2 376.8zM501 418.2zM487.9 378.4z"/><path d="M522 395.9zM502.5 379.5zM547.1 390.1zM486.8 408zM495.2 399.5zM546.7 368.7zM495.5 414.3zM552.4 387.7zM491.5 376.5zM565.4 360zM560.2 376.2zM473 358.8zM522.9 381.3zM499.9 393.3zM543.3 396.8zM506.4 420.9zM511.8 400.2zM560.9 366.7zM476.1 366.6zM502.2 415.3zM492.4 396.7zM564 361.1zM477.5 396.7zM561.1 358.3zM468.7 376zM481.4 395.3zM477.2 370.7zM520.7 406zM518.1 402.9zM470 358.4zM564 357zM523.2 390.5zM463.1 352.5zM488.5 413.9zM463.9 354.9zM481.3 368.9zM508.4 404.1zM518.1 384.4zM478.9 383.6zM546.4 398.5zM481.1 397.9zM464.1 377.5zM472.6 388.2zM518.2 395.4zM527 421.5zM535.1 406.9zM502.6 413.4zM550 389.7zM497 409.8zM526.2 395zM532.8 401zM554.5 360.3zM542.7 393.9zM503.9 411.1zM482 386.5zM493.5 414zM503.4 406.8zM526.5 396.1zM474 373.4zM565.4 375.2zM477.5 363.5zM557.9 359.8zM502.1 396.6zM507.1 383.4zM552.6 391.5zM567.1 366.2zM506.1 418.9zM519.8 408.8zM526 422zM466.9 380.4zM548.7 379.2zM530.8 413.7zM531.3 419.7zM542.7 369.2zM492.1 375.9zM500.8 379.5zM531.4 376.9zM558.6 369.5zM523.4 385.2zM544.5 408.6zM470 361.7zM540.2 403.3zM561.6 361.4zM467.9 377.7zM495.9 388.6zM552.8 398.6zM517 389.6zM546.1 401.3zM481.8 375zM530.5 404.7zM566.5 341.2zM488.2 383.6zM463.2 368.8zM474.9 382.7zM541.7 398zM510.8 400.6zM530 398.9zM498.4 399.5zM480.7 384zM563 367.9zM545.4 375zM472.6 390.8zM498.7 385.7zM542.7 389.1zM538.9 397.7zM567.1 363.3zM464.1 353.5zM495.2 409.2zM483.4 402.5zM473.5 366.7zM509 400.9zM504.2 400.9zM514 385.3zM523.3 384.9zM558.2 354.4zM467.8 388.8zM494.8 407.1zM513.8 410.7zM489.4 386.9zM566 371.6zM503.5 384zM524.5 390.7zM542.7 399.5zM513.2 407.8zM525.6 398zM471.1 355.9zM535.8 411.6zM471.1 369.6zM551.3 375.8zM480 392.6zM539.6 403.1zM507.4 420.8zM565.7 369zM526 409.4zM548.6 396.9zM529.2 384.9zM516.9 408.5zM547.3 387zM481 395.4zM481.4 371.9zM559.2 361.7zM566.7 372.6zM463.5 372.6zM482.2 387.8zM540.1 378.3zM475.2 398.2zM477.5 402zM499.8 412.7zM550.2 378.9zM539.5 383.8zM546.5 381zM540.2 397.6zM514.5 394.8zM548.9 374.3zM480.1 372.4zM484.6 395.6zM516.8 420.8zM473 363.5zM560.4 369.1zM564.4 358.8zM513.5 414zM510.7 384.3zM503.1 397.4zM537 392.6zM511.2 388.7zM526.6 404.2zM484.8 385.8zM493.8 395.9zM496.4 386.6zM497.1 403.4zM560.7 368.7zM508.9 393zM501.2 398.4zM485.9 400.6zM540.8 384.6zM469.6 356.5zM532 409.3zM541.2 385.9zM499.5 398zM543.7 381zM529.7 416.3zM490 404.2zM500 398.9zM520.1 398.2zM565.3 358.8zM511.5 411.8zM513.5 423.6zM500.8 416.8zM462.2 354.5zM465 371zM481.9 397.5zM498.1 384.7zM498.7 420.5zM509.3 395.1zM490.3 375.6zM484 385zM552.7 378.6zM519.9 414.6zM565.5 359.3zM489.2 377.2z"/></g>
<g><path d="M680.7 405.3zM670.6 391.3zM663.9 390.1zM688 357.7zM648.3 370.2zM625.2 410.1zM683.9 356zM679.2 366.9zM634.2 366.9zM690.3 407.4zM678.7 356.4zM654.4 380zM641.1 373.7zM677.9 392.7zM653.1 391.4zM667.1 388.1zM659.9 381.1zM671.6 362.6zM632.3 404.7zM649 374.3zM677 401.7zM688.5 407.3zM638.8 366.6zM678.8 355.9zM644.4 366.1zM652.2 378.9zM683 356.9zM656.6 379.2zM628 349.3zM643.3 369.6zM655.4 368.3zM671 391.6zM641.8 363.6zM665 390.1zM660.8 394.4zM659.2 377.8zM668.9 375.1zM669.1 376.7zM691.5 413.3zM631.3 353.7zM632.6 396.3zM629.9 401.6zM633 361.4zM647.2 378.6zM665 365zM639.4 367.4zM677.4 393.1zM686.4 410.2zM652.7 395.1zM627.6 358.6zM642.6 373.7zM646.7 396.4zM645.7 398.2zM658.4 372.9zM642.6 386.9zM644.8 395.9zM690.1 349.6zM689.9 346.2zM634.1 367.7zM656.5 394.5zM651.8 395.9zM664.4 367.2zM645.6 389.9zM667.9 373.4zM622.4 340.5zM686.4 356.9zM622.9 412.9zM685 409.5zM660.7 385.7zM684.4 360.1zM651.8 379.6zM641.1 386.8zM676.1 363.5zM653.1 370.9zM638.5 365.3zM624.2 346.1zM635 368.1zM668.6 384.9zM652.5 390.7zM623.2 419.1zM622.7 421.1zM684.8 403.9zM689.8 419.3zM667.2 389.5zM682.6 354.4zM678.7 368.3zM691.2 411.6zM629.3 406.2zM676.5 401.5zM681.1 364zM656 391.2zM648.3 369.3zM673.9 368.1zM661.7 374.1zM623.5 420.9zM653.4 370.4zM646.5 394.9zM631.6 405zM626.2 411.5zM664.3 379zM624.8 356.1zM688.5 347zM640.3 366.2zM662.9 370.7zM654.1 393.4zM663.2 368.9zM671.4 368.4zM644.8 366.1zM670 398.7zM683.1 404.6zM658.8 380.5zM633.3 363.8zM668.2 377zM670 375.4zM639.9 365.3zM684.7 401.1zM623.6 415.5zM646.3 367zM645.3 374.8zM644.1 376.6zM678.1 366.5zM622.9 341.2zM643.9 392.8zM643.2 363.4zM685.7 349.2zM664.3 392.2zM671 373.7zM649.8 374.9zM663.1 392.9zM667.4 392zM665.5 386.6zM666.1 375.1zM674 399.5zM682.4 356.4zM633.2 398.4zM649.6 372.7zM641.1 369.1zM640 363.3zM666.1 385.6zM666.3 372.5zM653 390.9zM678.8 399.4zM622.7 346.5zM684.1 358.6zM673.5 362.8zM677.2 363zM630.7 407.7zM628.3 360.2zM678.9 405.8zM651.7 387.3zM682.8 357.6zM666.3 373.6zM641.4 364.4zM656.9 393zM623.2 345.2zM667.4 386.2zM677.6 392.5zM638.9 362.5zM676.3 393.2zM623.2 341.7zM674.7 362.7zM672.2 373zM664.2 377zM648.6 389.1zM648.1 377.8zM686.3 348.9zM647.5 370.4zM672.2 366.3zM629.6 355.7zM668.9 374.7zM632.9 407.8zM655.5 392.7zM677.5 367.9zM688.3 411.1zM682.7 358.1zM692.2 410.6zM678.2 356.1zM673.1 399.3zM646.3 393.6zM681.5 403.5zM654.7 395zM656.7 393.1zM670.1 367.2zM679.5 406.3zM643.8 390.5zM636.9 371.1zM684.6 407.7zM686.4 407.8zM661.4 374.3zM685.4 400.9zM675.5 372.3zM636.5 363.4zM688.2 408.9zM631.8 355.2zM691.2 347.4zM657.5 366.5zM668.4 367.2zM687.1 416.1zM660.6 374.2zM645.1 389.1z"/><path d="M652.2 379.6zM689.2 415.9zM648 396.7zM646.8 383.5zM647.4 366.7zM660.2 389.8zM667.6 388.6zM677.6 366.9zM659.7 376.7zM691.2 349.9zM631.9 404.1zM644.4 370.9zM661.6 384.7zM648 388.1zM623.5 348.9zM625.5 355zM626.3 413.6zM634.9 361.9zM629.7 362.6zM661.8 378.2zM676.5 365zM675.3 389zM677 358.2zM657.8 369.6zM622.3 412.8zM679 402zM682.7 405.2zM685.3 405.1zM670.3 390zM686.7 406.9zM689.9 410.1zM692.3 343zM622.7 422zM639.7 371.8zM690.7 408.6zM667.6 372.5zM669.2 376.2zM678 364.1zM680 403zM688.8 347.9zM630.4 403.5zM629.6 352.2zM682.7 401.3zM681.8 399.1zM644.1 390.9zM673.4 388.8zM661.4 368.8zM651.5 369.1zM657.5 372zM630.5 410.8zM658.5 381.8zM691 346.7zM630.2 353.6zM643.4 372.4zM655.2 390.2zM660.8 371.8zM651.3 385.9zM670.6 372.9zM667.7 372zM646.4 364.2zM670.6 362.7zM653.7 384.3zM622.7 341.4zM659.7 393.9zM634.3 403.6zM677.9 365.7zM684.2 406.3zM636.2 393.2zM628.1 358.1zM653.5 393.4zM691.1 340.2zM680.2 354.2zM623 410.2zM653.2 392.8zM653 382.2zM678.5 398.5zM638.7 369.3zM685 403zM640.1 364.1zM625.5 351.8zM625.8 408.9zM661.5 383.1zM662.2 392.6zM628.1 404.1zM657.7 379.3zM627.6 360.8zM660.7 366.3zM637.4 362.8zM654.4 373.8zM635.9 363.6zM651.6 390.7zM668.9 375.1zM642.3 396.4zM676 370.4zM678.7 365.6zM674.7 401.2zM665.7 367.7zM642 371.2zM669 391.9zM678.1 391.9zM622.4 348.9zM657.1 369.2zM675.9 370.2zM628.7 355zM634.7 404.2zM631.4 397.6zM674.8 370.1zM689.6 408.1zM658.2 371.2zM640.4 364.6zM635.2 403.8zM646 390.8zM672.7 392.6zM672.9 372.1zM650.4 394.2zM628.4 412.8zM639.7 394.3zM642.5 396.7zM681.5 403.1zM678.3 393.3zM653.6 376zM655.9 366.9zM689 415.1zM680.6 356.2zM655.5 384.7zM632.5 359.1zM646.7 392.2zM657.3 379zM662.9 373.6zM622.2 341.4zM666.5 375.8zM655.6 388zM652 383.1zM659.9 386.1zM636.6 357.1zM649.1 385zM652.2 378.6zM682.1 406.7zM665.2 390.1zM681.5 408.5zM692 343.9zM667.1 385.7zM627 413.7zM683.3 359.6zM649.6 392.5zM678.5 361.8zM668.3 393.9zM687.7 347.3zM633.7 394.6zM672.3 388.1zM629 360.3zM642.8 393.8zM681 404zM688.2 356zM625.5 353.8zM678.6 398.3zM664.9 372.3zM662.2 374.6zM672.2 390.5zM669.8 394.6zM679.4 364.2zM675.4 359.3zM629.3 357.9zM664.8 386.3zM666.9 371.2zM643.2 373.9zM687.3 349zM641.9 367.8zM626.1 350.4zM678.2 403.7zM663.3 396.2zM676.1 358.2zM621.9 417.6zM676.7 402.8zM645.6 368.2zM623.1 408.1zM649.8 372.4zM661.6 379.3zM634.9 405.9zM645.9 365.7zM678.6 361.8zM663.4 390.2zM632 402.5zM628.1 405.2zM630.5 350.4zM647.6 384.8zM650.4 367.9zM685.8 413.5zM652.7 372.9zM648.2 375zM632.6 397.7zM668.7 365.7zM643.3 372.7zM644.5 363.3zM649 382.8zM679.4 397.3zM674.3 370.3zM635.4 363.9zM680.8 358.8zM690.1 350.2z"/><path d="M680 354.9zM674.7 400.1zM678.3 356.1zM628.5 411.1zM637.4 400.4zM649.2 395.7zM685 402.6zM659.6 384zM653.7 387.4zM667.7 371.8zM664.9 371.2zM666.5 368.4zM649.4 368.3zM674.8 368.2zM643.8 376.8zM676.5 401.2zM691.4 411.1zM676 359.6zM683.4 352.7zM650.1 390.4zM653.4 395zM663.9 396.4zM629.8 408.2zM663.1 390.6zM681.6 396.4zM690.9 350.6zM668.1 387.7zM625.7 404.1zM625.4 352.1zM680.2 397.8zM629.3 356.1zM674.7 399.3zM668.1 376.6zM678.6 403.8zM685.7 400.1zM675 390.6zM666.1 396.5zM681.2 353.1zM687.7 410.1zM659.9 393.1zM688.6 354.9zM662.4 393.4zM684.4 409.9zM683.6 352.4zM643.2 385.5zM690.1 414.6zM687.3 346.5zM632.6 365.3zM652.8 366.3zM676.1 391.4zM681.3 358.2zM687.8 349.2zM660.5 370.4zM673 365.2zM682.8 399.2zM660.9 394.5zM634.1 363.4zM630.8 361.5zM669.9 372.5zM646.7 377.7zM672.8 364.4zM647.1 365.5zM666.2 383.6zM642.6 394.9zM652.3 377.9zM655.3 374.1zM622.3 410zM625.2 412zM653 391.1zM666.5 367.7zM655.8 393.2zM659.3 366.9zM671.4 371.9zM683.3 410zM630.7 397.7zM676.2 392.1zM629.2 359.9zM631 362.5zM642.5 396.1zM635.7 361.6zM685.7 414.3zM678.9 365.7zM635.7 368.5zM646.6 393.9zM674.8 359.4zM673.9 389.9zM673.6 390zM662.2 383.8zM634.9 392.9zM691.8 413.3zM676.4 364.6zM666 394.7zM689.2 355.7zM640.9 395.3zM661.7 386.3zM663 374zM682.5 396.9zM640.4 396.5zM688.4 411.5zM674 399.6zM640.5 372.6zM675.9 398.8zM688.2 413.1zM687.6 414.5zM647.7 373.8zM657.2 368.7zM668.5 373.6zM623.8 348.3zM647.6 366.3zM680.9 399.7zM692.3 412.5zM630.6 359.5zM658.4 375.7zM635.4 401.1zM658.7 369.4zM663 370.4zM668.8 375.5zM631.9 363.4zM674.3 367.8zM649.4 365.9zM658 391.1zM640.8 367.2zM650.6 373zM663.9 392.2zM650.4 385.4zM622.6 410.2zM691.1 346zM633.8 399.7zM680.9 360.4zM634.7 402.7zM655.1 372.4zM631.2 402.3zM648.1 367.7zM638 369.2zM677.5 367.1zM690.5 347.3zM680.3 400.8zM636.1 366.9zM653.1 368.6zM647 377.4zM684.4 402.4zM650.5 395.3zM649.9 382.1zM631.8 358.1zM639.5 361.2zM641.6 367.4zM677.9 394.8zM691.5 419.2zM635 363.7zM634.3 396.6zM631.1 401zM647.4 368.2zM634.6 393.8zM633.5 354.6zM685.4 352.6zM675.3 359.8zM626 352.1zM622.4 410zM628.6 348.3zM685.2 356.3zM690.8 412.7zM654.8 392.2zM655.8 371.1zM622.1 352.5zM628.1 348.6zM669.6 376.6zM640.7 363.8zM688 410.7zM633.8 354.1zM686.3 359.7zM682.5 355.1zM643.3 394.9zM692 422.7zM672.7 370.3zM624.2 344.7zM670.2 366.2zM638.5 368.3zM637.3 393.2zM654.3 392.8zM657.8 372.5zM626.9 413.1zM666.6 376.5zM673.4 368.8zM661.6 381.9zM660.3 367.5zM683.6 399.5zM691.1 421zM635.6 395.3zM667.6 395.5zM631.2 403.7zM644.5 371.8zM669.5 391.3zM674.2 373.7zM690.5 408.6zM628 347.1zM643.2 370.3zM650.1 389.9zM644.7 388.4zM626.7 355.7zM629.3 398.9z"/><path d="M645.1 389.7zM625 406.2zM668.5 384.3zM674 399.7zM641.2 373.9zM630.9 401.1zM625.8 408.2zM662.5 388.3zM635.1 359.3zM626.7 358.3zM641.7 368.2zM691.6 342.1zM652.8 388.3zM633.5 363.1zM628.8 411.9zM636.4 395.3zM676.7 403.1zM629.7 410.8zM662.3 374.3zM646.3 371.7zM637.4 364.5zM690.2 342.4zM646.9 395.9zM661.2 391.3zM631.5 400.8zM631.7 400.2zM671.8 388.8zM637.6 400.1zM674.1 371.8zM629.2 353zM656.9 374.1zM662.6 395zM628.3 408.1zM658.8 376.6zM691.6 416zM690.2 416.4zM626 406.9zM667.8 375.2zM638.8 397.2zM636.9 400.2zM686.2 348.8zM675.2 392.7zM648.6 389.6zM650.1 384.8zM683.7 362zM641.4 361.4zM639.6 368zM656.4 377.4zM639.9 394.6zM666.6 371.6zM656.5 390.3zM669.2 397.9zM664.9 390.6zM650.2 372.4zM651.7 394.5zM668.3 369.8zM671.8 368.3zM684.4 354.7zM635.5 394.1zM692.1 339.3zM667.9 397.4zM666.5 371zM623.6 411.5zM657.4 373.9zM642.9 369.1zM638.9 389.6zM631 352.2zM671 362zM656.8 381.9zM623.2 349.5zM686.6 406.7zM691.7 349.8zM655.2 393.9zM673.4 391.5zM652.7 387.1zM627.3 347.4zM675.6 402.8zM671.2 398.8zM642.5 368.2zM638.2 402.2zM689.6 350.8zM680.7 396.3zM630.2 354.3zM635.2 392.7zM634.9 364.7zM687.4 355.5zM626.7 405zM688.2 348.4zM663.8 377.3zM644.6 369zM669.2 371.2zM672.3 390.4zM651.4 375.4zM657.1 376.7zM624.9 348.9zM643.4 389.6zM673 399zM644.3 368.7zM674.4 400.2zM668.4 370.1zM648.9 390.4zM623.5 412zM670.2 398.8zM674.5 399zM689.6 352.1zM683 407zM641.1 399.8zM665.3 368zM655.1 378.7zM646.2 384zM649.8 382.7zM679.5 402.5zM683.8 353.4zM663 388.3zM686.5 405.3zM632.2 408zM670.2 389.1zM648.3 394.7zM690.2 353.3zM626.4 359.1zM632.6 405.2zM630.7 360.1zM624.8 405.3zM635.5 360.7zM632.5 359.2zM633.1 395.6zM630.5 404.2zM644.1 397.1zM649.6 395.5zM691.9 416zM660.8 393.8zM635.5 405.4zM660.5 380.2zM664.6 391.2zM650 377.5zM673 366.5zM643.3 365.1zM663.3 367.7zM646.2 388.8zM680.8 366.9zM659.6 372.1zM631.9 352.3zM672.6 366.2zM623.3 414.6zM679.1 399.3zM674.3 365.4zM667.2 368.3zM665.8 377.8zM676 399.4zM666.8 393.9zM667.9 387.8zM689.3 415.2zM661.4 395zM655.7 375.3zM684.6 360.7zM653.4 388.5zM672.4 390.9zM658.9 372.3zM649.2 371.8zM636 370.4zM672.8 372.7zM634.8 402.7zM684.3 406.7zM680.2 394.8zM687.3 345.5zM659 386.3zM685.6 410.3zM656.2 394.5zM649.5 390.8zM626.3 345.7zM646.3 396.2zM668.4 396.1zM627.5 357.2zM674.8 368.6zM670.2 388.2zM650 373.5zM657.8 372.8zM674.2 396.7zM638 400.2zM649.3 387.1zM624.6 355.5zM684.2 352.8zM685 353.4zM661.2 384.4zM627.5 354.7zM665.9 387.4zM639.4 367zM627.6 358.2zM657.1 370.9zM638.9 401.7zM679.7 393.3zM632.5 400.7zM668.1 374.9zM669.4 397.5zM688.7 406.6zM687.6 417zM648.8 385.9zM626 415.6zM678 401.7zM651.9 379.4z"/></g>
<g><path d="M786 347.9zM788.2 358.9zM817.5 354.4zM773.3 396.9zM826 367.9zM826.7 406zM837.5 383.2zM819.8 358.6zM771.8 358zM839.8 370.9zM774 368.7zM829.5 389.1zM812.8 402.4zM820.7 365.4zM835.4 364.3zM770.2 384.9zM813.2 407.7zM829.4 368.1zM781.6 361.2zM833.4 394.4zM765.8 391.5zM835.3 388.9zM827.6 379.5zM758.9 376.9zM770.2 368.8zM823.4 396.2zM773.2 390.6zM789.6 407.3zM808.2 409.7zM826 405.2zM838.4 380.7zM795.7 410.9zM827.1 385.7zM823.9 356.5zM822.8 358.3zM819.6 358.3zM807.6 355zM802.2 405.4zM769.4 407zM819.5 356.8zM766.9 370.3zM826.4 394zM809.9 360.7zM783.4 352.5zM773.2 380.3zM778.1 397.2zM842.1 388.4zM768.8 393.3zM764.9 366.8zM794.6 351.5zM825.4 367.1zM760.1 377.8zM776.7 403.8zM816.3 356.4zM771.8 365.7zM788.2 350.7zM819.3 359.5zM827.7 357.6zM762.1 388.3zM800.3 408.3zM760.6 377.5zM776 405.3zM785.1 355.1zM767.6 368.3zM816.7 349.1zM767.2 366.9zM822.1 370.7zM807.8 404.4zM790.4 345.9zM833.6 387.6zM791.8 403.2zM766.9 371.7zM827.3 357.7zM769.5 371.4zM814.8 411.2zM809 356zM835 390.2zM815.2 411.8zM771.9 361.1zM832.4 381.6zM781.6 356.5zM825.6 397.7zM772 403.1zM836.3 377.8zM775.6 385.4zM787.7 409.7zM814 402.5zM772.4 402.9zM827.7 355.4zM834.9 389zM774.2 397.1zM786.4 349.9zM804.2 406.3zM821.3 410.8zM837.3 381.1zM802.4 355zM775.5 354.5zM778.3 405.7zM836.2 389zM826.6 402.9zM829.4 374.4zM787.5 408.8zM812.6 355.4zM786.2 359.6zM791.8 407.3zM823.1 362.1zM804.6 352.6zM834.2 376.8zM768.6 395.4zM819.6 404.8zM829.3 373.3zM784.9 400zM805.4 351.1zM837.5 373.6zM829.8 378.6zM808.2 350.6zM788.2 410.5zM765.9 373.8zM764.4 366zM806.2 412.3zM796.6 351.1zM771.5 371.1zM779.2 403.9zM808.4 412.5zM764.5 368.7zM826.4 390.7zM829.3 363.2zM775.4 359.8zM832.8 376.6zM777.3 402.3zM783.2 405.1zM794.2 356.6zM769.9 362.6zM773.9 402zM814.2 356zM781.4 404zM845.7 382.1zM798.8 416.5zM766.2 392.3zM830.3 399.4zM832 378.9zM770.7 379.8zM833.5 403.6zM824.1 365.8zM777.5 357.5zM791.5 405.8zM802.6 410zM822.3 406.1zM765.3 380.2zM809.1 409.7zM815.6 353.6zM824.2 364.5zM765 365.3zM832.3 386.8zM785.3 346.4zM824.6 383zM801 350.4zM834.5 372.5zM768 373.2zM770.5 385.2zM831.5 369.2zM787.7 354.1zM826 392.6zM828 360.1zM784.9 407.6zM762.6 395.5zM835.8 373.3zM816.6 355.3zM819.6 396.7zM813.6 406.6zM802.3 349zM781.4 358.7zM822.8 393.5zM791.7 355.5zM822.6 353.4zM776.1 405.4zM764.6 377.2zM779.9 404.5zM794.1 359.5zM778.8 403zM800.1 412.1zM772.8 392zM804.9 357.4zM792.7 356zM844.7 385.5zM816.5 350zM816 410.8zM766.6 372zM796 404.2zM766 398.3zM789 412.6zM823 399.3zM772.6 400.6zM823.7 364.7zM784.6 404.7zM787.3 411.3zM838.5 379.5zM766.6 375.3zM775.9 394.6zM784.1 406.9zM822.4 351.4z"/><path d="M821.7 400.1zM831.3 370.2zM833.3 389.1zM833.5 365.2zM806.5 398.4zM815.2 357zM758.7 388.6zM769.9 395.7zM833.7 376.9zM794.9 410zM769.2 389.4zM773 376.4zM818.3 357zM802.4 411.6zM813.6 354.3zM788 352.3zM765.9 377.4zM811.1 409.9zM794 354.8zM791.5 349zM785.6 411zM766.7 371.9zM833.6 383.5zM815.8 407.3zM804.9 346.6zM825.5 399.5zM820.5 409.1zM836.5 389zM762.9 367.7zM802.3 404.9zM803.5 411.5zM830.2 376.9zM831 391.2zM765.3 384.3zM775.9 405.8zM823.6 368.2zM773.8 367.3zM760.8 380.7zM797.5 417.3zM831.2 374.2zM842.6 381.7zM834.5 365.4zM767.7 372.2zM816.5 401.7zM813.5 356.8zM809.9 410.5zM763.9 380.7zM791.3 350zM839.8 399.6zM833.7 361.4zM830.3 384.9zM778.6 364.4zM764.9 363zM816.7 357.7zM792 351.7zM812.6 407.3zM825.2 398.4zM777.6 361.1zM827.7 389.6zM775.7 397.7zM827.8 370.9zM789.8 407.4zM759.9 384.7zM785.1 349.6zM796.5 406.1zM834.7 393zM824.4 368.4zM830.4 367zM824.1 406zM782.1 358.5zM807.7 408.6zM806 352zM837 375.4zM823.8 354.9zM771.7 390.5zM765.2 369.3zM785.6 411.1zM796 350.2zM777.4 353.9zM788 350.6zM845.7 374.7zM802.9 413.3zM795.1 409.5zM807.8 411.5zM832.7 366.3zM827.8 395zM762.8 381.6zM780.6 356.6zM785.4 409.8zM835.4 381.9zM826.6 402.2zM825.6 406.3zM833.2 400.4zM772.2 399.6zM823.2 401.6zM814.9 359.6zM807.3 351.5zM844 376.7zM771.4 376.6zM833.4 387.6zM836.1 386.6zM781.2 403zM803.5 409.4zM771.3 398zM830.8 357.1zM769.7 375.2zM800.2 353.1zM764.7 386.4zM773.8 362.6zM775.4 360.3zM768.3 394.6zM838.2 394.8zM835.4 378.6zM830.7 395.2zM759.6 384.7zM769.9 357.8zM763.8 398zM832.1 379.8zM800.4 411.1zM813.8 411.7zM776.2 364.1zM836.3 390.2zM771.6 360.5zM753.2 391.2zM782.3 407zM769.2 383.1zM830.5 376.1zM778.4 399.4zM831.2 364.8zM778.8 402zM778.4 359.6zM830 395.9zM764.8 372zM836.2 370.1zM826.4 395.5zM821.8 394zM766 397.6zM769 387.6zM775.3 361.8zM796.9 353.5zM798 345.6zM791.4 406.9zM767.8 364.3zM769 391.2zM772.3 397.4zM771.7 360.3zM832.9 383.9zM790.2 410.3zM834.2 397.8zM778.8 356.9zM768.3 361.8zM769 392.6zM793.4 350.3zM768.8 369.5zM800.6 407.7zM769.9 402.5zM763.1 374.6zM764.9 387.2zM783.3 405.4zM800.5 343.9zM792.3 409zM772.7 358.4zM762.9 378zM830.9 360.2zM764.9 394.8zM835.1 361.3zM793.9 353.5zM830.3 392.4zM799.3 408.3zM809.7 408.7zM783.2 354.2zM833.6 382.8zM770.6 403zM832.6 396.5zM788.6 360.3zM816.7 403.4zM837.6 378zM839.7 397.6zM805.1 408.5zM835.7 385zM761.1 371.1zM781.3 356.5zM789 352.5zM821.7 356.1zM790.4 410.4zM807.9 418.7zM814.6 356.5zM766.9 363.1zM811.9 410.7zM811.6 408zM766.3 391.3zM775.9 361zM763.4 376.4zM762.8 366.1zM833.2 377.7zM799.2 352.2zM770.6 395.4zM767.3 388.1zM767.9 395.1zM774.4 350.5zM813.9 349.8z"/><path d="M838.9 394.2zM767.8 376.3zM774.3 397.4zM778.4 366.6zM786.3 406.6zM787.2 408.7zM833.7 378.8zM810.1 422.6zM770 382.9zM793.8 349.8zM816.5 352.3zM779.9 399.1zM838.2 394.5zM774.1 356.2zM836.5 396.6zM828.5 379.8zM835.6 388.6zM780.3 405.3zM823.5 404.6zM772.2 396.9zM776.5 401.2zM821.3 350.3zM799.2 352.2zM824.5 364.6zM823.7 405.8zM767.2 388zM836.3 384.3zM845.8 370.5zM768.3 399.4zM814.6 406.2zM767.9 406.2zM826.6 399.5zM811.3 353.1zM774.3 363.9zM811.1 357.2zM801.4 404.7zM820 403.8zM779.9 363.3zM814.5 356.4zM765.5 363.1zM820.3 402.1zM785.7 409zM767.3 381.4zM842.1 371.4zM769.7 366.5zM821.1 413zM812.6 353.7zM787.2 358.7zM835.2 386.6zM834.6 386.9zM808 402.1zM796 355.7zM793 348.6zM801.9 413.9zM761 388.1zM767.4 371.1zM826.9 393.6zM810.5 350.6zM762.3 391.9zM814.7 367.5zM763.7 368.8zM802.8 351.7zM813.6 353.5zM771.2 361.2zM831.5 396.6zM821 364.2zM830.5 376.5zM839.4 370.2zM831.1 373.9zM803.2 411.2zM787.5 361.6zM820.6 352zM796.1 411.8zM823.5 400.2zM835.3 391.4zM770.7 363.1zM825.2 401zM765.3 372.5zM802.9 354.9zM830.6 379.8zM791.4 353zM790 359.3zM777.8 404.1zM836.1 367.7zM781.7 357.9zM809.5 409.4zM819.7 354.5zM829.6 367.4zM826.2 355.1zM766.5 386.8zM839.4 372.1zM814.3 351zM794.1 357.8zM771 394.4zM813 405.9zM835.4 388.6zM777.5 356.5zM830.3 388.5zM779.1 405.4zM773.9 367zM788.3 358.2zM834 389.9zM762.8 383.3zM763.9 399.3zM831.8 387.9zM778.9 388.8zM804.2 413zM830.8 371.7zM837.5 358.2zM792.9 354.5zM833.5 359.8zM831.5 387.8zM834.8 379.6zM776.9 391.1zM838.1 390.8zM828.2 359.5zM773.8 391.5zM791.4 404.2zM826.5 396.7zM813.6 355.7zM819.8 351.1zM803.6 410.5zM796.7 407.2zM774.6 359.5zM805.5 405.8zM775 401.6zM778.3 408.5zM774.6 398.2zM827.3 364.4zM816.6 354.3zM815.4 404.3zM780.7 363.1zM760.8 388.3zM771.5 405.8zM780.4 359.9zM790.6 351.7zM759.1 374.9zM834.3 376.3zM786.4 408.6zM839.7 365.9zM765 374.3zM765.1 387.3zM783.8 354.5zM797.9 410zM820 365.7zM764.5 366.6zM795 410zM764.9 377.8zM766.7 371.9zM769.7 371.7zM828.8 355.2zM805.5 350.4zM770.1 397.7zM781.8 357.9zM816.1 360.9zM811.5 353.9zM772.5 384.1zM760.5 382.4zM828.3 395.7zM773.3 409.7zM829.2 366.4zM826.4 371.7zM763.9 368.4zM805 402.6zM812.6 359zM814.9 358zM787.7 352.2zM818.3 404.4zM831 365.9zM771.9 393.4zM778.1 357.8zM810.4 350.2zM759.6 384.5zM819.5 408.3zM763 360.5zM775.7 389.2zM826.8 357.8zM807.3 350.2zM840.7 389.1zM778.7 398.4zM825.4 359.7zM829.1 364.2zM809.5 355.3zM837.2 373.2zM837.1 390.1zM776.9 362.8zM837 381.5zM778.4 365.9zM808.7 406.3zM764.5 399.8zM829.8 381.7zM778.6 356.9zM815.2 353.3zM807.9 347.1zM808.4 410.3zM785.8 352.4zM767.8 366zM809.9 414.6zM830.2 371.6zM795.6 345.1zM791.8 403.2z"/><path d="M783.7 355.5zM790 349.8zM838.9 385.2zM787 411.9zM788 405.7zM792.3 410.9zM829.1 375.7zM798.9 349.5zM770.1 363.9zM801.2 352.9zM778.1 407.8zM768 390.7zM826.4 357.9zM775.6 406.5zM765.2 369.3zM804.7 352.7zM808.6 351.9zM814.1 355.1zM835.3 389.4zM789.8 407zM766.1 390.6zM835.9 358.8zM814.4 412.6zM779.2 400.4zM832.2 380.5zM789.7 351.3zM836.4 367.7zM762.2 386.4zM763 370.2zM838.3 380.6zM819.5 396.5zM764.1 364zM838.6 394.3zM821.4 399.8zM827.2 367.8zM829.4 386.8zM798.6 412zM764.2 372.1zM827.9 367.2zM795.6 359.4zM826.9 403.8zM826.7 369.6zM790 400.9zM826.8 362.8zM830.8 393.5zM784 352.9zM762 374.3zM802.9 412.5zM768.7 384.3zM765.2 373.1zM813.6 406.6zM830.4 364.5zM831.4 376.4zM769.3 367.7zM785.8 398.8zM799.1 350.2zM795.5 410.4zM821.7 395zM839.3 389.5zM799.6 353.8zM773.2 393.4zM834.6 381.7zM831.3 391.5zM787.7 412.6zM805.8 415.6zM791.9 404.2zM807.3 347.3zM804.6 412zM831.3 380.6zM776.7 411.2zM780.7 408.3zM809.8 406.9zM816.7 399.4zM822.1 404.3zM820.1 407.1zM823.5 402.8zM799.4 349.5zM821.8 409.8zM781.1 405.6zM826.6 362.7zM816.1 355.4zM782.5 403zM763 391.9zM797.8 347.7zM822.6 406.2zM771.3 396.2zM782.2 359.6zM774.1 358.4zM825.7 361zM773.1 367.2zM790.8 355zM780 351.4zM794.9 357.6zM791.7 412.4zM827.5 384.6zM815.3 352.1zM805.6 410.9zM769 401zM779 365.6zM803.7 350.6zM838.6 393.9zM820.4 363.5zM830.8 376.3zM801.9 413.4zM774.3 405.7zM815.7 355.3zM831.2 400.2zM823.7 361.8zM782.2 359.2zM787.3 406.5zM775.4 355.7zM826 399.4zM773.4 362.1zM827.3 403.3zM831.1 380.1zM837.9 384.3zM768.1 388.2zM779.3 356.3zM776.3 354.1zM813 355.9zM838.6 387.5zM819.3 402.3zM830.6 363.6zM779 358zM837.6 364.2zM768.7 381.6zM797.9 415.1zM765.7 370.3zM838.5 388.1zM814.6 408.4zM803 345.4zM834.7 366.3zM765.5 398.7zM839.5 390.4zM824.1 365.3zM779.6 406.6zM769.5 392zM761.1 381.2zM827.3 394.6zM782.8 405.7zM840.1 376.7zM838.3 379.3zM820.1 356.6zM790.9 405.3zM825.2 402.2zM796.6 350.8zM803.7 403.5zM819.7 369.6zM794.4 405.4zM838 371.3zM778.4 361.4zM761.8 384.7zM779.7 362.5zM835.2 401.9zM830 395.3zM810.1 409.2zM799.2 407.1zM769.3 361.4zM808.4 411.3zM833.9 361zM762.3 376.1zM808.2 410.1zM829.3 357.3zM826.7 410.7zM766.4 371.9zM771 397zM819.6 398.2zM796.3 354.4zM811.3 405.6zM805 354.8zM820 408.9zM771.4 363.3zM827.9 357zM824.4 357.9zM811 361.2zM804.4 399.9zM825.4 393.2zM827.8 402zM799.9 405zM773 395.4zM839.2 394.2zM815.3 411.6zM826.2 388.8zM809.4 409zM833.9 388.6zM785.8 346.8zM795.3 415.2zM764.7 392zM793.3 407.4zM795.2 353.3zM779.8 362.7zM832.1 400.9zM760.8 379.9zM809.8 351.3zM786.5 409.8zM808.4 404.6zM824 358.4zM814.5 398.5zM807.9 352.3zM782.3 353.4z"/></g>
<g><path d="M964.7 360.9zM921.7 356.5zM975.9 367.8zM964.9 371.7zM925.3 394.3zM968.5 360.3zM961.2 354.6zM917 367.4zM917.7 370.4zM919.4 364.4zM915.8 400.2zM909.2 387.1zM916.3 349.9zM974.1 411zM958.2 395.7zM925.8 391.5zM970.6 402.7zM971.8 389.6zM925.2 365.5zM963.1 356zM970.6 396.8zM971.7 393.1zM913.9 366.6zM969.1 352.5zM926.1 362.1zM919.3 357.2zM958.5 402.9zM971.6 370.7zM966.7 407.7zM969 391.6zM914.2 397.1zM969.9 358.8zM932.7 353.7zM916.9 408.7zM976.6 361.5zM909.1 366.9zM919.2 357.6zM923.5 367.5zM956.4 396.7zM912.5 363.7zM972.2 390.4zM920.9 410.8zM965.5 390.9zM961.2 390.5zM927.6 366.6zM965.6 357.9zM964.1 359.2zM962.4 398.6zM970.6 363.7zM921.3 355.1zM916.8 352.1zM925.7 404.1zM965.8 353.5zM970.2 390.2zM968.2 350.1zM966.2 404.5zM928.9 355.9zM960.5 367.2zM921.7 394.7zM914 353.6zM925.5 356.2zM958.8 395.5zM910.8 364.8zM918.7 391.8zM956.8 369.4zM960.8 396.7zM964.7 366.3zM914.1 408.2zM922.7 388zM967.6 399.4zM955.3 356.7zM967.9 402.5zM930.8 354zM925.8 407.1zM922.5 361.4zM969.1 405.1zM956.9 401.8zM914.7 353.1zM923.1 357.7zM921.7 367.6zM920.5 403.4zM960.3 369.5zM921.8 356.3zM925.2 376.9zM934.3 407.7zM966 400.4zM910.1 372.3zM919.3 403.4zM920.4 371.1zM966.6 364.1zM965.6 409.6zM912.2 395.9zM900.8 360zM963.2 359.7zM983.8 402zM917.7 364.5zM924.2 407.9zM971.2 391.6zM963 375.6zM907.7 360zM917.5 369.5zM968.5 365.4zM962.8 365.4zM919.8 362.9zM968.1 358.6zM924.3 402zM970.4 365.7zM913.8 402.4zM982.9 360.8zM915.8 360.6zM961.5 362.1zM914.6 355.8zM924.3 390zM974.2 361.9zM926.7 359.7zM962.2 359.3zM966.6 361.2zM969.6 360.1zM978 396.3zM962.9 399zM957.6 399.9zM962.2 351.1zM972.6 360.3zM930.8 402.2zM966.1 395.9zM920.1 388.7zM933.7 393.9zM974.1 396.1zM913.6 405.6zM933.6 408.8zM957.9 363.8zM951.1 390.3zM924.2 359.6zM928.4 395.4zM955.9 399.8zM966 399.1zM956.5 363.2zM962.9 400.8zM928 362.8zM967.5 373.4zM978.2 401.4zM907.3 404.7zM961.8 372zM925.7 370.9zM921.2 358.4zM976.4 397.5zM967.3 397.7zM923.1 364zM938.4 370zM912.7 355.8zM914.4 359.7zM975 394.2zM964.7 363.8zM921.8 389.2zM962.3 363.6zM983.6 401.9zM957 361.3zM961.1 395.9zM924.3 396.1zM957 387.4zM969.6 359.9zM932.1 391.3zM919.5 360.8zM922.1 365.5zM968.5 395.8zM919.7 400.1zM953 409zM976.5 360.8zM978.4 362.7zM957.8 371.4zM965.9 362.2zM915.4 362.8zM962.8 352.8zM951.2 399.2zM968.4 362.9zM977.9 404.8zM930.6 361.9zM922.1 358.2zM974.9 399.4zM925.4 360.9zM962.2 381zM968.5 404.3zM919.4 411.6zM980.6 360.2zM916.5 395.4zM970.1 353.6zM912.8 400.8zM981.7 365.9zM958.9 366.7zM977.7 364zM971.1 347.4zM962.9 363.8zM911.6 403.4zM980.7 401.9zM968.6 394.2zM960.6 357.1zM920.6 394.2zM919.8 365.1zM962.3 360.1zM971.6 363.3z"/><path d="M916.8 358.1zM926.3 366.2zM932.7 398.8zM962.2 398.9zM907.4 402.3zM963.4 403.7zM915.3 355.7zM923.2 400zM962.3 398.5zM963.4 403.7zM982.6 403.2zM905.8 392zM958.4 405.9zM926.5 366.1zM919.3 402.9zM913.8 403.3zM954.5 402.2zM926.8 360.7zM922.2 397zM913.9 403.9zM963 369.4zM911.2 393.9zM931.3 365.7zM918.1 363.4zM915.1 405.9zM968.3 398.8zM927.1 366.2zM967.5 368.5zM918.7 372.2zM916.7 360.9zM966.8 368.4zM960.4 364.5zM980.6 355.7zM921.6 372.1zM923.7 404.7zM931.8 371.7zM945 404.2zM925.6 403.7zM967 357.1zM971.7 365.4zM909.7 412.1zM927 355.6zM916.1 363.2zM968 356.8zM965 359.6zM922.1 352.9zM958.1 369.8zM915.9 370.8zM966.9 411.7zM974.8 394.3zM973.4 391.5zM916.5 396.8zM933.7 409zM974.7 410zM965.7 388zM922.1 357.6zM962 364.5zM969.3 392.5zM924.2 391.5zM919.3 396zM976.7 365.1zM971.9 361.6zM908.9 390.3zM967.1 396.8zM957.1 374.1zM921.6 363.7zM975.4 406.3zM915.7 398zM916.5 364.2zM964.1 401.3zM956.2 401zM982.2 371.2zM921.9 370.9zM971.6 396zM966.8 400.6zM923.5 366.2zM918.2 402.7zM953.8 395.5zM918.4 399.8zM924.6 393.5zM907.6 406.1zM920.5 396.7zM966.3 392.4zM909.6 405.6zM970.1 396zM923.3 406zM914.1 358zM923.3 396.8zM924.5 398.4zM923.3 389.7zM940.1 363.7zM962.6 364.5zM975.6 367.7zM932.8 404.9zM917.9 370.7zM958.6 357.4zM958 376.1zM914.5 399.4zM917 399zM925 362.5zM921.9 363.8zM966.7 398.4zM932.4 359.1zM968.4 410.9zM910.2 394.2zM941.8 405.4zM960.7 368.8zM982.1 358zM959.3 412.8zM920.9 362.6zM967.7 395.2zM928.3 368.1zM965 360.7zM918 394.9zM929.8 407.1zM938.3 352.4zM917 407.6zM929.3 354.6zM914.9 365zM927.9 393zM916.9 399.4zM918.8 364.3zM968.8 362.3zM922.8 393.8zM927 363.3zM980 396.7zM958.2 363.6zM922.6 358.6zM956.7 395zM970.2 359.8zM923.6 371.6zM961.5 366.8zM970 399.7zM916.9 412.7zM950.3 400.2zM917.5 358.7zM917.1 362.2zM924.9 392.9zM964.6 400.7zM972.2 358.5zM953 362.3zM956.6 404.8zM922.4 363.6zM924.7 356.8zM910.5 363.8zM960.8 356.4zM935.2 397.3zM914.9 404.9zM924.2 398.3zM961.6 401.8zM962.9 367.9zM963.1 407zM910.9 399.7zM973.5 351.3zM979.7 361.7zM970.9 370.4zM957.5 399.4zM959.1 404.4zM919.3 354.4zM959.6 407.2zM926.9 354.8zM915.1 366.2zM918.1 353.2zM914.9 401.6zM918.4 407.2zM930.9 401.5zM971.3 367.2zM973.8 357.7zM967.4 403.6zM966.9 360.3zM975 392.3zM952.8 410.4zM957.3 403.1zM897.1 397.9zM962.5 403zM975.4 370.3zM967.7 364.3zM911.4 362.9zM973.7 353.9zM920.5 361.3zM968.8 399.5zM910.7 364.3zM952.6 408.5zM930.6 387.7zM913.1 356.2zM955.2 404.6zM932 397.3zM957.4 368.5zM915.8 364.2zM930.9 395.2zM977 405zM970.6 363zM977.1 370.9zM967.9 402.7zM925.3 364.8zM966.2 401.4zM922.2 396.2zM975 400.4zM957.2 368.5zM975.9 403z"/><path d="M924.3 403.2zM972.4 360zM912 365.2zM969.7 406.2zM970.9 400.3zM965.5 403.3zM920 367.8zM959.1 400.2zM930.9 389.4zM952.7 359.3zM928 358.7zM924.1 401zM927.4 361.2zM909.6 365zM967.6 407.7zM969.6 367.6zM927.3 364.7zM915.5 355zM916.6 404zM959.5 393.6zM913.2 367zM963.1 391.2zM915.1 388.1zM976.4 396.5zM966.4 358.9zM966.8 363.7zM913.5 399.2zM920.3 360zM971.1 360zM964.1 411.4zM956.1 399.2zM920.6 375.6zM931.1 357.6zM971.8 398.6zM926.7 411.7zM964.2 413zM959.1 407.2zM911.7 394zM960.2 415.8zM958.9 364.9zM978.8 356.6zM977 352.1zM966.8 404.2zM910.9 366.5zM975.3 366.9zM922.1 390zM926.4 365.3zM969.4 391zM920.2 363.7zM972.3 363.6zM959 404.3zM954.2 401.5zM924.6 404.4zM922.8 401.9zM953 358.9zM916.3 355.5zM966.2 365.9zM949.3 362.6zM923.9 393.9zM957.6 403.7zM956.7 391.8zM979.4 362.8zM921.5 362.7zM916.6 395.9zM911.6 375.2zM921.2 358.1zM975.6 398zM931.2 365.8zM921.7 364.4zM927.3 409.7zM930.3 363.6zM920.9 399zM910.7 396.3zM915.6 399zM925.3 369.8zM923.1 399.8zM918 399.2zM951.3 397zM912 405zM918.9 363zM923.8 404zM909 392zM968.6 363.3zM977.7 360.6zM949.6 403.8zM968.4 400.9zM910.6 367.4zM926 398.3zM965.4 395.4zM981.5 356.7zM972.2 396.3zM916.3 401.9zM919.4 371.9zM912.1 369.6zM919.9 408.4zM964.5 360.4zM935.2 397.2zM923.8 373.3zM923.7 365.9zM970.3 405.2zM960.1 374.1zM917.5 404.9zM974.1 369.6zM913.7 367.8zM964.9 367.2zM969.9 372.3zM963.2 366.4zM963.3 358.4zM921.1 397.4zM901.4 402.9zM931.5 396.5zM914.8 364.9zM954.6 361.5zM916.3 356.5zM970.1 370.7zM974 356.1zM909 395.8zM923.5 393.6zM948.9 399.7zM970.8 397zM972.7 361.9zM919.4 362.8zM958.2 364.9zM900 399.3zM913.7 349.1zM923.8 402.9zM958.5 393.4zM971.9 404.3zM918.3 416.6zM961.9 360.4zM980.5 366.3zM918.9 399.5zM922.5 353.6zM916 359.3zM958.8 360.5zM919.7 405.4zM962.3 405.6zM915 401.1zM957.4 364.4zM904.8 401.4zM909.3 359.9zM963.6 361.5zM961.2 358.5zM917 395.4zM976.5 400.3zM911.9 396.2zM917.4 391.1zM965.5 361.2zM930.9 404zM922.4 404.6zM960.6 370.2zM964.5 394.9zM961 418.8zM913.3 366.2zM918.2 360.4zM968.7 396.8zM924.6 359.9zM967.8 397.6zM918.2 398.2zM921.9 354.5zM960.9 369zM963.7 399.1zM954.5 402zM919.2 359.4zM965.8 407.4zM972.8 362.9zM925 401.6zM958.2 357.5zM964.3 395.5zM973.5 397.7zM941 408.3zM955.9 372.9zM971.5 394.6zM962.7 403.2zM973.3 359.5zM920.7 400.8zM922.9 347.1zM966.8 407.7zM918.9 362.4zM922.5 392.6zM960.8 402zM956 362.5zM958.6 358.9zM925.6 365.7zM926.8 366.3zM925.6 382.9zM903.7 372.9zM978.3 369.5zM923 356.3zM953.7 359.3zM916.4 402.3zM919.1 409.8zM957.3 413.1zM973.6 393.4zM962.3 403zM963.5 396.4zM965.2 363.6zM961.5 356.5zM919.7 400zM926.2 362.6z"/><path d="M930.5 355.1zM969.4 395zM924.1 365.6zM967.8 403.3zM927.3 358.9zM960.7 362.8zM956.8 367.8zM953.7 397.3zM916.9 387.7zM969.7 405.7zM914.3 376.5zM960.3 361.8zM970.6 390.7zM916.8 355.1zM955.7 397.7zM971 356.3zM920.3 361.7zM913.2 401.1zM966.9 396.8zM975.1 399.9zM953.8 402.8zM961.5 360.3zM918.3 400.8zM948.4 406.3zM964.4 393.8zM954.8 366.5zM959.5 403.8zM919.4 357.6zM936.8 400.1zM902.8 356.5zM975.1 361.9zM933.2 403.1zM943.7 361.1zM926.3 411zM930.8 399.7zM966.6 365.5zM962.2 395.4zM927.3 357.9zM918.6 366.6zM924.6 398.5zM917.4 403.2zM965.1 356.5zM911.1 353.9zM958.3 395.4zM969 406.8zM968.2 374.2zM961 362.4zM956.5 358.3zM959.2 405.6zM932.2 390.6zM925.7 406.3zM984.9 396.3zM960.8 392.5zM914.6 362zM968.4 357.7zM956.6 359.4zM967 362.8zM911.5 395.5zM967.9 360.5zM919.9 407.5zM923.2 364.3zM925.8 362zM975.3 405.1zM906.9 391.6zM926.9 395.2zM926.6 360.6zM967.7 359.3zM922.8 392.7zM916.3 359zM917.1 393.2zM917.4 395zM952.9 394.3zM941.9 352.8zM957.1 409.6zM917.7 353.6zM922 405zM918.5 408.9zM917.3 392.3zM978.8 405.3zM915.4 402.1zM918.3 359.5zM974 403.9zM972.3 400.1zM965.7 366zM927.7 400zM920.9 361.7zM960.4 399.6zM972.8 398.5zM923.1 363.4zM932.3 399.9zM958.3 361.9zM955 363.8zM923.2 394.8zM915.2 402.4zM970.2 405.7zM977 397.5zM915.5 368.7zM911.4 355.3zM908.4 377.6zM957.1 360.5zM964.2 376.4zM920.3 404.7zM916.8 406.3zM966.9 397.6zM911.3 397.9zM982.4 394.7zM927.8 352.2zM967.2 405.4zM961 373zM921.1 408.8zM919.6 370zM917.2 395.5zM933.8 362.2zM975.4 368.4zM917.7 359.1zM964 357.9zM920 376.5zM976.5 364.8zM916.4 363zM955.7 365.9zM961.2 395.9zM960.4 363.1zM963 361.1zM914.1 408.8zM969.6 366.5zM973.8 398.6zM926.8 387.1zM919 370.8zM924.5 363.3zM920.7 361.1zM922.1 403.7zM965.3 369.4zM920.4 401.6zM980.1 394.6zM966.9 351.4zM957.5 360.9zM921.9 398.6zM973.3 362.1zM959.9 399zM931.5 408.4zM912 367.3zM963.3 392.5zM916.8 354.9zM915.3 357.6zM947.3 362.9zM960.7 360.4zM913.1 413.4zM963.5 378.1zM920.8 395.7zM913.6 394.1zM918.8 401.2zM964.7 396.3zM914.1 359.7zM972.2 363.8zM952.8 397.7zM933 389.1zM928.7 409.8zM926.1 398.7zM971.8 400.8zM917.9 356.9zM968.4 399.2zM956.4 355.8zM919.6 408.2zM904.6 364.7zM911.1 399.9zM926 406.2zM970.2 404zM963.3 361.3zM916.4 354.8zM926.5 393.9zM934.6 371.5zM957.3 365.1zM979.2 405.7zM957.4 365.8zM926 375.5zM923.5 393.3zM912 364.9zM980.5 356.4zM912.4 363.9zM966.1 406.6zM925.4 406.6zM928.5 374.7zM958.9 356.6zM911.4 364.5zM969.5 416.8zM965.2 364.4zM927.1 386.3zM924.3 397.2zM919.9 405.2zM925.9 403.5zM915.9 366.6zM968.1 401.6zM929.8 376.9zM957.5 363.8zM963.6 396.1zM920.2 413.5zM918.8 396.2zM968.5 403.8zM962.5 355.3zM911.3 353.8z"/></g>
</g>
</svg>
<div class="t" style="left:44.9px;top:4px">1</div>
<div class="t" style="left:187.8px;top:4px">0.8</div>
<div class="t" style="left:330.6px;top:4px">0.4</div>
<div class="t" style="left:473.5px;top:4px">0</div>
<div class="t" style="left:616.3px;top:4px">-0.4</div>
<div class="t" style="left:759.2px;top:4px">-0.8</div>
<div class="t" style="left:902.0px;top:4px">-1</div>
<div class="t" style="left:44.9px;top:156px">1</div>
<div class="t" style="left:187.8px;top:156px">1</div>
<div class="t" style="left:330.6px;top:156px">1</div>
<div class="t" style="left:616.3px;top:156px">-1</div>
<div class="t" style="left:759.2px;top:156px">-1</div>
<div class="t" style="left:902.0px;top:156px">-1</div>
<div class="t" style="left:44.9px;top:309px">0</div>
<div class="t" style="left:187.8px;top:309px">0</div>
<div class="t" style="left:330.6px;top:309px">0</div>
<div class="t" style="left:473.5px;top:309px">0</div>
<div class="t" style="left:616.3px;top:309px">0</div>
<div class="t" style="left:759.2px;top:309px">0</div>
<div class="t" style="left:902.0px;top:309px">0</div>
</body>
</html>
